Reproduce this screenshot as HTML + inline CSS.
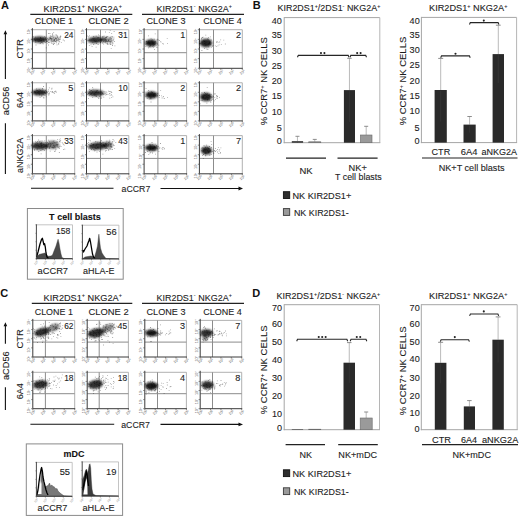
<!DOCTYPE html>
<html><head><meta charset="utf-8"><style>
html,body{margin:0;padding:0;background:#fff;}
svg{display:block;font-family:"Liberation Sans", sans-serif;}
</style></head><body>
<svg width="520" height="517" viewBox="0 0 520 517">
<defs><filter id="bl" x="-30%" y="-30%" width="160%" height="160%"><feGaussianBlur stdDeviation="0.9"/></filter></defs>
<rect width="520" height="517" fill="#fff"/>
<text x="1" y="9" font-size="11" font-weight="bold" fill="#111">A</text>
<text x="43.61" y="11.80" font-size="9" font-weight="normal" fill="#1c1c1c" stroke="#1c1c1c" stroke-width="0.1" textLength="78.28" lengthAdjust="spacingAndGlyphs">KIR2DS1<tspan font-size="5.40" dy="-3.60">+</tspan><tspan dy="3.60"> </tspan>NKG2A<tspan font-size="5.40" dy="-3.60">+</tspan><tspan dy="3.60"></tspan></text>
<text x="156.41" y="11.80" font-size="9" font-weight="normal" fill="#1c1c1c" stroke="#1c1c1c" stroke-width="0.1" textLength="75.38" lengthAdjust="spacingAndGlyphs">KIR2DS1<tspan font-size="5.40" dy="-3.60">-</tspan><tspan dy="3.60"> </tspan>NKG2A<tspan font-size="5.40" dy="-3.60">+</tspan><tspan dy="3.60"></tspan></text>
<line x1="30.3" y1="14.3" x2="132.3" y2="14.3" stroke="#222" stroke-width="1.2"/>
<line x1="142" y1="14.3" x2="244" y2="14.3" stroke="#222" stroke-width="1.2"/>
<text x="34.73" y="24.30" font-size="8.6" font-weight="normal" fill="#1c1c1c" stroke="#1c1c1c" stroke-width="0.1" textLength="38.13" lengthAdjust="spacingAndGlyphs">CLONE 1</text>
<text x="88.43" y="24.30" font-size="8.6" font-weight="normal" fill="#1c1c1c" stroke="#1c1c1c" stroke-width="0.1" textLength="40.23" lengthAdjust="spacingAndGlyphs">CLONE 2</text>
<text x="146.53" y="24.30" font-size="8.6" font-weight="normal" fill="#1c1c1c" stroke="#1c1c1c" stroke-width="0.1" textLength="38.93" lengthAdjust="spacingAndGlyphs">CLONE 3</text>
<text x="203.33" y="24.30" font-size="8.6" font-weight="normal" fill="#1c1c1c" stroke="#1c1c1c" stroke-width="0.1" textLength="38.43" lengthAdjust="spacingAndGlyphs">CLONE 4</text>
<line x1="32.4" y1="29.7" x2="74.69999999999999" y2="29.7" stroke="#a8a8a8" stroke-width="0.9"/>
<line x1="74.69999999999999" y1="29.7" x2="74.69999999999999" y2="68.3" stroke="#a8a8a8" stroke-width="0.9"/>
<line x1="46.3" y1="29.7" x2="46.3" y2="68.3" stroke="#8c8c8c" stroke-width="1.0"/>
<line x1="32.4" y1="52.7" x2="74.69999999999999" y2="52.7" stroke="#8c8c8c" stroke-width="1.0"/>
<line x1="32.4" y1="28.2" x2="32.4" y2="68.3" stroke="#3a3a3a" stroke-width="1.0"/>
<line x1="32.4" y1="68.3" x2="75.19999999999999" y2="68.3" stroke="#3a3a3a" stroke-width="1.0"/>
<line x1="30.799999999999997" y1="68.3" x2="32.4" y2="68.3" stroke="#555" stroke-width="0.7"/>
<line x1="32.4" y1="68.3" x2="32.4" y2="69.89999999999999" stroke="#555" stroke-width="0.7"/>
<line x1="30.799999999999997" y1="58.65" x2="32.4" y2="58.65" stroke="#555" stroke-width="0.7"/>
<line x1="42.974999999999994" y1="68.3" x2="42.974999999999994" y2="69.89999999999999" stroke="#555" stroke-width="0.7"/>
<line x1="30.799999999999997" y1="49.0" x2="32.4" y2="49.0" stroke="#555" stroke-width="0.7"/>
<line x1="53.55" y1="68.3" x2="53.55" y2="69.89999999999999" stroke="#555" stroke-width="0.7"/>
<line x1="30.799999999999997" y1="39.349999999999994" x2="32.4" y2="39.349999999999994" stroke="#555" stroke-width="0.7"/>
<line x1="64.125" y1="68.3" x2="64.125" y2="69.89999999999999" stroke="#555" stroke-width="0.7"/>
<line x1="30.799999999999997" y1="29.699999999999996" x2="32.4" y2="29.699999999999996" stroke="#555" stroke-width="0.7"/>
<line x1="74.69999999999999" y1="68.3" x2="74.69999999999999" y2="69.89999999999999" stroke="#555" stroke-width="0.7"/>
<text x="29.8" y="70.1" font-size="3.8" fill="#6a6a6a" transform="rotate(-90 29.8 70.1)" text-anchor="middle">10<tspan font-size="2.5" dy="-1.2">0</tspan></text>
<text x="33.2" y="73.3" font-size="3.8" fill="#6a6a6a" transform="rotate(-35 33.2 73.3)" text-anchor="middle">10<tspan font-size="2.5" dy="-1.2">0</tspan></text>
<text x="29.8" y="60.4" font-size="3.8" fill="#6a6a6a" transform="rotate(-90 29.8 60.4)" text-anchor="middle">10<tspan font-size="2.5" dy="-1.2">1</tspan></text>
<text x="43.8" y="73.3" font-size="3.8" fill="#6a6a6a" transform="rotate(-35 43.8 73.3)" text-anchor="middle">10<tspan font-size="2.5" dy="-1.2">1</tspan></text>
<text x="29.8" y="50.8" font-size="3.8" fill="#6a6a6a" transform="rotate(-90 29.8 50.8)" text-anchor="middle">10<tspan font-size="2.5" dy="-1.2">2</tspan></text>
<text x="54.3" y="73.3" font-size="3.8" fill="#6a6a6a" transform="rotate(-35 54.3 73.3)" text-anchor="middle">10<tspan font-size="2.5" dy="-1.2">2</tspan></text>
<text x="29.8" y="41.1" font-size="3.8" fill="#6a6a6a" transform="rotate(-90 29.8 41.1)" text-anchor="middle">10<tspan font-size="2.5" dy="-1.2">3</tspan></text>
<text x="64.9" y="73.3" font-size="3.8" fill="#6a6a6a" transform="rotate(-35 64.9 73.3)" text-anchor="middle">10<tspan font-size="2.5" dy="-1.2">3</tspan></text>
<text x="29.8" y="31.5" font-size="3.8" fill="#6a6a6a" transform="rotate(-90 29.8 31.5)" text-anchor="middle">10<tspan font-size="2.5" dy="-1.2">4</tspan></text>
<text x="75.5" y="73.3" font-size="3.8" fill="#6a6a6a" transform="rotate(-35 75.5 73.3)" text-anchor="middle">10<tspan font-size="2.5" dy="-1.2">4</tspan></text>
<g filter="url(#bl)"><ellipse cx="39.5" cy="39.6" rx="7.5" ry="3.2" transform="rotate(0 39.5 39.6)" fill="#111" fill-opacity="0.9"/><ellipse cx="53" cy="39" rx="6" ry="3" transform="rotate(0 53 39)" fill="#111" fill-opacity="0.3"/></g>
<path d="M32.6 40.6h0.8v0.8h-0.8zM45.1 38.3h0.8v0.8h-0.8zM32.0 39.4h0.8v0.8h-0.8zM42.2 42.4h0.8v0.8h-0.8zM32.7 36.3h0.8v0.8h-0.8zM43.5 40.8h0.8v0.8h-0.8zM48.1 42.1h0.8v0.8h-0.8zM38.9 38.9h0.8v0.8h-0.8zM54.0 38.9h0.8v0.8h-0.8zM35.1 36.7h0.8v0.8h-0.8zM40.0 40.0h0.8v0.8h-0.8zM37.6 39.4h0.8v0.8h-0.8zM41.0 41.4h0.8v0.8h-0.8zM45.7 40.1h0.8v0.8h-0.8zM35.1 40.1h0.8v0.8h-0.8zM58.1 39.5h0.8v0.8h-0.8zM44.2 36.2h0.8v0.8h-0.8zM37.9 41.3h0.8v0.8h-0.8zM39.0 40.5h0.8v0.8h-0.8zM40.1 37.0h0.8v0.8h-0.8zM42.7 37.5h0.8v0.8h-0.8zM50.0 38.3h0.8v0.8h-0.8zM43.4 39.6h0.8v0.8h-0.8zM44.9 38.1h0.8v0.8h-0.8zM45.1 39.3h0.8v0.8h-0.8zM46.6 41.2h0.8v0.8h-0.8zM40.3 37.6h0.8v0.8h-0.8zM43.8 40.8h0.8v0.8h-0.8zM48.7 38.6h0.8v0.8h-0.8zM42.6 40.9h0.8v0.8h-0.8zM41.1 40.1h0.8v0.8h-0.8zM40.5 38.1h0.8v0.8h-0.8zM33.8 38.6h0.8v0.8h-0.8zM42.8 43.5h0.8v0.8h-0.8zM45.0 42.3h0.8v0.8h-0.8zM43.9 41.4h0.8v0.8h-0.8zM40.5 41.6h0.8v0.8h-0.8zM49.5 38.8h0.8v0.8h-0.8zM35.6 44.6h0.8v0.8h-0.8zM40.9 42.1h0.8v0.8h-0.8zM44.4 36.7h0.8v0.8h-0.8zM53.2 44.1h0.8v0.8h-0.8zM40.5 41.5h0.8v0.8h-0.8zM40.2 37.3h0.8v0.8h-0.8zM38.9 40.6h0.8v0.8h-0.8zM45.8 41.4h0.8v0.8h-0.8zM39.8 43.1h0.8v0.8h-0.8zM35.2 41.6h0.8v0.8h-0.8zM45.8 38.9h0.8v0.8h-0.8zM44.9 36.8h0.8v0.8h-0.8zM54.1 40.3h0.8v0.8h-0.8zM60.0 36.6h0.8v0.8h-0.8zM53.0 40.6h0.8v0.8h-0.8zM52.3 33.3h0.8v0.8h-0.8zM56.6 44.5h0.8v0.8h-0.8zM57.5 36.8h0.8v0.8h-0.8zM51.1 39.5h0.8v0.8h-0.8zM64.2 40.5h0.8v0.8h-0.8zM53.5 42.7h0.8v0.8h-0.8zM52.6 43.5h0.8v0.8h-0.8zM49.9 37.9h0.8v0.8h-0.8zM56.2 42.4h0.8v0.8h-0.8zM55.9 39.7h0.8v0.8h-0.8zM44.8 37.3h0.8v0.8h-0.8zM50.3 37.7h0.8v0.8h-0.8zM55.6 38.2h0.8v0.8h-0.8zM56.5 39.2h0.8v0.8h-0.8zM51.5 39.3h0.8v0.8h-0.8zM54.9 41.1h0.8v0.8h-0.8zM50.9 38.4h0.8v0.8h-0.8zM46.9 42.8h0.8v0.8h-0.8zM59.5 38.6h0.8v0.8h-0.8zM50.8 36.0h0.8v0.8h-0.8zM53.8 39.5h0.8v0.8h-0.8zM62.8 39.6h0.8v0.8h-0.8zM49.5 33.1h0.8v0.8h-0.8zM59.3 39.5h0.8v0.8h-0.8zM45.8 39.4h0.8v0.8h-0.8zM45.8 47.4h0.8v0.8h-0.8zM58.0 40.4h0.8v0.8h-0.8zM52.2 33.9h0.8v0.8h-0.8zM52.4 35.3h0.8v0.8h-0.8zM55.7 33.9h0.8v0.8h-0.8zM48.9 41.9h0.8v0.8h-0.8zM60.4 36.2h0.8v0.8h-0.8zM46.1 41.1h0.8v0.8h-0.8zM56.8 36.6h0.8v0.8h-0.8zM49.9 37.3h0.8v0.8h-0.8z" fill="#000" fill-opacity="0.45"/>
<path d="M55.2 38.1h0.8v0.8h-0.8zM56.0 38.3h0.8v0.8h-0.8zM60.9 42.3h0.8v0.8h-0.8zM52.4 35.9h0.8v0.8h-0.8zM57.3 36.4h0.8v0.8h-0.8zM58.7 37.5h0.8v0.8h-0.8zM48.2 39.0h0.8v0.8h-0.8zM55.4 38.3h0.8v0.8h-0.8zM53.7 39.5h0.8v0.8h-0.8zM54.0 43.3h0.8v0.8h-0.8zM55.6 40.9h0.8v0.8h-0.8zM47.2 38.0h0.8v0.8h-0.8zM51.2 38.2h0.8v0.8h-0.8zM49.4 37.3h0.8v0.8h-0.8zM59.7 37.4h0.8v0.8h-0.8zM59.5 36.4h0.8v0.8h-0.8zM51.6 38.1h0.8v0.8h-0.8zM53.0 37.4h0.8v0.8h-0.8zM58.3 44.0h0.8v0.8h-0.8zM52.4 36.0h0.8v0.8h-0.8zM55.2 38.4h0.8v0.8h-0.8zM54.0 40.4h0.8v0.8h-0.8zM58.7 41.6h0.8v0.8h-0.8zM60.3 35.4h0.8v0.8h-0.8zM50.9 40.5h0.8v0.8h-0.8zM50.9 41.7h0.8v0.8h-0.8zM50.0 35.6h0.8v0.8h-0.8zM53.9 41.0h0.8v0.8h-0.8zM51.4 43.2h0.8v0.8h-0.8zM53.3 32.3h0.8v0.8h-0.8zM48.0 44.6h0.8v0.8h-0.8zM47.6 40.1h0.8v0.8h-0.8zM56.9 36.8h0.8v0.8h-0.8zM58.1 38.0h0.8v0.8h-0.8zM47.3 41.0h0.8v0.8h-0.8zM47.3 41.3h0.8v0.8h-0.8zM58.6 39.1h0.8v0.8h-0.8zM47.7 40.5h0.8v0.8h-0.8zM55.8 35.3h0.8v0.8h-0.8zM56.2 40.3h0.8v0.8h-0.8zM58.3 43.1h0.8v0.8h-0.8zM49.8 37.9h0.8v0.8h-0.8zM53.7 39.2h0.8v0.8h-0.8zM53.6 39.4h0.8v0.8h-0.8zM57.0 40.0h0.8v0.8h-0.8zM51.8 41.0h0.8v0.8h-0.8zM56.8 35.2h0.8v0.8h-0.8zM57.6 38.5h0.8v0.8h-0.8zM52.5 40.6h0.8v0.8h-0.8zM48.2 33.1h0.8v0.8h-0.8zM60.1 38.7h0.8v0.8h-0.8zM53.3 37.5h0.8v0.8h-0.8zM55.8 41.3h0.8v0.8h-0.8zM55.0 37.5h0.8v0.8h-0.8zM59.3 40.9h0.8v0.8h-0.8z" fill="#000" fill-opacity="0.4"/>
<text x="64.16" y="38.40" font-size="8.2" font-weight="normal" fill="#1c1c1c" stroke="#1c1c1c" stroke-width="0.1" textLength="9.28" lengthAdjust="spacingAndGlyphs">24</text>
<line x1="86.5" y1="29.7" x2="128.8" y2="29.7" stroke="#a8a8a8" stroke-width="0.9"/>
<line x1="128.8" y1="29.7" x2="128.8" y2="68.3" stroke="#a8a8a8" stroke-width="0.9"/>
<line x1="100.5" y1="29.7" x2="100.5" y2="68.3" stroke="#8c8c8c" stroke-width="1.0"/>
<line x1="86.5" y1="52.7" x2="128.8" y2="52.7" stroke="#8c8c8c" stroke-width="1.0"/>
<line x1="86.5" y1="28.2" x2="86.5" y2="68.3" stroke="#3a3a3a" stroke-width="1.0"/>
<line x1="86.5" y1="68.3" x2="129.3" y2="68.3" stroke="#3a3a3a" stroke-width="1.0"/>
<line x1="84.9" y1="68.3" x2="86.5" y2="68.3" stroke="#555" stroke-width="0.7"/>
<line x1="86.5" y1="68.3" x2="86.5" y2="69.89999999999999" stroke="#555" stroke-width="0.7"/>
<line x1="84.9" y1="58.65" x2="86.5" y2="58.65" stroke="#555" stroke-width="0.7"/>
<line x1="97.075" y1="68.3" x2="97.075" y2="69.89999999999999" stroke="#555" stroke-width="0.7"/>
<line x1="84.9" y1="49.0" x2="86.5" y2="49.0" stroke="#555" stroke-width="0.7"/>
<line x1="107.65" y1="68.3" x2="107.65" y2="69.89999999999999" stroke="#555" stroke-width="0.7"/>
<line x1="84.9" y1="39.349999999999994" x2="86.5" y2="39.349999999999994" stroke="#555" stroke-width="0.7"/>
<line x1="118.225" y1="68.3" x2="118.225" y2="69.89999999999999" stroke="#555" stroke-width="0.7"/>
<line x1="84.9" y1="29.699999999999996" x2="86.5" y2="29.699999999999996" stroke="#555" stroke-width="0.7"/>
<line x1="128.8" y1="68.3" x2="128.8" y2="69.89999999999999" stroke="#555" stroke-width="0.7"/>
<text x="83.9" y="70.1" font-size="3.8" fill="#6a6a6a" transform="rotate(-90 83.9 70.1)" text-anchor="middle">10<tspan font-size="2.5" dy="-1.2">0</tspan></text>
<text x="87.3" y="73.3" font-size="3.8" fill="#6a6a6a" transform="rotate(-35 87.3 73.3)" text-anchor="middle">10<tspan font-size="2.5" dy="-1.2">0</tspan></text>
<text x="83.9" y="60.4" font-size="3.8" fill="#6a6a6a" transform="rotate(-90 83.9 60.4)" text-anchor="middle">10<tspan font-size="2.5" dy="-1.2">1</tspan></text>
<text x="97.9" y="73.3" font-size="3.8" fill="#6a6a6a" transform="rotate(-35 97.9 73.3)" text-anchor="middle">10<tspan font-size="2.5" dy="-1.2">1</tspan></text>
<text x="83.9" y="50.8" font-size="3.8" fill="#6a6a6a" transform="rotate(-90 83.9 50.8)" text-anchor="middle">10<tspan font-size="2.5" dy="-1.2">2</tspan></text>
<text x="108.5" y="73.3" font-size="3.8" fill="#6a6a6a" transform="rotate(-35 108.5 73.3)" text-anchor="middle">10<tspan font-size="2.5" dy="-1.2">2</tspan></text>
<text x="83.9" y="41.1" font-size="3.8" fill="#6a6a6a" transform="rotate(-90 83.9 41.1)" text-anchor="middle">10<tspan font-size="2.5" dy="-1.2">3</tspan></text>
<text x="119.0" y="73.3" font-size="3.8" fill="#6a6a6a" transform="rotate(-35 119.0 73.3)" text-anchor="middle">10<tspan font-size="2.5" dy="-1.2">3</tspan></text>
<text x="83.9" y="31.5" font-size="3.8" fill="#6a6a6a" transform="rotate(-90 83.9 31.5)" text-anchor="middle">10<tspan font-size="2.5" dy="-1.2">4</tspan></text>
<text x="129.6" y="73.3" font-size="3.8" fill="#6a6a6a" transform="rotate(-35 129.6 73.3)" text-anchor="middle">10<tspan font-size="2.5" dy="-1.2">4</tspan></text>
<g filter="url(#bl)"><ellipse cx="95.5" cy="40" rx="8" ry="3.2" transform="rotate(-3 95.5 40)" fill="#111" fill-opacity="0.85"/><ellipse cx="104" cy="39.5" rx="3" ry="2.5" transform="rotate(0 104 39.5)" fill="#111" fill-opacity="0.7"/><ellipse cx="109" cy="40" rx="4" ry="3" transform="rotate(0 109 40)" fill="#111" fill-opacity="0.3"/></g>
<path d="M97.5 41.0h0.8v0.8h-0.8zM104.8 41.0h0.8v0.8h-0.8zM87.7 40.1h0.8v0.8h-0.8zM91.7 46.0h0.8v0.8h-0.8zM94.5 40.6h0.8v0.8h-0.8zM90.6 44.5h0.8v0.8h-0.8zM89.1 39.7h0.8v0.8h-0.8zM97.4 36.9h0.8v0.8h-0.8zM98.3 40.2h0.8v0.8h-0.8zM88.9 44.9h0.8v0.8h-0.8zM97.7 44.1h0.8v0.8h-0.8zM99.8 40.9h0.8v0.8h-0.8zM100.3 40.1h0.8v0.8h-0.8zM92.4 42.0h0.8v0.8h-0.8zM101.3 38.9h0.8v0.8h-0.8zM96.3 41.5h0.8v0.8h-0.8zM97.6 37.8h0.8v0.8h-0.8zM94.6 39.6h0.8v0.8h-0.8zM86.8 35.6h0.8v0.8h-0.8zM93.7 38.0h0.8v0.8h-0.8zM93.4 36.5h0.8v0.8h-0.8zM103.4 41.0h0.8v0.8h-0.8zM93.3 44.1h0.8v0.8h-0.8zM94.4 41.0h0.8v0.8h-0.8zM102.4 36.1h0.8v0.8h-0.8zM95.7 46.7h0.8v0.8h-0.8zM98.1 37.3h0.8v0.8h-0.8zM94.9 41.1h0.8v0.8h-0.8zM88.0 36.5h0.8v0.8h-0.8zM96.2 42.9h0.8v0.8h-0.8zM98.2 34.4h0.8v0.8h-0.8zM103.3 41.4h0.8v0.8h-0.8zM93.2 38.8h0.8v0.8h-0.8zM95.8 35.7h0.8v0.8h-0.8zM100.1 42.1h0.8v0.8h-0.8zM91.5 39.5h0.8v0.8h-0.8zM98.8 35.5h0.8v0.8h-0.8zM86.5 43.5h0.8v0.8h-0.8zM103.2 41.3h0.8v0.8h-0.8zM96.1 40.5h0.8v0.8h-0.8zM104.5 38.5h0.8v0.8h-0.8zM100.5 38.9h0.8v0.8h-0.8zM93.6 39.9h0.8v0.8h-0.8zM92.4 38.2h0.8v0.8h-0.8zM95.3 41.0h0.8v0.8h-0.8zM102.4 37.3h0.8v0.8h-0.8zM97.6 37.2h0.8v0.8h-0.8zM99.4 40.7h0.8v0.8h-0.8zM98.8 37.3h0.8v0.8h-0.8zM89.0 35.4h0.8v0.8h-0.8zM93.1 36.3h0.8v0.8h-0.8zM101.1 39.9h0.8v0.8h-0.8zM107.7 41.1h0.8v0.8h-0.8zM99.5 38.8h0.8v0.8h-0.8zM105.8 40.7h0.8v0.8h-0.8zM103.3 43.7h0.8v0.8h-0.8zM104.0 40.5h0.8v0.8h-0.8zM105.2 39.3h0.8v0.8h-0.8zM102.3 42.6h0.8v0.8h-0.8zM106.4 36.4h0.8v0.8h-0.8zM105.9 40.9h0.8v0.8h-0.8zM105.6 39.4h0.8v0.8h-0.8zM103.6 40.4h0.8v0.8h-0.8zM107.2 44.0h0.8v0.8h-0.8zM100.9 41.3h0.8v0.8h-0.8zM105.8 39.6h0.8v0.8h-0.8zM101.3 39.0h0.8v0.8h-0.8zM107.2 41.0h0.8v0.8h-0.8zM109.6 43.0h0.8v0.8h-0.8zM109.9 36.9h0.8v0.8h-0.8zM108.6 40.9h0.8v0.8h-0.8zM110.5 41.3h0.8v0.8h-0.8zM114.5 45.5h0.8v0.8h-0.8zM108.6 40.7h0.8v0.8h-0.8zM109.6 42.5h0.8v0.8h-0.8zM108.0 40.2h0.8v0.8h-0.8zM106.3 37.2h0.8v0.8h-0.8zM109.7 37.1h0.8v0.8h-0.8zM110.7 43.7h0.8v0.8h-0.8zM109.4 40.8h0.8v0.8h-0.8zM107.4 36.2h0.8v0.8h-0.8zM110.4 38.7h0.8v0.8h-0.8zM110.1 41.5h0.8v0.8h-0.8zM112.1 45.1h0.8v0.8h-0.8zM109.6 41.2h0.8v0.8h-0.8zM104.6 42.2h0.8v0.8h-0.8zM105.8 37.3h0.8v0.8h-0.8zM111.3 33.2h0.8v0.8h-0.8zM108.8 40.6h0.8v0.8h-0.8zM106.8 43.4h0.8v0.8h-0.8zM106.4 40.8h0.8v0.8h-0.8zM103.6 35.8h0.8v0.8h-0.8zM112.6 42.7h0.8v0.8h-0.8z" fill="#000" fill-opacity="0.45"/>
<path d="M111.9 36.8h0.8v0.8h-0.8zM111.9 36.0h0.8v0.8h-0.8zM105.6 42.7h0.8v0.8h-0.8zM108.1 39.6h0.8v0.8h-0.8zM108.2 40.1h0.8v0.8h-0.8zM110.7 38.4h0.8v0.8h-0.8zM113.5 38.5h0.8v0.8h-0.8zM111.0 37.7h0.8v0.8h-0.8zM110.1 43.8h0.8v0.8h-0.8zM109.8 30.2h0.8v0.8h-0.8zM110.8 48.2h0.8v0.8h-0.8zM111.3 40.6h0.8v0.8h-0.8zM105.2 31.6h0.8v0.8h-0.8zM110.5 39.8h0.8v0.8h-0.8zM108.6 37.7h0.8v0.8h-0.8zM105.5 41.0h0.8v0.8h-0.8zM105.9 42.7h0.8v0.8h-0.8zM107.3 43.1h0.8v0.8h-0.8zM109.6 37.9h0.8v0.8h-0.8zM113.7 31.1h0.8v0.8h-0.8zM110.7 35.9h0.8v0.8h-0.8zM112.3 43.6h0.8v0.8h-0.8zM111.8 41.9h0.8v0.8h-0.8zM105.4 41.6h0.8v0.8h-0.8zM109.2 39.2h0.8v0.8h-0.8zM106.5 35.9h0.8v0.8h-0.8zM105.5 40.1h0.8v0.8h-0.8zM113.5 36.8h0.8v0.8h-0.8zM110.4 41.8h0.8v0.8h-0.8zM108.3 39.0h0.8v0.8h-0.8zM110.0 44.3h0.8v0.8h-0.8zM107.6 39.5h0.8v0.8h-0.8zM105.1 37.5h0.8v0.8h-0.8zM107.2 41.7h0.8v0.8h-0.8zM111.8 40.5h0.8v0.8h-0.8zM108.5 44.0h0.8v0.8h-0.8zM105.5 37.0h0.8v0.8h-0.8zM113.9 41.1h0.8v0.8h-0.8zM113.1 39.6h0.8v0.8h-0.8zM108.9 32.0h0.8v0.8h-0.8z" fill="#000" fill-opacity="0.4"/>
<text x="118.26" y="38.40" font-size="8.2" font-weight="normal" fill="#1c1c1c" stroke="#1c1c1c" stroke-width="0.1" textLength="9.28" lengthAdjust="spacingAndGlyphs">31</text>
<line x1="144.1" y1="29.7" x2="186.6" y2="29.7" stroke="#a8a8a8" stroke-width="0.9"/>
<line x1="186.6" y1="29.7" x2="186.6" y2="68.3" stroke="#a8a8a8" stroke-width="0.9"/>
<line x1="157.9" y1="29.7" x2="157.9" y2="68.3" stroke="#8c8c8c" stroke-width="1.0"/>
<line x1="144.1" y1="52.7" x2="186.6" y2="52.7" stroke="#8c8c8c" stroke-width="1.0"/>
<line x1="144.1" y1="28.2" x2="144.1" y2="68.3" stroke="#3a3a3a" stroke-width="1.0"/>
<line x1="144.1" y1="68.3" x2="187.1" y2="68.3" stroke="#3a3a3a" stroke-width="1.0"/>
<line x1="142.5" y1="68.3" x2="144.1" y2="68.3" stroke="#555" stroke-width="0.7"/>
<line x1="144.1" y1="68.3" x2="144.1" y2="69.89999999999999" stroke="#555" stroke-width="0.7"/>
<line x1="142.5" y1="58.65" x2="144.1" y2="58.65" stroke="#555" stroke-width="0.7"/>
<line x1="154.725" y1="68.3" x2="154.725" y2="69.89999999999999" stroke="#555" stroke-width="0.7"/>
<line x1="142.5" y1="49.0" x2="144.1" y2="49.0" stroke="#555" stroke-width="0.7"/>
<line x1="165.35" y1="68.3" x2="165.35" y2="69.89999999999999" stroke="#555" stroke-width="0.7"/>
<line x1="142.5" y1="39.349999999999994" x2="144.1" y2="39.349999999999994" stroke="#555" stroke-width="0.7"/>
<line x1="175.975" y1="68.3" x2="175.975" y2="69.89999999999999" stroke="#555" stroke-width="0.7"/>
<line x1="142.5" y1="29.699999999999996" x2="144.1" y2="29.699999999999996" stroke="#555" stroke-width="0.7"/>
<line x1="186.6" y1="68.3" x2="186.6" y2="69.89999999999999" stroke="#555" stroke-width="0.7"/>
<text x="141.5" y="70.1" font-size="3.8" fill="#6a6a6a" transform="rotate(-90 141.5 70.1)" text-anchor="middle">10<tspan font-size="2.5" dy="-1.2">0</tspan></text>
<text x="144.9" y="73.3" font-size="3.8" fill="#6a6a6a" transform="rotate(-35 144.9 73.3)" text-anchor="middle">10<tspan font-size="2.5" dy="-1.2">0</tspan></text>
<text x="141.5" y="60.4" font-size="3.8" fill="#6a6a6a" transform="rotate(-90 141.5 60.4)" text-anchor="middle">10<tspan font-size="2.5" dy="-1.2">1</tspan></text>
<text x="155.5" y="73.3" font-size="3.8" fill="#6a6a6a" transform="rotate(-35 155.5 73.3)" text-anchor="middle">10<tspan font-size="2.5" dy="-1.2">1</tspan></text>
<text x="141.5" y="50.8" font-size="3.8" fill="#6a6a6a" transform="rotate(-90 141.5 50.8)" text-anchor="middle">10<tspan font-size="2.5" dy="-1.2">2</tspan></text>
<text x="166.2" y="73.3" font-size="3.8" fill="#6a6a6a" transform="rotate(-35 166.2 73.3)" text-anchor="middle">10<tspan font-size="2.5" dy="-1.2">2</tspan></text>
<text x="141.5" y="41.1" font-size="3.8" fill="#6a6a6a" transform="rotate(-90 141.5 41.1)" text-anchor="middle">10<tspan font-size="2.5" dy="-1.2">3</tspan></text>
<text x="176.8" y="73.3" font-size="3.8" fill="#6a6a6a" transform="rotate(-35 176.8 73.3)" text-anchor="middle">10<tspan font-size="2.5" dy="-1.2">3</tspan></text>
<text x="141.5" y="31.5" font-size="3.8" fill="#6a6a6a" transform="rotate(-90 141.5 31.5)" text-anchor="middle">10<tspan font-size="2.5" dy="-1.2">4</tspan></text>
<text x="187.4" y="73.3" font-size="3.8" fill="#6a6a6a" transform="rotate(-35 187.4 73.3)" text-anchor="middle">10<tspan font-size="2.5" dy="-1.2">4</tspan></text>
<g filter="url(#bl)"><ellipse cx="151" cy="43" rx="6" ry="3.5" transform="rotate(0 151 43)" fill="#111" fill-opacity="0.95"/></g>
<path d="M152.7 43.1h0.8v0.8h-0.8zM156.5 47.1h0.8v0.8h-0.8zM148.2 35.4h0.8v0.8h-0.8zM153.5 44.5h0.8v0.8h-0.8zM145.4 45.9h0.8v0.8h-0.8zM155.2 41.2h0.8v0.8h-0.8zM151.8 46.2h0.8v0.8h-0.8zM152.8 45.2h0.8v0.8h-0.8zM154.4 41.5h0.8v0.8h-0.8zM146.7 42.7h0.8v0.8h-0.8zM156.9 38.8h0.8v0.8h-0.8zM154.8 33.4h0.8v0.8h-0.8zM148.0 47.4h0.8v0.8h-0.8zM148.9 43.1h0.8v0.8h-0.8zM153.2 46.8h0.8v0.8h-0.8zM146.1 41.1h0.8v0.8h-0.8zM148.0 42.4h0.8v0.8h-0.8zM157.8 39.6h0.8v0.8h-0.8zM148.6 39.9h0.8v0.8h-0.8zM145.4 43.8h0.8v0.8h-0.8zM154.2 49.2h0.8v0.8h-0.8zM149.7 43.6h0.8v0.8h-0.8zM150.1 45.1h0.8v0.8h-0.8zM152.3 39.5h0.8v0.8h-0.8zM153.8 45.8h0.8v0.8h-0.8zM154.4 44.1h0.8v0.8h-0.8zM151.8 41.4h0.8v0.8h-0.8zM145.9 41.2h0.8v0.8h-0.8zM147.8 41.1h0.8v0.8h-0.8zM151.4 40.4h0.8v0.8h-0.8zM157.2 43.6h0.8v0.8h-0.8zM149.5 46.7h0.8v0.8h-0.8zM156.6 39.6h0.8v0.8h-0.8zM145.6 43.7h0.8v0.8h-0.8zM155.6 42.7h0.8v0.8h-0.8zM159.2 40.2h0.8v0.8h-0.8zM155.8 45.5h0.8v0.8h-0.8zM150.7 38.6h0.8v0.8h-0.8zM148.8 45.6h0.8v0.8h-0.8zM148.7 42.1h0.8v0.8h-0.8zM152.5 43.8h0.8v0.8h-0.8zM149.7 46.1h0.8v0.8h-0.8zM153.9 38.8h0.8v0.8h-0.8zM151.7 41.5h0.8v0.8h-0.8zM158.4 44.7h0.8v0.8h-0.8zM152.4 42.4h0.8v0.8h-0.8z" fill="#000" fill-opacity="0.45"/>
<path d="M162.3 42.9h0.8v0.8h-0.8zM167.0 43.2h0.8v0.8h-0.8zM160.6 41.7h0.8v0.8h-0.8zM162.9 43.6h0.8v0.8h-0.8zM160.3 41.2h0.8v0.8h-0.8zM166.8 37.9h0.8v0.8h-0.8z" fill="#000" fill-opacity="0.4"/>
<text x="180.26" y="38.40" font-size="8.2" font-weight="normal" fill="#1c1c1c" stroke="#1c1c1c" stroke-width="0.1" textLength="5.08" lengthAdjust="spacingAndGlyphs">1</text>
<line x1="199.4" y1="29.7" x2="242.3" y2="29.7" stroke="#a8a8a8" stroke-width="0.9"/>
<line x1="242.3" y1="29.7" x2="242.3" y2="68.3" stroke="#a8a8a8" stroke-width="0.9"/>
<line x1="213.5" y1="29.7" x2="213.5" y2="68.3" stroke="#8c8c8c" stroke-width="1.0"/>
<line x1="199.4" y1="52.7" x2="242.3" y2="52.7" stroke="#8c8c8c" stroke-width="1.0"/>
<line x1="199.4" y1="28.2" x2="199.4" y2="68.3" stroke="#3a3a3a" stroke-width="1.0"/>
<line x1="199.4" y1="68.3" x2="242.8" y2="68.3" stroke="#3a3a3a" stroke-width="1.0"/>
<line x1="197.8" y1="68.3" x2="199.4" y2="68.3" stroke="#555" stroke-width="0.7"/>
<line x1="199.4" y1="68.3" x2="199.4" y2="69.89999999999999" stroke="#555" stroke-width="0.7"/>
<line x1="197.8" y1="58.65" x2="199.4" y2="58.65" stroke="#555" stroke-width="0.7"/>
<line x1="210.125" y1="68.3" x2="210.125" y2="69.89999999999999" stroke="#555" stroke-width="0.7"/>
<line x1="197.8" y1="49.0" x2="199.4" y2="49.0" stroke="#555" stroke-width="0.7"/>
<line x1="220.85" y1="68.3" x2="220.85" y2="69.89999999999999" stroke="#555" stroke-width="0.7"/>
<line x1="197.8" y1="39.349999999999994" x2="199.4" y2="39.349999999999994" stroke="#555" stroke-width="0.7"/>
<line x1="231.575" y1="68.3" x2="231.575" y2="69.89999999999999" stroke="#555" stroke-width="0.7"/>
<line x1="197.8" y1="29.699999999999996" x2="199.4" y2="29.699999999999996" stroke="#555" stroke-width="0.7"/>
<line x1="242.3" y1="68.3" x2="242.3" y2="69.89999999999999" stroke="#555" stroke-width="0.7"/>
<text x="196.8" y="70.1" font-size="3.8" fill="#6a6a6a" transform="rotate(-90 196.8 70.1)" text-anchor="middle">10<tspan font-size="2.5" dy="-1.2">0</tspan></text>
<text x="200.2" y="73.3" font-size="3.8" fill="#6a6a6a" transform="rotate(-35 200.2 73.3)" text-anchor="middle">10<tspan font-size="2.5" dy="-1.2">0</tspan></text>
<text x="196.8" y="60.4" font-size="3.8" fill="#6a6a6a" transform="rotate(-90 196.8 60.4)" text-anchor="middle">10<tspan font-size="2.5" dy="-1.2">1</tspan></text>
<text x="210.9" y="73.3" font-size="3.8" fill="#6a6a6a" transform="rotate(-35 210.9 73.3)" text-anchor="middle">10<tspan font-size="2.5" dy="-1.2">1</tspan></text>
<text x="196.8" y="50.8" font-size="3.8" fill="#6a6a6a" transform="rotate(-90 196.8 50.8)" text-anchor="middle">10<tspan font-size="2.5" dy="-1.2">2</tspan></text>
<text x="221.7" y="73.3" font-size="3.8" fill="#6a6a6a" transform="rotate(-35 221.7 73.3)" text-anchor="middle">10<tspan font-size="2.5" dy="-1.2">2</tspan></text>
<text x="196.8" y="41.1" font-size="3.8" fill="#6a6a6a" transform="rotate(-90 196.8 41.1)" text-anchor="middle">10<tspan font-size="2.5" dy="-1.2">3</tspan></text>
<text x="232.4" y="73.3" font-size="3.8" fill="#6a6a6a" transform="rotate(-35 232.4 73.3)" text-anchor="middle">10<tspan font-size="2.5" dy="-1.2">3</tspan></text>
<text x="196.8" y="31.5" font-size="3.8" fill="#6a6a6a" transform="rotate(-90 196.8 31.5)" text-anchor="middle">10<tspan font-size="2.5" dy="-1.2">4</tspan></text>
<text x="243.1" y="73.3" font-size="3.8" fill="#6a6a6a" transform="rotate(-35 243.1 73.3)" text-anchor="middle">10<tspan font-size="2.5" dy="-1.2">4</tspan></text>
<g filter="url(#bl)"><ellipse cx="206" cy="43" rx="6.3" ry="4.3" transform="rotate(0 206 43)" fill="#111" fill-opacity="0.9"/></g>
<path d="M201.5 50.1h0.8v0.8h-0.8zM202.1 37.3h0.8v0.8h-0.8zM209.2 42.0h0.8v0.8h-0.8zM209.9 36.5h0.8v0.8h-0.8zM212.5 45.1h0.8v0.8h-0.8zM203.8 40.9h0.8v0.8h-0.8zM209.4 40.7h0.8v0.8h-0.8zM209.6 41.3h0.8v0.8h-0.8zM208.0 37.3h0.8v0.8h-0.8zM202.7 36.7h0.8v0.8h-0.8zM203.7 41.0h0.8v0.8h-0.8zM204.9 43.4h0.8v0.8h-0.8zM207.0 38.7h0.8v0.8h-0.8zM205.4 34.8h0.8v0.8h-0.8zM200.9 39.4h0.8v0.8h-0.8zM199.1 47.0h0.8v0.8h-0.8zM208.3 43.3h0.8v0.8h-0.8zM204.1 47.9h0.8v0.8h-0.8zM209.8 44.2h0.8v0.8h-0.8zM204.8 41.7h0.8v0.8h-0.8zM204.0 42.9h0.8v0.8h-0.8zM199.2 43.1h0.8v0.8h-0.8zM209.3 43.4h0.8v0.8h-0.8zM200.3 43.3h0.8v0.8h-0.8zM201.3 38.3h0.8v0.8h-0.8zM216.6 41.1h0.8v0.8h-0.8zM201.1 37.7h0.8v0.8h-0.8zM204.2 41.0h0.8v0.8h-0.8zM210.7 39.6h0.8v0.8h-0.8zM201.6 41.5h0.8v0.8h-0.8zM208.3 46.4h0.8v0.8h-0.8zM212.2 46.3h0.8v0.8h-0.8zM205.7 44.2h0.8v0.8h-0.8zM208.8 40.5h0.8v0.8h-0.8zM207.8 44.2h0.8v0.8h-0.8zM205.7 42.4h0.8v0.8h-0.8zM208.2 39.4h0.8v0.8h-0.8zM199.4 43.5h0.8v0.8h-0.8zM207.5 38.6h0.8v0.8h-0.8zM207.6 43.8h0.8v0.8h-0.8zM205.3 44.7h0.8v0.8h-0.8zM207.9 43.5h0.8v0.8h-0.8zM209.4 42.1h0.8v0.8h-0.8zM199.8 43.4h0.8v0.8h-0.8zM209.0 42.6h0.8v0.8h-0.8zM208.9 43.1h0.8v0.8h-0.8zM201.9 36.9h0.8v0.8h-0.8zM203.4 40.3h0.8v0.8h-0.8zM206.5 48.8h0.8v0.8h-0.8zM199.2 40.6h0.8v0.8h-0.8zM211.0 46.8h0.8v0.8h-0.8zM204.6 43.2h0.8v0.8h-0.8zM207.5 48.9h0.8v0.8h-0.8z" fill="#000" fill-opacity="0.45"/>
<path d="M217.6 42.3h0.8v0.8h-0.8zM219.3 41.6h0.8v0.8h-0.8zM224.9 43.8h0.8v0.8h-0.8zM220.9 44.0h0.8v0.8h-0.8zM218.7 44.4h0.8v0.8h-0.8zM217.5 45.4h0.8v0.8h-0.8zM220.3 39.5h0.8v0.8h-0.8zM214.9 45.5h0.8v0.8h-0.8zM216.1 46.2h0.8v0.8h-0.8zM223.4 39.8h0.8v0.8h-0.8zM224.9 43.6h0.8v0.8h-0.8zM216.2 42.3h0.8v0.8h-0.8z" fill="#000" fill-opacity="0.4"/>
<text x="235.96" y="38.40" font-size="8.2" font-weight="normal" fill="#1c1c1c" stroke="#1c1c1c" stroke-width="0.1" textLength="5.08" lengthAdjust="spacingAndGlyphs">2</text>
<line x1="32.4" y1="82.75" x2="74.69999999999999" y2="82.75" stroke="#a8a8a8" stroke-width="0.9"/>
<line x1="74.69999999999999" y1="82.75" x2="74.69999999999999" y2="120.9" stroke="#a8a8a8" stroke-width="0.9"/>
<line x1="46.3" y1="82.75" x2="46.3" y2="120.9" stroke="#8c8c8c" stroke-width="1.0"/>
<line x1="32.4" y1="105.8" x2="74.69999999999999" y2="105.8" stroke="#8c8c8c" stroke-width="1.0"/>
<line x1="32.4" y1="81.25" x2="32.4" y2="120.9" stroke="#3a3a3a" stroke-width="1.0"/>
<line x1="32.4" y1="120.9" x2="75.19999999999999" y2="120.9" stroke="#3a3a3a" stroke-width="1.0"/>
<line x1="30.799999999999997" y1="120.9" x2="32.4" y2="120.9" stroke="#555" stroke-width="0.7"/>
<line x1="32.4" y1="120.9" x2="32.4" y2="122.5" stroke="#555" stroke-width="0.7"/>
<line x1="30.799999999999997" y1="111.36250000000001" x2="32.4" y2="111.36250000000001" stroke="#555" stroke-width="0.7"/>
<line x1="42.974999999999994" y1="120.9" x2="42.974999999999994" y2="122.5" stroke="#555" stroke-width="0.7"/>
<line x1="30.799999999999997" y1="101.825" x2="32.4" y2="101.825" stroke="#555" stroke-width="0.7"/>
<line x1="53.55" y1="120.9" x2="53.55" y2="122.5" stroke="#555" stroke-width="0.7"/>
<line x1="30.799999999999997" y1="92.28750000000001" x2="32.4" y2="92.28750000000001" stroke="#555" stroke-width="0.7"/>
<line x1="64.125" y1="120.9" x2="64.125" y2="122.5" stroke="#555" stroke-width="0.7"/>
<line x1="30.799999999999997" y1="82.75" x2="32.4" y2="82.75" stroke="#555" stroke-width="0.7"/>
<line x1="74.69999999999999" y1="120.9" x2="74.69999999999999" y2="122.5" stroke="#555" stroke-width="0.7"/>
<text x="29.8" y="122.7" font-size="3.8" fill="#6a6a6a" transform="rotate(-90 29.8 122.7)" text-anchor="middle">10<tspan font-size="2.5" dy="-1.2">0</tspan></text>
<text x="33.2" y="125.9" font-size="3.8" fill="#6a6a6a" transform="rotate(-35 33.2 125.9)" text-anchor="middle">10<tspan font-size="2.5" dy="-1.2">0</tspan></text>
<text x="29.8" y="113.2" font-size="3.8" fill="#6a6a6a" transform="rotate(-90 29.8 113.2)" text-anchor="middle">10<tspan font-size="2.5" dy="-1.2">1</tspan></text>
<text x="43.8" y="125.9" font-size="3.8" fill="#6a6a6a" transform="rotate(-35 43.8 125.9)" text-anchor="middle">10<tspan font-size="2.5" dy="-1.2">1</tspan></text>
<text x="29.8" y="103.6" font-size="3.8" fill="#6a6a6a" transform="rotate(-90 29.8 103.6)" text-anchor="middle">10<tspan font-size="2.5" dy="-1.2">2</tspan></text>
<text x="54.3" y="125.9" font-size="3.8" fill="#6a6a6a" transform="rotate(-35 54.3 125.9)" text-anchor="middle">10<tspan font-size="2.5" dy="-1.2">2</tspan></text>
<text x="29.8" y="94.1" font-size="3.8" fill="#6a6a6a" transform="rotate(-90 29.8 94.1)" text-anchor="middle">10<tspan font-size="2.5" dy="-1.2">3</tspan></text>
<text x="64.9" y="125.9" font-size="3.8" fill="#6a6a6a" transform="rotate(-35 64.9 125.9)" text-anchor="middle">10<tspan font-size="2.5" dy="-1.2">3</tspan></text>
<text x="29.8" y="84.5" font-size="3.8" fill="#6a6a6a" transform="rotate(-90 29.8 84.5)" text-anchor="middle">10<tspan font-size="2.5" dy="-1.2">4</tspan></text>
<text x="75.5" y="125.9" font-size="3.8" fill="#6a6a6a" transform="rotate(-35 75.5 125.9)" text-anchor="middle">10<tspan font-size="2.5" dy="-1.2">4</tspan></text>
<g filter="url(#bl)"><ellipse cx="39.5" cy="92.4" rx="7.5" ry="3.2" transform="rotate(0 39.5 92.4)" fill="#111" fill-opacity="0.9"/></g>
<path d="M38.8 92.4h0.8v0.8h-0.8zM39.2 94.5h0.8v0.8h-0.8zM37.4 91.9h0.8v0.8h-0.8zM48.4 94.8h0.8v0.8h-0.8zM43.2 86.1h0.8v0.8h-0.8zM42.2 88.1h0.8v0.8h-0.8zM33.8 90.9h0.8v0.8h-0.8zM48.9 87.5h0.8v0.8h-0.8zM45.8 96.4h0.8v0.8h-0.8zM45.2 93.2h0.8v0.8h-0.8zM46.3 90.9h0.8v0.8h-0.8zM39.0 93.5h0.8v0.8h-0.8zM35.3 92.0h0.8v0.8h-0.8zM41.6 91.4h0.8v0.8h-0.8zM45.4 91.9h0.8v0.8h-0.8zM34.3 91.9h0.8v0.8h-0.8zM37.0 90.2h0.8v0.8h-0.8zM43.4 97.1h0.8v0.8h-0.8zM37.3 92.2h0.8v0.8h-0.8zM38.8 89.5h0.8v0.8h-0.8zM45.7 92.7h0.8v0.8h-0.8zM46.7 92.0h0.8v0.8h-0.8zM39.7 97.0h0.8v0.8h-0.8zM39.0 93.4h0.8v0.8h-0.8zM47.0 91.8h0.8v0.8h-0.8zM44.8 90.3h0.8v0.8h-0.8zM38.3 91.1h0.8v0.8h-0.8zM44.3 91.4h0.8v0.8h-0.8zM35.7 93.7h0.8v0.8h-0.8zM48.2 89.4h0.8v0.8h-0.8zM51.4 88.6h0.8v0.8h-0.8zM36.0 90.0h0.8v0.8h-0.8zM48.7 93.6h0.8v0.8h-0.8zM41.2 95.6h0.8v0.8h-0.8zM44.2 92.0h0.8v0.8h-0.8zM36.1 88.4h0.8v0.8h-0.8zM45.7 91.5h0.8v0.8h-0.8zM38.2 92.6h0.8v0.8h-0.8zM42.8 94.3h0.8v0.8h-0.8zM43.5 97.6h0.8v0.8h-0.8zM45.1 89.7h0.8v0.8h-0.8zM42.5 89.8h0.8v0.8h-0.8zM34.5 91.1h0.8v0.8h-0.8zM44.6 95.0h0.8v0.8h-0.8zM40.1 90.2h0.8v0.8h-0.8zM38.8 91.3h0.8v0.8h-0.8zM44.0 91.7h0.8v0.8h-0.8zM37.3 90.2h0.8v0.8h-0.8z" fill="#000" fill-opacity="0.45"/>
<path d="M54.1 93.2h0.8v0.8h-0.8zM54.4 91.3h0.8v0.8h-0.8zM53.9 91.4h0.8v0.8h-0.8zM55.1 90.7h0.8v0.8h-0.8zM51.5 91.6h0.8v0.8h-0.8zM48.3 91.0h0.8v0.8h-0.8zM51.6 87.7h0.8v0.8h-0.8zM53.4 92.5h0.8v0.8h-0.8zM55.5 91.1h0.8v0.8h-0.8zM52.6 92.2h0.8v0.8h-0.8zM49.2 92.6h0.8v0.8h-0.8zM52.2 91.6h0.8v0.8h-0.8zM55.4 90.7h0.8v0.8h-0.8zM50.3 91.2h0.8v0.8h-0.8zM55.8 92.2h0.8v0.8h-0.8zM48.2 93.5h0.8v0.8h-0.8zM52.0 90.9h0.8v0.8h-0.8zM52.0 91.7h0.8v0.8h-0.8z" fill="#000" fill-opacity="0.4"/>
<text x="68.36" y="91.45" font-size="8.2" font-weight="normal" fill="#1c1c1c" stroke="#1c1c1c" stroke-width="0.1" textLength="5.08" lengthAdjust="spacingAndGlyphs">5</text>
<line x1="86.5" y1="82.75" x2="128.8" y2="82.75" stroke="#a8a8a8" stroke-width="0.9"/>
<line x1="128.8" y1="82.75" x2="128.8" y2="120.9" stroke="#a8a8a8" stroke-width="0.9"/>
<line x1="100.5" y1="82.75" x2="100.5" y2="120.9" stroke="#8c8c8c" stroke-width="1.0"/>
<line x1="86.5" y1="105.8" x2="128.8" y2="105.8" stroke="#8c8c8c" stroke-width="1.0"/>
<line x1="86.5" y1="81.25" x2="86.5" y2="120.9" stroke="#3a3a3a" stroke-width="1.0"/>
<line x1="86.5" y1="120.9" x2="129.3" y2="120.9" stroke="#3a3a3a" stroke-width="1.0"/>
<line x1="84.9" y1="120.9" x2="86.5" y2="120.9" stroke="#555" stroke-width="0.7"/>
<line x1="86.5" y1="120.9" x2="86.5" y2="122.5" stroke="#555" stroke-width="0.7"/>
<line x1="84.9" y1="111.36250000000001" x2="86.5" y2="111.36250000000001" stroke="#555" stroke-width="0.7"/>
<line x1="97.075" y1="120.9" x2="97.075" y2="122.5" stroke="#555" stroke-width="0.7"/>
<line x1="84.9" y1="101.825" x2="86.5" y2="101.825" stroke="#555" stroke-width="0.7"/>
<line x1="107.65" y1="120.9" x2="107.65" y2="122.5" stroke="#555" stroke-width="0.7"/>
<line x1="84.9" y1="92.28750000000001" x2="86.5" y2="92.28750000000001" stroke="#555" stroke-width="0.7"/>
<line x1="118.225" y1="120.9" x2="118.225" y2="122.5" stroke="#555" stroke-width="0.7"/>
<line x1="84.9" y1="82.75" x2="86.5" y2="82.75" stroke="#555" stroke-width="0.7"/>
<line x1="128.8" y1="120.9" x2="128.8" y2="122.5" stroke="#555" stroke-width="0.7"/>
<text x="83.9" y="122.7" font-size="3.8" fill="#6a6a6a" transform="rotate(-90 83.9 122.7)" text-anchor="middle">10<tspan font-size="2.5" dy="-1.2">0</tspan></text>
<text x="87.3" y="125.9" font-size="3.8" fill="#6a6a6a" transform="rotate(-35 87.3 125.9)" text-anchor="middle">10<tspan font-size="2.5" dy="-1.2">0</tspan></text>
<text x="83.9" y="113.2" font-size="3.8" fill="#6a6a6a" transform="rotate(-90 83.9 113.2)" text-anchor="middle">10<tspan font-size="2.5" dy="-1.2">1</tspan></text>
<text x="97.9" y="125.9" font-size="3.8" fill="#6a6a6a" transform="rotate(-35 97.9 125.9)" text-anchor="middle">10<tspan font-size="2.5" dy="-1.2">1</tspan></text>
<text x="83.9" y="103.6" font-size="3.8" fill="#6a6a6a" transform="rotate(-90 83.9 103.6)" text-anchor="middle">10<tspan font-size="2.5" dy="-1.2">2</tspan></text>
<text x="108.5" y="125.9" font-size="3.8" fill="#6a6a6a" transform="rotate(-35 108.5 125.9)" text-anchor="middle">10<tspan font-size="2.5" dy="-1.2">2</tspan></text>
<text x="83.9" y="94.1" font-size="3.8" fill="#6a6a6a" transform="rotate(-90 83.9 94.1)" text-anchor="middle">10<tspan font-size="2.5" dy="-1.2">3</tspan></text>
<text x="119.0" y="125.9" font-size="3.8" fill="#6a6a6a" transform="rotate(-35 119.0 125.9)" text-anchor="middle">10<tspan font-size="2.5" dy="-1.2">3</tspan></text>
<text x="83.9" y="84.5" font-size="3.8" fill="#6a6a6a" transform="rotate(-90 83.9 84.5)" text-anchor="middle">10<tspan font-size="2.5" dy="-1.2">4</tspan></text>
<text x="129.6" y="125.9" font-size="3.8" fill="#6a6a6a" transform="rotate(-35 129.6 125.9)" text-anchor="middle">10<tspan font-size="2.5" dy="-1.2">4</tspan></text>
<g filter="url(#bl)"><ellipse cx="95.5" cy="93" rx="8.5" ry="3.2" transform="rotate(0 95.5 93)" fill="#111" fill-opacity="0.85"/></g>
<path d="M109.4 97.7h0.8v0.8h-0.8zM94.9 91.9h0.8v0.8h-0.8zM93.6 94.0h0.8v0.8h-0.8zM90.8 94.5h0.8v0.8h-0.8zM92.6 88.7h0.8v0.8h-0.8zM90.1 94.3h0.8v0.8h-0.8zM102.9 93.6h0.8v0.8h-0.8zM96.2 96.2h0.8v0.8h-0.8zM112.5 96.5h0.8v0.8h-0.8zM92.0 91.6h0.8v0.8h-0.8zM104.4 92.8h0.8v0.8h-0.8zM89.3 89.1h0.8v0.8h-0.8zM89.2 94.7h0.8v0.8h-0.8zM95.9 91.6h0.8v0.8h-0.8zM96.2 90.5h0.8v0.8h-0.8zM100.9 94.4h0.8v0.8h-0.8zM102.4 92.7h0.8v0.8h-0.8zM103.7 91.2h0.8v0.8h-0.8zM103.4 96.7h0.8v0.8h-0.8zM97.7 97.0h0.8v0.8h-0.8zM108.2 90.7h0.8v0.8h-0.8zM91.3 90.0h0.8v0.8h-0.8zM100.2 91.4h0.8v0.8h-0.8zM88.1 97.9h0.8v0.8h-0.8zM95.1 94.6h0.8v0.8h-0.8zM90.3 90.0h0.8v0.8h-0.8zM98.8 95.6h0.8v0.8h-0.8zM91.1 90.3h0.8v0.8h-0.8zM94.4 94.9h0.8v0.8h-0.8zM92.3 96.9h0.8v0.8h-0.8zM99.0 96.4h0.8v0.8h-0.8zM89.4 89.5h0.8v0.8h-0.8zM89.4 91.8h0.8v0.8h-0.8zM103.6 94.2h0.8v0.8h-0.8zM96.9 90.1h0.8v0.8h-0.8zM98.0 92.3h0.8v0.8h-0.8zM96.8 91.9h0.8v0.8h-0.8zM88.2 93.1h0.8v0.8h-0.8zM100.9 91.5h0.8v0.8h-0.8zM98.4 98.1h0.8v0.8h-0.8zM101.3 96.7h0.8v0.8h-0.8zM93.5 94.8h0.8v0.8h-0.8zM90.5 93.6h0.8v0.8h-0.8zM91.3 92.9h0.8v0.8h-0.8zM87.3 94.0h0.8v0.8h-0.8zM93.8 93.3h0.8v0.8h-0.8zM92.3 86.9h0.8v0.8h-0.8zM91.8 94.9h0.8v0.8h-0.8zM95.5 92.3h0.8v0.8h-0.8zM100.9 98.0h0.8v0.8h-0.8zM100.7 94.0h0.8v0.8h-0.8zM89.6 90.9h0.8v0.8h-0.8zM102.1 93.6h0.8v0.8h-0.8zM96.0 94.8h0.8v0.8h-0.8zM92.2 87.0h0.8v0.8h-0.8zM95.6 95.9h0.8v0.8h-0.8zM94.5 93.6h0.8v0.8h-0.8zM100.6 97.8h0.8v0.8h-0.8z" fill="#000" fill-opacity="0.45"/>
<path d="M105.6 91.0h0.8v0.8h-0.8zM110.7 91.6h0.8v0.8h-0.8zM105.4 94.8h0.8v0.8h-0.8zM111.0 94.3h0.8v0.8h-0.8zM109.1 93.0h0.8v0.8h-0.8zM105.5 93.5h0.8v0.8h-0.8zM104.8 92.6h0.8v0.8h-0.8zM109.8 91.3h0.8v0.8h-0.8zM111.0 97.0h0.8v0.8h-0.8zM109.7 95.0h0.8v0.8h-0.8zM111.5 95.3h0.8v0.8h-0.8zM107.6 94.3h0.8v0.8h-0.8zM106.5 93.7h0.8v0.8h-0.8zM109.7 93.4h0.8v0.8h-0.8zM105.9 94.2h0.8v0.8h-0.8zM109.3 93.5h0.8v0.8h-0.8zM109.3 91.1h0.8v0.8h-0.8zM111.1 91.8h0.8v0.8h-0.8zM106.4 92.2h0.8v0.8h-0.8zM111.4 92.2h0.8v0.8h-0.8z" fill="#000" fill-opacity="0.4"/>
<text x="118.26" y="91.45" font-size="8.2" font-weight="normal" fill="#1c1c1c" stroke="#1c1c1c" stroke-width="0.1" textLength="9.28" lengthAdjust="spacingAndGlyphs">10</text>
<line x1="144.1" y1="82.75" x2="186.6" y2="82.75" stroke="#a8a8a8" stroke-width="0.9"/>
<line x1="186.6" y1="82.75" x2="186.6" y2="120.9" stroke="#a8a8a8" stroke-width="0.9"/>
<line x1="157.9" y1="82.75" x2="157.9" y2="120.9" stroke="#8c8c8c" stroke-width="1.0"/>
<line x1="144.1" y1="105.8" x2="186.6" y2="105.8" stroke="#8c8c8c" stroke-width="1.0"/>
<line x1="144.1" y1="81.25" x2="144.1" y2="120.9" stroke="#3a3a3a" stroke-width="1.0"/>
<line x1="144.1" y1="120.9" x2="187.1" y2="120.9" stroke="#3a3a3a" stroke-width="1.0"/>
<line x1="142.5" y1="120.9" x2="144.1" y2="120.9" stroke="#555" stroke-width="0.7"/>
<line x1="144.1" y1="120.9" x2="144.1" y2="122.5" stroke="#555" stroke-width="0.7"/>
<line x1="142.5" y1="111.36250000000001" x2="144.1" y2="111.36250000000001" stroke="#555" stroke-width="0.7"/>
<line x1="154.725" y1="120.9" x2="154.725" y2="122.5" stroke="#555" stroke-width="0.7"/>
<line x1="142.5" y1="101.825" x2="144.1" y2="101.825" stroke="#555" stroke-width="0.7"/>
<line x1="165.35" y1="120.9" x2="165.35" y2="122.5" stroke="#555" stroke-width="0.7"/>
<line x1="142.5" y1="92.28750000000001" x2="144.1" y2="92.28750000000001" stroke="#555" stroke-width="0.7"/>
<line x1="175.975" y1="120.9" x2="175.975" y2="122.5" stroke="#555" stroke-width="0.7"/>
<line x1="142.5" y1="82.75" x2="144.1" y2="82.75" stroke="#555" stroke-width="0.7"/>
<line x1="186.6" y1="120.9" x2="186.6" y2="122.5" stroke="#555" stroke-width="0.7"/>
<text x="141.5" y="122.7" font-size="3.8" fill="#6a6a6a" transform="rotate(-90 141.5 122.7)" text-anchor="middle">10<tspan font-size="2.5" dy="-1.2">0</tspan></text>
<text x="144.9" y="125.9" font-size="3.8" fill="#6a6a6a" transform="rotate(-35 144.9 125.9)" text-anchor="middle">10<tspan font-size="2.5" dy="-1.2">0</tspan></text>
<text x="141.5" y="113.2" font-size="3.8" fill="#6a6a6a" transform="rotate(-90 141.5 113.2)" text-anchor="middle">10<tspan font-size="2.5" dy="-1.2">1</tspan></text>
<text x="155.5" y="125.9" font-size="3.8" fill="#6a6a6a" transform="rotate(-35 155.5 125.9)" text-anchor="middle">10<tspan font-size="2.5" dy="-1.2">1</tspan></text>
<text x="141.5" y="103.6" font-size="3.8" fill="#6a6a6a" transform="rotate(-90 141.5 103.6)" text-anchor="middle">10<tspan font-size="2.5" dy="-1.2">2</tspan></text>
<text x="166.2" y="125.9" font-size="3.8" fill="#6a6a6a" transform="rotate(-35 166.2 125.9)" text-anchor="middle">10<tspan font-size="2.5" dy="-1.2">2</tspan></text>
<text x="141.5" y="94.1" font-size="3.8" fill="#6a6a6a" transform="rotate(-90 141.5 94.1)" text-anchor="middle">10<tspan font-size="2.5" dy="-1.2">3</tspan></text>
<text x="176.8" y="125.9" font-size="3.8" fill="#6a6a6a" transform="rotate(-35 176.8 125.9)" text-anchor="middle">10<tspan font-size="2.5" dy="-1.2">3</tspan></text>
<text x="141.5" y="84.5" font-size="3.8" fill="#6a6a6a" transform="rotate(-90 141.5 84.5)" text-anchor="middle">10<tspan font-size="2.5" dy="-1.2">4</tspan></text>
<text x="187.4" y="125.9" font-size="3.8" fill="#6a6a6a" transform="rotate(-35 187.4 125.9)" text-anchor="middle">10<tspan font-size="2.5" dy="-1.2">4</tspan></text>
<g filter="url(#bl)"><ellipse cx="151.5" cy="95" rx="6.3" ry="3.5" transform="rotate(0 151.5 95)" fill="#111" fill-opacity="0.95"/></g>
<path d="M148.2 94.2h0.8v0.8h-0.8zM149.9 98.0h0.8v0.8h-0.8zM151.0 91.6h0.8v0.8h-0.8zM150.5 98.6h0.8v0.8h-0.8zM153.3 94.5h0.8v0.8h-0.8zM155.0 95.4h0.8v0.8h-0.8zM149.6 94.0h0.8v0.8h-0.8zM159.2 95.1h0.8v0.8h-0.8zM155.3 93.3h0.8v0.8h-0.8zM150.6 101.6h0.8v0.8h-0.8zM152.6 95.0h0.8v0.8h-0.8zM146.8 98.0h0.8v0.8h-0.8zM149.1 96.5h0.8v0.8h-0.8zM156.9 93.4h0.8v0.8h-0.8zM148.0 92.3h0.8v0.8h-0.8zM144.6 91.7h0.8v0.8h-0.8zM150.9 97.4h0.8v0.8h-0.8zM145.6 88.2h0.8v0.8h-0.8zM150.0 97.2h0.8v0.8h-0.8zM158.8 96.9h0.8v0.8h-0.8zM157.1 95.3h0.8v0.8h-0.8zM156.6 95.7h0.8v0.8h-0.8zM148.1 93.0h0.8v0.8h-0.8zM151.7 92.1h0.8v0.8h-0.8zM148.8 98.7h0.8v0.8h-0.8zM152.9 94.2h0.8v0.8h-0.8zM145.5 96.2h0.8v0.8h-0.8zM149.4 95.3h0.8v0.8h-0.8zM152.2 92.0h0.8v0.8h-0.8zM151.6 93.0h0.8v0.8h-0.8zM152.8 95.3h0.8v0.8h-0.8zM149.8 98.0h0.8v0.8h-0.8zM148.1 90.2h0.8v0.8h-0.8zM149.3 95.1h0.8v0.8h-0.8zM154.1 94.7h0.8v0.8h-0.8zM152.8 93.5h0.8v0.8h-0.8zM157.6 92.8h0.8v0.8h-0.8zM150.9 94.0h0.8v0.8h-0.8zM150.4 95.7h0.8v0.8h-0.8zM148.9 94.9h0.8v0.8h-0.8zM154.3 93.1h0.8v0.8h-0.8zM149.9 92.7h0.8v0.8h-0.8zM153.9 96.6h0.8v0.8h-0.8zM163.8 98.1h0.8v0.8h-0.8zM152.9 95.6h0.8v0.8h-0.8z" fill="#000" fill-opacity="0.45"/>
<path d="M160.3 90.2h0.8v0.8h-0.8zM163.1 96.0h0.8v0.8h-0.8zM161.2 95.4h0.8v0.8h-0.8zM167.0 97.3h0.8v0.8h-0.8zM161.7 97.6h0.8v0.8h-0.8zM162.8 96.5h0.8v0.8h-0.8z" fill="#000" fill-opacity="0.4"/>
<text x="180.26" y="91.45" font-size="8.2" font-weight="normal" fill="#1c1c1c" stroke="#1c1c1c" stroke-width="0.1" textLength="5.08" lengthAdjust="spacingAndGlyphs">2</text>
<line x1="199.4" y1="82.75" x2="242.3" y2="82.75" stroke="#a8a8a8" stroke-width="0.9"/>
<line x1="242.3" y1="82.75" x2="242.3" y2="120.9" stroke="#a8a8a8" stroke-width="0.9"/>
<line x1="213.5" y1="82.75" x2="213.5" y2="120.9" stroke="#8c8c8c" stroke-width="1.0"/>
<line x1="199.4" y1="105.8" x2="242.3" y2="105.8" stroke="#8c8c8c" stroke-width="1.0"/>
<line x1="199.4" y1="81.25" x2="199.4" y2="120.9" stroke="#3a3a3a" stroke-width="1.0"/>
<line x1="199.4" y1="120.9" x2="242.8" y2="120.9" stroke="#3a3a3a" stroke-width="1.0"/>
<line x1="197.8" y1="120.9" x2="199.4" y2="120.9" stroke="#555" stroke-width="0.7"/>
<line x1="199.4" y1="120.9" x2="199.4" y2="122.5" stroke="#555" stroke-width="0.7"/>
<line x1="197.8" y1="111.36250000000001" x2="199.4" y2="111.36250000000001" stroke="#555" stroke-width="0.7"/>
<line x1="210.125" y1="120.9" x2="210.125" y2="122.5" stroke="#555" stroke-width="0.7"/>
<line x1="197.8" y1="101.825" x2="199.4" y2="101.825" stroke="#555" stroke-width="0.7"/>
<line x1="220.85" y1="120.9" x2="220.85" y2="122.5" stroke="#555" stroke-width="0.7"/>
<line x1="197.8" y1="92.28750000000001" x2="199.4" y2="92.28750000000001" stroke="#555" stroke-width="0.7"/>
<line x1="231.575" y1="120.9" x2="231.575" y2="122.5" stroke="#555" stroke-width="0.7"/>
<line x1="197.8" y1="82.75" x2="199.4" y2="82.75" stroke="#555" stroke-width="0.7"/>
<line x1="242.3" y1="120.9" x2="242.3" y2="122.5" stroke="#555" stroke-width="0.7"/>
<text x="196.8" y="122.7" font-size="3.8" fill="#6a6a6a" transform="rotate(-90 196.8 122.7)" text-anchor="middle">10<tspan font-size="2.5" dy="-1.2">0</tspan></text>
<text x="200.2" y="125.9" font-size="3.8" fill="#6a6a6a" transform="rotate(-35 200.2 125.9)" text-anchor="middle">10<tspan font-size="2.5" dy="-1.2">0</tspan></text>
<text x="196.8" y="113.2" font-size="3.8" fill="#6a6a6a" transform="rotate(-90 196.8 113.2)" text-anchor="middle">10<tspan font-size="2.5" dy="-1.2">1</tspan></text>
<text x="210.9" y="125.9" font-size="3.8" fill="#6a6a6a" transform="rotate(-35 210.9 125.9)" text-anchor="middle">10<tspan font-size="2.5" dy="-1.2">1</tspan></text>
<text x="196.8" y="103.6" font-size="3.8" fill="#6a6a6a" transform="rotate(-90 196.8 103.6)" text-anchor="middle">10<tspan font-size="2.5" dy="-1.2">2</tspan></text>
<text x="221.7" y="125.9" font-size="3.8" fill="#6a6a6a" transform="rotate(-35 221.7 125.9)" text-anchor="middle">10<tspan font-size="2.5" dy="-1.2">2</tspan></text>
<text x="196.8" y="94.1" font-size="3.8" fill="#6a6a6a" transform="rotate(-90 196.8 94.1)" text-anchor="middle">10<tspan font-size="2.5" dy="-1.2">3</tspan></text>
<text x="232.4" y="125.9" font-size="3.8" fill="#6a6a6a" transform="rotate(-35 232.4 125.9)" text-anchor="middle">10<tspan font-size="2.5" dy="-1.2">3</tspan></text>
<text x="196.8" y="84.5" font-size="3.8" fill="#6a6a6a" transform="rotate(-90 196.8 84.5)" text-anchor="middle">10<tspan font-size="2.5" dy="-1.2">4</tspan></text>
<text x="243.1" y="125.9" font-size="3.8" fill="#6a6a6a" transform="rotate(-35 243.1 125.9)" text-anchor="middle">10<tspan font-size="2.5" dy="-1.2">4</tspan></text>
<g filter="url(#bl)"><ellipse cx="206" cy="97" rx="6" ry="4.2" transform="rotate(0 206 97)" fill="#111" fill-opacity="0.9"/></g>
<path d="M206.5 102.7h0.8v0.8h-0.8zM205.8 96.8h0.8v0.8h-0.8zM202.8 96.9h0.8v0.8h-0.8zM211.7 97.2h0.8v0.8h-0.8zM211.0 99.9h0.8v0.8h-0.8zM204.2 92.1h0.8v0.8h-0.8zM216.8 96.3h0.8v0.8h-0.8zM205.2 93.0h0.8v0.8h-0.8zM209.7 99.9h0.8v0.8h-0.8zM207.5 94.7h0.8v0.8h-0.8zM200.9 93.7h0.8v0.8h-0.8zM207.0 98.8h0.8v0.8h-0.8zM202.3 97.5h0.8v0.8h-0.8zM202.9 95.8h0.8v0.8h-0.8zM208.3 95.1h0.8v0.8h-0.8zM205.2 97.7h0.8v0.8h-0.8zM209.0 94.2h0.8v0.8h-0.8zM206.8 86.9h0.8v0.8h-0.8zM210.6 94.1h0.8v0.8h-0.8zM210.2 101.6h0.8v0.8h-0.8zM209.0 95.2h0.8v0.8h-0.8zM208.7 99.1h0.8v0.8h-0.8zM206.3 96.7h0.8v0.8h-0.8zM210.5 101.7h0.8v0.8h-0.8zM202.7 96.6h0.8v0.8h-0.8zM210.2 101.5h0.8v0.8h-0.8zM214.7 93.4h0.8v0.8h-0.8zM211.9 95.8h0.8v0.8h-0.8zM206.5 96.0h0.8v0.8h-0.8zM207.2 99.2h0.8v0.8h-0.8zM203.3 97.5h0.8v0.8h-0.8zM200.6 100.2h0.8v0.8h-0.8zM207.5 97.1h0.8v0.8h-0.8zM207.3 99.6h0.8v0.8h-0.8zM210.9 99.8h0.8v0.8h-0.8zM206.8 93.3h0.8v0.8h-0.8zM208.6 100.5h0.8v0.8h-0.8zM211.3 96.6h0.8v0.8h-0.8zM213.2 96.0h0.8v0.8h-0.8zM203.8 97.8h0.8v0.8h-0.8zM209.5 96.2h0.8v0.8h-0.8zM201.5 91.9h0.8v0.8h-0.8zM211.9 97.4h0.8v0.8h-0.8zM209.7 95.7h0.8v0.8h-0.8zM208.6 97.7h0.8v0.8h-0.8zM206.3 94.0h0.8v0.8h-0.8zM201.8 100.3h0.8v0.8h-0.8zM212.4 99.0h0.8v0.8h-0.8zM204.5 95.1h0.8v0.8h-0.8zM199.8 103.5h0.8v0.8h-0.8zM203.5 97.5h0.8v0.8h-0.8z" fill="#000" fill-opacity="0.45"/>
<path d="M213.8 100.5h0.8v0.8h-0.8zM216.8 96.3h0.8v0.8h-0.8zM216.5 97.6h0.8v0.8h-0.8zM216.0 95.0h0.8v0.8h-0.8zM214.4 97.0h0.8v0.8h-0.8zM216.6 95.5h0.8v0.8h-0.8zM219.0 97.2h0.8v0.8h-0.8zM215.2 98.9h0.8v0.8h-0.8zM216.8 98.3h0.8v0.8h-0.8zM214.4 93.6h0.8v0.8h-0.8z" fill="#000" fill-opacity="0.4"/>
<text x="235.96" y="91.45" font-size="8.2" font-weight="normal" fill="#1c1c1c" stroke="#1c1c1c" stroke-width="0.1" textLength="5.08" lengthAdjust="spacingAndGlyphs">2</text>
<line x1="32.4" y1="135.6" x2="74.69999999999999" y2="135.6" stroke="#a8a8a8" stroke-width="0.9"/>
<line x1="74.69999999999999" y1="135.6" x2="74.69999999999999" y2="173.8" stroke="#a8a8a8" stroke-width="0.9"/>
<line x1="46.3" y1="135.6" x2="46.3" y2="173.8" stroke="#8c8c8c" stroke-width="1.0"/>
<line x1="32.4" y1="158.4" x2="74.69999999999999" y2="158.4" stroke="#8c8c8c" stroke-width="1.0"/>
<line x1="32.4" y1="134.1" x2="32.4" y2="173.8" stroke="#3a3a3a" stroke-width="1.0"/>
<line x1="32.4" y1="173.8" x2="75.19999999999999" y2="173.8" stroke="#3a3a3a" stroke-width="1.0"/>
<line x1="30.799999999999997" y1="173.8" x2="32.4" y2="173.8" stroke="#555" stroke-width="0.7"/>
<line x1="32.4" y1="173.8" x2="32.4" y2="175.4" stroke="#555" stroke-width="0.7"/>
<line x1="30.799999999999997" y1="164.25" x2="32.4" y2="164.25" stroke="#555" stroke-width="0.7"/>
<line x1="42.974999999999994" y1="173.8" x2="42.974999999999994" y2="175.4" stroke="#555" stroke-width="0.7"/>
<line x1="30.799999999999997" y1="154.70000000000002" x2="32.4" y2="154.70000000000002" stroke="#555" stroke-width="0.7"/>
<line x1="53.55" y1="173.8" x2="53.55" y2="175.4" stroke="#555" stroke-width="0.7"/>
<line x1="30.799999999999997" y1="145.15" x2="32.4" y2="145.15" stroke="#555" stroke-width="0.7"/>
<line x1="64.125" y1="173.8" x2="64.125" y2="175.4" stroke="#555" stroke-width="0.7"/>
<line x1="30.799999999999997" y1="135.60000000000002" x2="32.4" y2="135.60000000000002" stroke="#555" stroke-width="0.7"/>
<line x1="74.69999999999999" y1="173.8" x2="74.69999999999999" y2="175.4" stroke="#555" stroke-width="0.7"/>
<text x="29.8" y="175.6" font-size="3.8" fill="#6a6a6a" transform="rotate(-90 29.8 175.6)" text-anchor="middle">10<tspan font-size="2.5" dy="-1.2">0</tspan></text>
<text x="33.2" y="178.8" font-size="3.8" fill="#6a6a6a" transform="rotate(-35 33.2 178.8)" text-anchor="middle">10<tspan font-size="2.5" dy="-1.2">0</tspan></text>
<text x="29.8" y="166.1" font-size="3.8" fill="#6a6a6a" transform="rotate(-90 29.8 166.1)" text-anchor="middle">10<tspan font-size="2.5" dy="-1.2">1</tspan></text>
<text x="43.8" y="178.8" font-size="3.8" fill="#6a6a6a" transform="rotate(-35 43.8 178.8)" text-anchor="middle">10<tspan font-size="2.5" dy="-1.2">1</tspan></text>
<text x="29.8" y="156.5" font-size="3.8" fill="#6a6a6a" transform="rotate(-90 29.8 156.5)" text-anchor="middle">10<tspan font-size="2.5" dy="-1.2">2</tspan></text>
<text x="54.3" y="178.8" font-size="3.8" fill="#6a6a6a" transform="rotate(-35 54.3 178.8)" text-anchor="middle">10<tspan font-size="2.5" dy="-1.2">2</tspan></text>
<text x="29.8" y="147.0" font-size="3.8" fill="#6a6a6a" transform="rotate(-90 29.8 147.0)" text-anchor="middle">10<tspan font-size="2.5" dy="-1.2">3</tspan></text>
<text x="64.9" y="178.8" font-size="3.8" fill="#6a6a6a" transform="rotate(-35 64.9 178.8)" text-anchor="middle">10<tspan font-size="2.5" dy="-1.2">3</tspan></text>
<text x="29.8" y="137.4" font-size="3.8" fill="#6a6a6a" transform="rotate(-90 29.8 137.4)" text-anchor="middle">10<tspan font-size="2.5" dy="-1.2">4</tspan></text>
<text x="75.5" y="178.8" font-size="3.8" fill="#6a6a6a" transform="rotate(-35 75.5 178.8)" text-anchor="middle">10<tspan font-size="2.5" dy="-1.2">4</tspan></text>
<g filter="url(#bl)"><ellipse cx="40" cy="146" rx="8.5" ry="3.8" transform="rotate(0 40 146)" fill="#111" fill-opacity="0.85"/><ellipse cx="52.5" cy="144.8" rx="6.5" ry="4" transform="rotate(0 52.5 144.8)" fill="#111" fill-opacity="0.6"/></g>
<path d="M35.1 141.5h0.8v0.8h-0.8zM36.8 149.0h0.8v0.8h-0.8zM40.9 145.3h0.8v0.8h-0.8zM41.7 145.2h0.8v0.8h-0.8zM41.2 142.0h0.8v0.8h-0.8zM40.2 143.4h0.8v0.8h-0.8zM41.1 146.0h0.8v0.8h-0.8zM41.4 142.3h0.8v0.8h-0.8zM51.0 143.8h0.8v0.8h-0.8zM38.0 145.0h0.8v0.8h-0.8zM36.4 141.9h0.8v0.8h-0.8zM41.7 148.8h0.8v0.8h-0.8zM38.3 139.6h0.8v0.8h-0.8zM33.0 146.6h0.8v0.8h-0.8zM35.5 143.9h0.8v0.8h-0.8zM42.6 149.0h0.8v0.8h-0.8zM49.4 147.6h0.8v0.8h-0.8zM40.8 143.4h0.8v0.8h-0.8zM39.8 140.7h0.8v0.8h-0.8zM53.5 147.2h0.8v0.8h-0.8zM43.4 146.6h0.8v0.8h-0.8zM49.5 146.0h0.8v0.8h-0.8zM40.3 143.1h0.8v0.8h-0.8zM38.3 146.2h0.8v0.8h-0.8zM47.4 143.8h0.8v0.8h-0.8zM33.5 143.2h0.8v0.8h-0.8zM34.2 149.9h0.8v0.8h-0.8zM45.1 148.0h0.8v0.8h-0.8zM36.4 145.0h0.8v0.8h-0.8zM36.6 143.5h0.8v0.8h-0.8zM34.9 143.3h0.8v0.8h-0.8zM37.6 144.9h0.8v0.8h-0.8zM50.3 143.8h0.8v0.8h-0.8zM39.0 146.0h0.8v0.8h-0.8zM45.7 147.6h0.8v0.8h-0.8zM46.9 146.8h0.8v0.8h-0.8zM41.6 147.3h0.8v0.8h-0.8zM41.2 145.6h0.8v0.8h-0.8zM37.0 141.0h0.8v0.8h-0.8zM43.3 144.2h0.8v0.8h-0.8zM40.5 150.1h0.8v0.8h-0.8zM41.6 140.6h0.8v0.8h-0.8zM39.5 142.2h0.8v0.8h-0.8zM46.3 145.9h0.8v0.8h-0.8zM50.1 144.7h0.8v0.8h-0.8zM45.1 146.3h0.8v0.8h-0.8zM32.7 141.8h0.8v0.8h-0.8zM44.8 141.9h0.8v0.8h-0.8zM36.9 142.8h0.8v0.8h-0.8zM46.6 146.2h0.8v0.8h-0.8zM44.0 150.0h0.8v0.8h-0.8zM40.7 153.5h0.8v0.8h-0.8zM33.9 149.1h0.8v0.8h-0.8zM47.2 142.2h0.8v0.8h-0.8zM44.4 140.4h0.8v0.8h-0.8zM49.0 147.0h0.8v0.8h-0.8zM39.9 145.7h0.8v0.8h-0.8zM36.9 148.4h0.8v0.8h-0.8zM41.4 144.9h0.8v0.8h-0.8zM43.9 149.7h0.8v0.8h-0.8zM41.3 143.1h0.8v0.8h-0.8zM40.7 144.0h0.8v0.8h-0.8zM60.7 146.2h0.8v0.8h-0.8zM49.1 141.4h0.8v0.8h-0.8zM56.8 145.7h0.8v0.8h-0.8zM38.8 141.0h0.8v0.8h-0.8zM57.3 139.3h0.8v0.8h-0.8zM50.0 146.0h0.8v0.8h-0.8zM54.9 150.6h0.8v0.8h-0.8zM59.6 144.8h0.8v0.8h-0.8zM58.1 146.9h0.8v0.8h-0.8zM55.5 148.9h0.8v0.8h-0.8zM53.3 147.6h0.8v0.8h-0.8zM57.9 144.5h0.8v0.8h-0.8zM56.0 141.8h0.8v0.8h-0.8zM53.0 144.7h0.8v0.8h-0.8zM54.1 151.0h0.8v0.8h-0.8zM56.6 144.3h0.8v0.8h-0.8zM54.3 146.3h0.8v0.8h-0.8zM57.6 147.0h0.8v0.8h-0.8zM52.4 147.3h0.8v0.8h-0.8zM48.3 139.8h0.8v0.8h-0.8zM57.0 143.9h0.8v0.8h-0.8zM53.5 140.4h0.8v0.8h-0.8zM50.3 143.0h0.8v0.8h-0.8zM49.8 150.7h0.8v0.8h-0.8zM48.8 148.3h0.8v0.8h-0.8zM52.3 147.4h0.8v0.8h-0.8zM45.7 145.1h0.8v0.8h-0.8zM53.5 145.6h0.8v0.8h-0.8zM54.6 147.5h0.8v0.8h-0.8zM54.6 144.9h0.8v0.8h-0.8zM48.3 144.3h0.8v0.8h-0.8zM52.4 146.8h0.8v0.8h-0.8zM64.4 148.7h0.8v0.8h-0.8zM52.9 146.9h0.8v0.8h-0.8zM44.5 144.5h0.8v0.8h-0.8zM47.6 146.8h0.8v0.8h-0.8zM43.9 145.8h0.8v0.8h-0.8zM38.4 151.1h0.8v0.8h-0.8zM59.6 140.7h0.8v0.8h-0.8zM56.9 144.8h0.8v0.8h-0.8zM63.2 149.0h0.8v0.8h-0.8zM53.4 145.3h0.8v0.8h-0.8zM57.3 141.6h0.8v0.8h-0.8zM57.7 145.9h0.8v0.8h-0.8zM48.2 142.9h0.8v0.8h-0.8zM49.0 143.5h0.8v0.8h-0.8zM62.9 144.2h0.8v0.8h-0.8zM54.5 142.1h0.8v0.8h-0.8zM59.4 146.1h0.8v0.8h-0.8zM60.3 140.2h0.8v0.8h-0.8zM50.4 145.5h0.8v0.8h-0.8zM54.6 146.7h0.8v0.8h-0.8zM56.0 144.4h0.8v0.8h-0.8zM52.8 141.5h0.8v0.8h-0.8zM52.4 143.1h0.8v0.8h-0.8zM58.0 146.9h0.8v0.8h-0.8zM51.5 146.9h0.8v0.8h-0.8z" fill="#000" fill-opacity="0.45"/>
<path d="M62.5 143.2h0.8v0.8h-0.8zM58.7 148.2h0.8v0.8h-0.8zM63.8 144.8h0.8v0.8h-0.8zM59.3 141.1h0.8v0.8h-0.8zM59.1 147.6h0.8v0.8h-0.8zM59.6 141.8h0.8v0.8h-0.8zM59.9 138.5h0.8v0.8h-0.8zM59.1 139.4h0.8v0.8h-0.8zM58.9 152.1h0.8v0.8h-0.8zM61.8 141.9h0.8v0.8h-0.8z" fill="#000" fill-opacity="0.4"/>
<text x="64.16" y="144.30" font-size="8.2" font-weight="normal" fill="#1c1c1c" stroke="#1c1c1c" stroke-width="0.1" textLength="9.28" lengthAdjust="spacingAndGlyphs">33</text>
<line x1="86.5" y1="135.6" x2="128.8" y2="135.6" stroke="#a8a8a8" stroke-width="0.9"/>
<line x1="128.8" y1="135.6" x2="128.8" y2="173.8" stroke="#a8a8a8" stroke-width="0.9"/>
<line x1="100.5" y1="135.6" x2="100.5" y2="173.8" stroke="#8c8c8c" stroke-width="1.0"/>
<line x1="86.5" y1="158.4" x2="128.8" y2="158.4" stroke="#8c8c8c" stroke-width="1.0"/>
<line x1="86.5" y1="134.1" x2="86.5" y2="173.8" stroke="#3a3a3a" stroke-width="1.0"/>
<line x1="86.5" y1="173.8" x2="129.3" y2="173.8" stroke="#3a3a3a" stroke-width="1.0"/>
<line x1="84.9" y1="173.8" x2="86.5" y2="173.8" stroke="#555" stroke-width="0.7"/>
<line x1="86.5" y1="173.8" x2="86.5" y2="175.4" stroke="#555" stroke-width="0.7"/>
<line x1="84.9" y1="164.25" x2="86.5" y2="164.25" stroke="#555" stroke-width="0.7"/>
<line x1="97.075" y1="173.8" x2="97.075" y2="175.4" stroke="#555" stroke-width="0.7"/>
<line x1="84.9" y1="154.70000000000002" x2="86.5" y2="154.70000000000002" stroke="#555" stroke-width="0.7"/>
<line x1="107.65" y1="173.8" x2="107.65" y2="175.4" stroke="#555" stroke-width="0.7"/>
<line x1="84.9" y1="145.15" x2="86.5" y2="145.15" stroke="#555" stroke-width="0.7"/>
<line x1="118.225" y1="173.8" x2="118.225" y2="175.4" stroke="#555" stroke-width="0.7"/>
<line x1="84.9" y1="135.60000000000002" x2="86.5" y2="135.60000000000002" stroke="#555" stroke-width="0.7"/>
<line x1="128.8" y1="173.8" x2="128.8" y2="175.4" stroke="#555" stroke-width="0.7"/>
<text x="83.9" y="175.6" font-size="3.8" fill="#6a6a6a" transform="rotate(-90 83.9 175.6)" text-anchor="middle">10<tspan font-size="2.5" dy="-1.2">0</tspan></text>
<text x="87.3" y="178.8" font-size="3.8" fill="#6a6a6a" transform="rotate(-35 87.3 178.8)" text-anchor="middle">10<tspan font-size="2.5" dy="-1.2">0</tspan></text>
<text x="83.9" y="166.1" font-size="3.8" fill="#6a6a6a" transform="rotate(-90 83.9 166.1)" text-anchor="middle">10<tspan font-size="2.5" dy="-1.2">1</tspan></text>
<text x="97.9" y="178.8" font-size="3.8" fill="#6a6a6a" transform="rotate(-35 97.9 178.8)" text-anchor="middle">10<tspan font-size="2.5" dy="-1.2">1</tspan></text>
<text x="83.9" y="156.5" font-size="3.8" fill="#6a6a6a" transform="rotate(-90 83.9 156.5)" text-anchor="middle">10<tspan font-size="2.5" dy="-1.2">2</tspan></text>
<text x="108.5" y="178.8" font-size="3.8" fill="#6a6a6a" transform="rotate(-35 108.5 178.8)" text-anchor="middle">10<tspan font-size="2.5" dy="-1.2">2</tspan></text>
<text x="83.9" y="147.0" font-size="3.8" fill="#6a6a6a" transform="rotate(-90 83.9 147.0)" text-anchor="middle">10<tspan font-size="2.5" dy="-1.2">3</tspan></text>
<text x="119.0" y="178.8" font-size="3.8" fill="#6a6a6a" transform="rotate(-35 119.0 178.8)" text-anchor="middle">10<tspan font-size="2.5" dy="-1.2">3</tspan></text>
<text x="83.9" y="137.4" font-size="3.8" fill="#6a6a6a" transform="rotate(-90 83.9 137.4)" text-anchor="middle">10<tspan font-size="2.5" dy="-1.2">4</tspan></text>
<text x="129.6" y="178.8" font-size="3.8" fill="#6a6a6a" transform="rotate(-35 129.6 178.8)" text-anchor="middle">10<tspan font-size="2.5" dy="-1.2">4</tspan></text>
<g filter="url(#bl)"><ellipse cx="98" cy="146" rx="10" ry="3.8" transform="rotate(-3 98 146)" fill="#111" fill-opacity="0.85"/><ellipse cx="108" cy="145" rx="4.5" ry="3.5" transform="rotate(0 108 145)" fill="#111" fill-opacity="0.55"/></g>
<path d="M105.5 146.6h0.8v0.8h-0.8zM108.3 150.0h0.8v0.8h-0.8zM88.3 144.0h0.8v0.8h-0.8zM91.5 145.0h0.8v0.8h-0.8zM96.6 148.5h0.8v0.8h-0.8zM88.0 142.2h0.8v0.8h-0.8zM101.1 143.2h0.8v0.8h-0.8zM101.6 146.3h0.8v0.8h-0.8zM107.9 142.2h0.8v0.8h-0.8zM94.2 150.4h0.8v0.8h-0.8zM99.9 142.0h0.8v0.8h-0.8zM101.0 140.0h0.8v0.8h-0.8zM88.4 148.5h0.8v0.8h-0.8zM105.1 150.6h0.8v0.8h-0.8zM97.4 144.1h0.8v0.8h-0.8zM109.5 148.5h0.8v0.8h-0.8zM97.6 147.1h0.8v0.8h-0.8zM95.3 149.7h0.8v0.8h-0.8zM97.5 146.6h0.8v0.8h-0.8zM112.1 141.0h0.8v0.8h-0.8zM96.6 151.7h0.8v0.8h-0.8zM104.0 145.1h0.8v0.8h-0.8zM92.5 147.5h0.8v0.8h-0.8zM90.0 140.5h0.8v0.8h-0.8zM94.6 147.0h0.8v0.8h-0.8zM103.7 145.0h0.8v0.8h-0.8zM95.4 141.1h0.8v0.8h-0.8zM93.4 144.0h0.8v0.8h-0.8zM98.4 147.8h0.8v0.8h-0.8zM88.9 151.0h0.8v0.8h-0.8zM90.6 148.1h0.8v0.8h-0.8zM103.9 146.4h0.8v0.8h-0.8zM99.0 142.5h0.8v0.8h-0.8zM110.4 146.1h0.8v0.8h-0.8zM94.8 147.4h0.8v0.8h-0.8zM104.9 148.1h0.8v0.8h-0.8zM89.6 147.4h0.8v0.8h-0.8zM96.4 148.1h0.8v0.8h-0.8zM97.4 141.7h0.8v0.8h-0.8zM86.9 146.3h0.8v0.8h-0.8zM93.0 144.7h0.8v0.8h-0.8zM91.2 149.1h0.8v0.8h-0.8zM98.6 144.3h0.8v0.8h-0.8zM107.6 144.8h0.8v0.8h-0.8zM108.0 144.8h0.8v0.8h-0.8zM93.7 149.5h0.8v0.8h-0.8zM106.2 144.0h0.8v0.8h-0.8zM99.1 151.3h0.8v0.8h-0.8zM109.8 143.2h0.8v0.8h-0.8zM93.7 149.5h0.8v0.8h-0.8zM120.8 143.0h0.8v0.8h-0.8zM86.5 144.9h0.8v0.8h-0.8zM102.9 144.3h0.8v0.8h-0.8zM100.2 143.7h0.8v0.8h-0.8zM92.3 147.6h0.8v0.8h-0.8zM90.9 142.9h0.8v0.8h-0.8zM100.5 148.5h0.8v0.8h-0.8zM95.5 145.5h0.8v0.8h-0.8zM92.6 144.1h0.8v0.8h-0.8zM95.2 147.9h0.8v0.8h-0.8zM93.7 149.0h0.8v0.8h-0.8zM88.7 139.7h0.8v0.8h-0.8zM102.7 141.9h0.8v0.8h-0.8zM105.9 142.9h0.8v0.8h-0.8zM93.3 149.2h0.8v0.8h-0.8zM101.0 145.2h0.8v0.8h-0.8zM106.0 148.0h0.8v0.8h-0.8zM96.2 144.6h0.8v0.8h-0.8zM87.5 146.7h0.8v0.8h-0.8zM105.9 149.9h0.8v0.8h-0.8zM109.7 145.4h0.8v0.8h-0.8zM105.7 142.5h0.8v0.8h-0.8zM109.8 147.8h0.8v0.8h-0.8zM89.8 145.1h0.8v0.8h-0.8zM97.1 147.1h0.8v0.8h-0.8zM95.9 144.2h0.8v0.8h-0.8zM103.4 145.0h0.8v0.8h-0.8zM86.8 143.0h0.8v0.8h-0.8zM111.3 145.9h0.8v0.8h-0.8zM97.4 143.7h0.8v0.8h-0.8zM105.2 143.0h0.8v0.8h-0.8zM110.9 143.3h0.8v0.8h-0.8zM112.6 139.1h0.8v0.8h-0.8zM102.5 153.7h0.8v0.8h-0.8zM106.4 140.8h0.8v0.8h-0.8zM111.9 142.4h0.8v0.8h-0.8zM103.8 146.0h0.8v0.8h-0.8zM108.0 142.2h0.8v0.8h-0.8zM108.8 143.9h0.8v0.8h-0.8zM106.0 146.9h0.8v0.8h-0.8zM107.9 143.9h0.8v0.8h-0.8zM109.4 141.4h0.8v0.8h-0.8zM111.4 146.5h0.8v0.8h-0.8zM109.0 142.7h0.8v0.8h-0.8zM104.2 144.9h0.8v0.8h-0.8zM105.4 146.7h0.8v0.8h-0.8zM102.9 145.2h0.8v0.8h-0.8zM106.3 144.5h0.8v0.8h-0.8zM108.1 149.3h0.8v0.8h-0.8zM101.7 145.5h0.8v0.8h-0.8zM107.5 142.9h0.8v0.8h-0.8zM111.4 143.7h0.8v0.8h-0.8zM107.7 145.6h0.8v0.8h-0.8zM105.2 143.6h0.8v0.8h-0.8zM107.9 143.7h0.8v0.8h-0.8zM107.3 147.9h0.8v0.8h-0.8zM110.1 143.7h0.8v0.8h-0.8zM113.6 145.1h0.8v0.8h-0.8zM111.5 146.8h0.8v0.8h-0.8zM108.8 141.6h0.8v0.8h-0.8zM109.3 139.7h0.8v0.8h-0.8zM109.7 149.3h0.8v0.8h-0.8zM112.0 149.2h0.8v0.8h-0.8zM115.4 142.2h0.8v0.8h-0.8z" fill="#000" fill-opacity="0.45"/>
<path d="M113.1 144.5h0.8v0.8h-0.8zM114.3 148.0h0.8v0.8h-0.8zM110.1 144.3h0.8v0.8h-0.8zM110.8 147.0h0.8v0.8h-0.8zM113.6 140.6h0.8v0.8h-0.8zM110.8 144.3h0.8v0.8h-0.8zM110.6 144.9h0.8v0.8h-0.8zM111.5 149.2h0.8v0.8h-0.8z" fill="#000" fill-opacity="0.4"/>
<text x="118.26" y="144.30" font-size="8.2" font-weight="normal" fill="#1c1c1c" stroke="#1c1c1c" stroke-width="0.1" textLength="9.28" lengthAdjust="spacingAndGlyphs">43</text>
<line x1="144.1" y1="135.6" x2="186.6" y2="135.6" stroke="#a8a8a8" stroke-width="0.9"/>
<line x1="186.6" y1="135.6" x2="186.6" y2="173.8" stroke="#a8a8a8" stroke-width="0.9"/>
<line x1="157.9" y1="135.6" x2="157.9" y2="173.8" stroke="#8c8c8c" stroke-width="1.0"/>
<line x1="144.1" y1="158.4" x2="186.6" y2="158.4" stroke="#8c8c8c" stroke-width="1.0"/>
<line x1="144.1" y1="134.1" x2="144.1" y2="173.8" stroke="#3a3a3a" stroke-width="1.0"/>
<line x1="144.1" y1="173.8" x2="187.1" y2="173.8" stroke="#3a3a3a" stroke-width="1.0"/>
<line x1="142.5" y1="173.8" x2="144.1" y2="173.8" stroke="#555" stroke-width="0.7"/>
<line x1="144.1" y1="173.8" x2="144.1" y2="175.4" stroke="#555" stroke-width="0.7"/>
<line x1="142.5" y1="164.25" x2="144.1" y2="164.25" stroke="#555" stroke-width="0.7"/>
<line x1="154.725" y1="173.8" x2="154.725" y2="175.4" stroke="#555" stroke-width="0.7"/>
<line x1="142.5" y1="154.70000000000002" x2="144.1" y2="154.70000000000002" stroke="#555" stroke-width="0.7"/>
<line x1="165.35" y1="173.8" x2="165.35" y2="175.4" stroke="#555" stroke-width="0.7"/>
<line x1="142.5" y1="145.15" x2="144.1" y2="145.15" stroke="#555" stroke-width="0.7"/>
<line x1="175.975" y1="173.8" x2="175.975" y2="175.4" stroke="#555" stroke-width="0.7"/>
<line x1="142.5" y1="135.60000000000002" x2="144.1" y2="135.60000000000002" stroke="#555" stroke-width="0.7"/>
<line x1="186.6" y1="173.8" x2="186.6" y2="175.4" stroke="#555" stroke-width="0.7"/>
<text x="141.5" y="175.6" font-size="3.8" fill="#6a6a6a" transform="rotate(-90 141.5 175.6)" text-anchor="middle">10<tspan font-size="2.5" dy="-1.2">0</tspan></text>
<text x="144.9" y="178.8" font-size="3.8" fill="#6a6a6a" transform="rotate(-35 144.9 178.8)" text-anchor="middle">10<tspan font-size="2.5" dy="-1.2">0</tspan></text>
<text x="141.5" y="166.1" font-size="3.8" fill="#6a6a6a" transform="rotate(-90 141.5 166.1)" text-anchor="middle">10<tspan font-size="2.5" dy="-1.2">1</tspan></text>
<text x="155.5" y="178.8" font-size="3.8" fill="#6a6a6a" transform="rotate(-35 155.5 178.8)" text-anchor="middle">10<tspan font-size="2.5" dy="-1.2">1</tspan></text>
<text x="141.5" y="156.5" font-size="3.8" fill="#6a6a6a" transform="rotate(-90 141.5 156.5)" text-anchor="middle">10<tspan font-size="2.5" dy="-1.2">2</tspan></text>
<text x="166.2" y="178.8" font-size="3.8" fill="#6a6a6a" transform="rotate(-35 166.2 178.8)" text-anchor="middle">10<tspan font-size="2.5" dy="-1.2">2</tspan></text>
<text x="141.5" y="147.0" font-size="3.8" fill="#6a6a6a" transform="rotate(-90 141.5 147.0)" text-anchor="middle">10<tspan font-size="2.5" dy="-1.2">3</tspan></text>
<text x="176.8" y="178.8" font-size="3.8" fill="#6a6a6a" transform="rotate(-35 176.8 178.8)" text-anchor="middle">10<tspan font-size="2.5" dy="-1.2">3</tspan></text>
<text x="141.5" y="137.4" font-size="3.8" fill="#6a6a6a" transform="rotate(-90 141.5 137.4)" text-anchor="middle">10<tspan font-size="2.5" dy="-1.2">4</tspan></text>
<text x="187.4" y="178.8" font-size="3.8" fill="#6a6a6a" transform="rotate(-35 187.4 178.8)" text-anchor="middle">10<tspan font-size="2.5" dy="-1.2">4</tspan></text>
<g filter="url(#bl)"><ellipse cx="151.5" cy="147.8" rx="6.5" ry="3.3" transform="rotate(0 151.5 147.8)" fill="#111" fill-opacity="0.95"/></g>
<path d="M150.0 148.3h0.8v0.8h-0.8zM150.3 146.9h0.8v0.8h-0.8zM152.5 147.7h0.8v0.8h-0.8zM153.9 149.9h0.8v0.8h-0.8zM149.4 144.0h0.8v0.8h-0.8zM152.0 152.6h0.8v0.8h-0.8zM143.8 145.0h0.8v0.8h-0.8zM149.1 150.0h0.8v0.8h-0.8zM148.7 146.5h0.8v0.8h-0.8zM159.1 147.7h0.8v0.8h-0.8zM156.2 145.1h0.8v0.8h-0.8zM153.9 146.0h0.8v0.8h-0.8zM155.5 147.0h0.8v0.8h-0.8zM152.0 148.3h0.8v0.8h-0.8zM150.0 144.5h0.8v0.8h-0.8zM150.4 146.3h0.8v0.8h-0.8zM153.5 149.9h0.8v0.8h-0.8zM154.2 146.6h0.8v0.8h-0.8zM156.7 148.3h0.8v0.8h-0.8zM159.5 147.4h0.8v0.8h-0.8zM151.6 142.1h0.8v0.8h-0.8zM158.5 151.3h0.8v0.8h-0.8zM151.8 150.2h0.8v0.8h-0.8zM150.4 145.7h0.8v0.8h-0.8zM148.8 146.7h0.8v0.8h-0.8zM157.8 145.9h0.8v0.8h-0.8zM149.2 144.6h0.8v0.8h-0.8zM151.6 147.8h0.8v0.8h-0.8zM149.9 149.5h0.8v0.8h-0.8zM153.5 147.2h0.8v0.8h-0.8zM160.1 143.1h0.8v0.8h-0.8zM155.9 146.0h0.8v0.8h-0.8zM153.8 147.3h0.8v0.8h-0.8zM149.6 152.8h0.8v0.8h-0.8zM150.6 146.7h0.8v0.8h-0.8zM155.3 149.8h0.8v0.8h-0.8zM143.7 147.2h0.8v0.8h-0.8zM150.2 147.9h0.8v0.8h-0.8zM150.0 145.4h0.8v0.8h-0.8zM147.1 151.2h0.8v0.8h-0.8zM148.4 153.9h0.8v0.8h-0.8zM153.1 147.9h0.8v0.8h-0.8zM145.1 152.1h0.8v0.8h-0.8zM151.8 144.3h0.8v0.8h-0.8zM155.1 153.7h0.8v0.8h-0.8zM150.4 151.9h0.8v0.8h-0.8zM155.4 143.7h0.8v0.8h-0.8z" fill="#000" fill-opacity="0.45"/>
<path d="M161.9 148.9h0.8v0.8h-0.8zM162.2 147.3h0.8v0.8h-0.8zM161.6 148.3h0.8v0.8h-0.8zM163.7 148.7h0.8v0.8h-0.8zM164.2 148.3h0.8v0.8h-0.8zM163.3 147.3h0.8v0.8h-0.8z" fill="#000" fill-opacity="0.4"/>
<text x="180.26" y="144.30" font-size="8.2" font-weight="normal" fill="#1c1c1c" stroke="#1c1c1c" stroke-width="0.1" textLength="5.08" lengthAdjust="spacingAndGlyphs">1</text>
<line x1="199.4" y1="135.6" x2="242.3" y2="135.6" stroke="#a8a8a8" stroke-width="0.9"/>
<line x1="242.3" y1="135.6" x2="242.3" y2="173.8" stroke="#a8a8a8" stroke-width="0.9"/>
<line x1="213.5" y1="135.6" x2="213.5" y2="173.8" stroke="#8c8c8c" stroke-width="1.0"/>
<line x1="199.4" y1="158.4" x2="242.3" y2="158.4" stroke="#8c8c8c" stroke-width="1.0"/>
<line x1="199.4" y1="134.1" x2="199.4" y2="173.8" stroke="#3a3a3a" stroke-width="1.0"/>
<line x1="199.4" y1="173.8" x2="242.8" y2="173.8" stroke="#3a3a3a" stroke-width="1.0"/>
<line x1="197.8" y1="173.8" x2="199.4" y2="173.8" stroke="#555" stroke-width="0.7"/>
<line x1="199.4" y1="173.8" x2="199.4" y2="175.4" stroke="#555" stroke-width="0.7"/>
<line x1="197.8" y1="164.25" x2="199.4" y2="164.25" stroke="#555" stroke-width="0.7"/>
<line x1="210.125" y1="173.8" x2="210.125" y2="175.4" stroke="#555" stroke-width="0.7"/>
<line x1="197.8" y1="154.70000000000002" x2="199.4" y2="154.70000000000002" stroke="#555" stroke-width="0.7"/>
<line x1="220.85" y1="173.8" x2="220.85" y2="175.4" stroke="#555" stroke-width="0.7"/>
<line x1="197.8" y1="145.15" x2="199.4" y2="145.15" stroke="#555" stroke-width="0.7"/>
<line x1="231.575" y1="173.8" x2="231.575" y2="175.4" stroke="#555" stroke-width="0.7"/>
<line x1="197.8" y1="135.60000000000002" x2="199.4" y2="135.60000000000002" stroke="#555" stroke-width="0.7"/>
<line x1="242.3" y1="173.8" x2="242.3" y2="175.4" stroke="#555" stroke-width="0.7"/>
<text x="196.8" y="175.6" font-size="3.8" fill="#6a6a6a" transform="rotate(-90 196.8 175.6)" text-anchor="middle">10<tspan font-size="2.5" dy="-1.2">0</tspan></text>
<text x="200.2" y="178.8" font-size="3.8" fill="#6a6a6a" transform="rotate(-35 200.2 178.8)" text-anchor="middle">10<tspan font-size="2.5" dy="-1.2">0</tspan></text>
<text x="196.8" y="166.1" font-size="3.8" fill="#6a6a6a" transform="rotate(-90 196.8 166.1)" text-anchor="middle">10<tspan font-size="2.5" dy="-1.2">1</tspan></text>
<text x="210.9" y="178.8" font-size="3.8" fill="#6a6a6a" transform="rotate(-35 210.9 178.8)" text-anchor="middle">10<tspan font-size="2.5" dy="-1.2">1</tspan></text>
<text x="196.8" y="156.5" font-size="3.8" fill="#6a6a6a" transform="rotate(-90 196.8 156.5)" text-anchor="middle">10<tspan font-size="2.5" dy="-1.2">2</tspan></text>
<text x="221.7" y="178.8" font-size="3.8" fill="#6a6a6a" transform="rotate(-35 221.7 178.8)" text-anchor="middle">10<tspan font-size="2.5" dy="-1.2">2</tspan></text>
<text x="196.8" y="147.0" font-size="3.8" fill="#6a6a6a" transform="rotate(-90 196.8 147.0)" text-anchor="middle">10<tspan font-size="2.5" dy="-1.2">3</tspan></text>
<text x="232.4" y="178.8" font-size="3.8" fill="#6a6a6a" transform="rotate(-35 232.4 178.8)" text-anchor="middle">10<tspan font-size="2.5" dy="-1.2">3</tspan></text>
<text x="196.8" y="137.4" font-size="3.8" fill="#6a6a6a" transform="rotate(-90 196.8 137.4)" text-anchor="middle">10<tspan font-size="2.5" dy="-1.2">4</tspan></text>
<text x="243.1" y="178.8" font-size="3.8" fill="#6a6a6a" transform="rotate(-35 243.1 178.8)" text-anchor="middle">10<tspan font-size="2.5" dy="-1.2">4</tspan></text>
<g filter="url(#bl)"><ellipse cx="206.5" cy="150.6" rx="5.5" ry="4.2" transform="rotate(0 206.5 150.6)" fill="#111" fill-opacity="0.9"/></g>
<path d="M205.9 152.7h0.8v0.8h-0.8zM208.9 154.7h0.8v0.8h-0.8zM205.0 152.6h0.8v0.8h-0.8zM205.2 147.0h0.8v0.8h-0.8zM209.1 151.5h0.8v0.8h-0.8zM204.7 153.3h0.8v0.8h-0.8zM203.2 154.1h0.8v0.8h-0.8zM207.4 147.0h0.8v0.8h-0.8zM210.8 154.1h0.8v0.8h-0.8zM204.4 149.4h0.8v0.8h-0.8zM202.7 150.9h0.8v0.8h-0.8zM204.6 150.5h0.8v0.8h-0.8zM204.0 148.7h0.8v0.8h-0.8zM205.1 149.5h0.8v0.8h-0.8zM208.5 148.0h0.8v0.8h-0.8zM211.0 147.3h0.8v0.8h-0.8zM206.0 144.8h0.8v0.8h-0.8zM202.9 147.8h0.8v0.8h-0.8zM210.7 141.2h0.8v0.8h-0.8zM207.9 148.2h0.8v0.8h-0.8zM212.1 150.9h0.8v0.8h-0.8zM209.7 150.1h0.8v0.8h-0.8zM201.1 150.5h0.8v0.8h-0.8zM208.0 152.1h0.8v0.8h-0.8zM202.9 149.9h0.8v0.8h-0.8zM202.2 147.4h0.8v0.8h-0.8zM202.9 157.9h0.8v0.8h-0.8zM205.1 146.9h0.8v0.8h-0.8zM207.8 151.3h0.8v0.8h-0.8zM213.4 152.9h0.8v0.8h-0.8zM208.6 151.1h0.8v0.8h-0.8zM205.6 149.2h0.8v0.8h-0.8zM201.4 147.7h0.8v0.8h-0.8zM205.3 155.4h0.8v0.8h-0.8zM214.7 151.2h0.8v0.8h-0.8zM199.1 155.4h0.8v0.8h-0.8zM210.7 151.0h0.8v0.8h-0.8zM209.2 146.1h0.8v0.8h-0.8zM205.3 154.7h0.8v0.8h-0.8zM211.3 144.3h0.8v0.8h-0.8zM202.1 155.2h0.8v0.8h-0.8zM203.6 145.2h0.8v0.8h-0.8zM214.1 150.1h0.8v0.8h-0.8zM203.1 154.0h0.8v0.8h-0.8zM201.3 150.4h0.8v0.8h-0.8zM209.6 154.7h0.8v0.8h-0.8zM207.2 150.5h0.8v0.8h-0.8zM209.9 150.6h0.8v0.8h-0.8zM208.7 147.9h0.8v0.8h-0.8zM206.8 150.0h0.8v0.8h-0.8z" fill="#000" fill-opacity="0.45"/>
<path d="M217.1 151.6h0.8v0.8h-0.8zM220.0 152.1h0.8v0.8h-0.8zM219.8 153.3h0.8v0.8h-0.8zM217.9 146.9h0.8v0.8h-0.8zM217.3 149.1h0.8v0.8h-0.8zM218.3 153.0h0.8v0.8h-0.8zM215.1 148.3h0.8v0.8h-0.8zM213.4 151.7h0.8v0.8h-0.8zM219.3 149.3h0.8v0.8h-0.8zM214.9 148.2h0.8v0.8h-0.8zM218.8 150.6h0.8v0.8h-0.8zM220.5 147.4h0.8v0.8h-0.8zM215.8 149.9h0.8v0.8h-0.8zM214.9 150.9h0.8v0.8h-0.8z" fill="#000" fill-opacity="0.4"/>
<text x="235.96" y="144.30" font-size="8.2" font-weight="normal" fill="#1c1c1c" stroke="#1c1c1c" stroke-width="0.1" textLength="5.08" lengthAdjust="spacingAndGlyphs">7</text>
<text x="22.54" y="58.54" font-size="9" fill="#1c1c1c" stroke="#1c1c1c" stroke-width="0.1" textLength="19.48" lengthAdjust="spacingAndGlyphs" transform="rotate(-90 22.54 58.54)">CTR</text>
<text x="22.79" y="107.94" font-size="9" fill="#1c1c1c" stroke="#1c1c1c" stroke-width="0.1" textLength="16.08" lengthAdjust="spacingAndGlyphs" transform="rotate(-90 22.79 107.94)">6A4</text>
<text x="22.59" y="173.04" font-size="9" fill="#1c1c1c" stroke="#1c1c1c" stroke-width="0.1" textLength="35.38" lengthAdjust="spacingAndGlyphs" transform="rotate(-90 22.59 173.04)">aNKG2A</text>
<text x="9.04" y="115.14" font-size="9" fill="#1c1c1c" stroke="#1c1c1c" stroke-width="0.1" textLength="28.58" lengthAdjust="spacingAndGlyphs" transform="rotate(-90 9.04 115.14)">aCD56</text>
<line x1="5.4" y1="33.5" x2="5.4" y2="78.9" stroke="#111" stroke-width="1.1"/>
<path d="M5.4 30.3 L3.6 34.3 L7.2 34.3 Z" fill="#111"/>
<line x1="5.4" y1="123.3" x2="5.4" y2="174" stroke="#111" stroke-width="1.1"/>
<line x1="31" y1="188.3" x2="113.5" y2="188.3" stroke="#111" stroke-width="1.1"/>
<text x="121.63" y="191.80" font-size="8.6" font-weight="normal" fill="#1c1c1c" stroke="#1c1c1c" stroke-width="0.1" textLength="28.63" lengthAdjust="spacingAndGlyphs">aCCR7</text>
<line x1="160.5" y1="188.5" x2="239.5" y2="188.5" stroke="#111" stroke-width="1.1"/>
<path d="M243 188.5 L238.5 186.6 L238.5 190.4 Z" fill="#111"/>
<rect x="27.40" y="208.50" width="95.80" height="70.70" fill="none" stroke="#8a8a8a" stroke-width="1.0"/>
<text x="49.12" y="219.60" font-size="8.8" font-weight="bold" fill="#111" stroke="#111" stroke-width="0.1" textLength="51.76" lengthAdjust="spacingAndGlyphs">T cell blasts</text>
<line x1="36.4" y1="224.8" x2="72.5" y2="224.8" stroke="#b5b5b5" stroke-width="0.8"/>
<line x1="72.5" y1="224.8" x2="72.5" y2="258.7" stroke="#b5b5b5" stroke-width="0.8"/>
<line x1="36.4" y1="258.7" x2="36.4" y2="260.09999999999997" stroke="#666" stroke-width="0.6"/>
<text x="36.9" y="263.7" font-size="3.2" fill="#8c8c8c" transform="rotate(-45 36.9 263.7)" text-anchor="middle">10<tspan font-size="2.2" dy="-1">0</tspan></text>
<line x1="45.425" y1="258.7" x2="45.425" y2="260.09999999999997" stroke="#666" stroke-width="0.6"/>
<text x="45.9" y="263.7" font-size="3.2" fill="#8c8c8c" transform="rotate(-45 45.9 263.7)" text-anchor="middle">10<tspan font-size="2.2" dy="-1">1</tspan></text>
<line x1="54.45" y1="258.7" x2="54.45" y2="260.09999999999997" stroke="#666" stroke-width="0.6"/>
<text x="55.0" y="263.7" font-size="3.2" fill="#8c8c8c" transform="rotate(-45 55.0 263.7)" text-anchor="middle">10<tspan font-size="2.2" dy="-1">2</tspan></text>
<line x1="63.475" y1="258.7" x2="63.475" y2="260.09999999999997" stroke="#666" stroke-width="0.6"/>
<text x="64.0" y="263.7" font-size="3.2" fill="#8c8c8c" transform="rotate(-45 64.0 263.7)" text-anchor="middle">10<tspan font-size="2.2" dy="-1">3</tspan></text>
<line x1="72.5" y1="258.7" x2="72.5" y2="260.09999999999997" stroke="#666" stroke-width="0.6"/>
<text x="73.0" y="263.7" font-size="3.2" fill="#8c8c8c" transform="rotate(-45 73.0 263.7)" text-anchor="middle">10<tspan font-size="2.2" dy="-1">4</tspan></text>
<line x1="35.1" y1="258.7" x2="36.4" y2="258.7" stroke="#888" stroke-width="0.5"/>
<line x1="35.1" y1="250.225" x2="36.4" y2="250.225" stroke="#888" stroke-width="0.5"/>
<line x1="35.1" y1="241.75" x2="36.4" y2="241.75" stroke="#888" stroke-width="0.5"/>
<line x1="35.1" y1="233.275" x2="36.4" y2="233.275" stroke="#888" stroke-width="0.5"/>
<line x1="35.1" y1="224.8" x2="36.4" y2="224.8" stroke="#888" stroke-width="0.5"/>
<path d="M36.4 258.7 L37.5 256 L39 254.5 L41 254 L43 253.5 L45 253 L46.5 255 L48 256.3 L51 256 L52.5 255 L54 251 L56 246 L57.5 241 L58.1 239.2 L59 243 L60 249 L61 254 L62 257.5 L64 258.5 L72.5 258.7Z" fill="#4a4a4a" stroke="#333" stroke-width="0.4"/>
<path d="M36.6 257 L38 252 L40 244 L41.5 239.5 L42.4 238.3 L43.3 242 L43.8 244.5 L44.6 243.8 L45.3 247 L46 253 L47 257 L48.5 258.4" fill="none" stroke="#000" stroke-width="1.3" stroke-linejoin="round"/>
<line x1="36.4" y1="224.3" x2="36.4" y2="258.7" stroke="#333" stroke-width="0.9"/>
<line x1="36.4" y1="258.7" x2="72.5" y2="258.7" stroke="#333" stroke-width="0.9"/>
<text x="55.95" y="234.40" font-size="8.4" font-weight="normal" fill="#1c1c1c" stroke="#1c1c1c" stroke-width="0.1" textLength="14.41" lengthAdjust="spacingAndGlyphs">158</text>
<line x1="82.4" y1="225.2" x2="118.9" y2="225.2" stroke="#b5b5b5" stroke-width="0.8"/>
<line x1="118.9" y1="225.2" x2="118.9" y2="258.9" stroke="#b5b5b5" stroke-width="0.8"/>
<line x1="82.4" y1="258.9" x2="82.4" y2="260.29999999999995" stroke="#666" stroke-width="0.6"/>
<text x="82.9" y="263.9" font-size="3.2" fill="#8c8c8c" transform="rotate(-45 82.9 263.9)" text-anchor="middle">10<tspan font-size="2.2" dy="-1">0</tspan></text>
<line x1="91.525" y1="258.9" x2="91.525" y2="260.29999999999995" stroke="#666" stroke-width="0.6"/>
<text x="92.0" y="263.9" font-size="3.2" fill="#8c8c8c" transform="rotate(-45 92.0 263.9)" text-anchor="middle">10<tspan font-size="2.2" dy="-1">1</tspan></text>
<line x1="100.65" y1="258.9" x2="100.65" y2="260.29999999999995" stroke="#666" stroke-width="0.6"/>
<text x="101.2" y="263.9" font-size="3.2" fill="#8c8c8c" transform="rotate(-45 101.2 263.9)" text-anchor="middle">10<tspan font-size="2.2" dy="-1">2</tspan></text>
<line x1="109.775" y1="258.9" x2="109.775" y2="260.29999999999995" stroke="#666" stroke-width="0.6"/>
<text x="110.3" y="263.9" font-size="3.2" fill="#8c8c8c" transform="rotate(-45 110.3 263.9)" text-anchor="middle">10<tspan font-size="2.2" dy="-1">3</tspan></text>
<line x1="118.9" y1="258.9" x2="118.9" y2="260.29999999999995" stroke="#666" stroke-width="0.6"/>
<text x="119.4" y="263.9" font-size="3.2" fill="#8c8c8c" transform="rotate(-45 119.4 263.9)" text-anchor="middle">10<tspan font-size="2.2" dy="-1">4</tspan></text>
<line x1="81.10000000000001" y1="258.9" x2="82.4" y2="258.9" stroke="#888" stroke-width="0.5"/>
<line x1="81.10000000000001" y1="250.47499999999997" x2="82.4" y2="250.47499999999997" stroke="#888" stroke-width="0.5"/>
<line x1="81.10000000000001" y1="242.04999999999998" x2="82.4" y2="242.04999999999998" stroke="#888" stroke-width="0.5"/>
<line x1="81.10000000000001" y1="233.625" x2="82.4" y2="233.625" stroke="#888" stroke-width="0.5"/>
<line x1="81.10000000000001" y1="225.2" x2="82.4" y2="225.2" stroke="#888" stroke-width="0.5"/>
<path d="M82.4 258.9 L85 257 L88 256.5 L91 256 L93 256.5 L94.5 257 L96 252 L97.5 246 L98.4 238 L98.9 234.2 L99.5 240 L100.5 248 L102 253 L104 256 L106 258.5 L118.9 258.9Z" fill="#4a4a4a" stroke="#333" stroke-width="0.4"/>
<path d="M82.6 250 L83.5 252 L85 249 L87 246 L88 243 L89 240.5 L89.7 238.3 L90.5 242 L91.5 248 L92.5 254 L93.5 257 L95 258.5" fill="none" stroke="#000" stroke-width="1.3" stroke-linejoin="round"/>
<line x1="82.4" y1="224.7" x2="82.4" y2="258.9" stroke="#333" stroke-width="0.9"/>
<line x1="82.4" y1="258.9" x2="118.9" y2="258.9" stroke="#333" stroke-width="0.9"/>
<text x="106.35" y="234.80" font-size="8.4" font-weight="normal" fill="#1c1c1c" stroke="#1c1c1c" stroke-width="0.1" textLength="10.41" lengthAdjust="spacingAndGlyphs">56</text>
<text x="37.53" y="273.50" font-size="8.6" font-weight="normal" fill="#1c1c1c" stroke="#1c1c1c" stroke-width="0.1" textLength="30.53" lengthAdjust="spacingAndGlyphs">aCCR7</text>
<text x="83.03" y="273.50" font-size="8.6" font-weight="normal" fill="#1c1c1c" stroke="#1c1c1c" stroke-width="0.1" textLength="31.53" lengthAdjust="spacingAndGlyphs">aHLA-E</text>
<text x="0.3" y="297.1" font-size="11" font-weight="bold" fill="#111">C</text>
<text x="43.61" y="300.70" font-size="9" font-weight="normal" fill="#1c1c1c" stroke="#1c1c1c" stroke-width="0.1" textLength="78.28" lengthAdjust="spacingAndGlyphs">KIR2DS1<tspan font-size="5.40" dy="-3.60">+</tspan><tspan dy="3.60"> </tspan>NKG2A<tspan font-size="5.40" dy="-3.60">+</tspan><tspan dy="3.60"></tspan></text>
<text x="156.41" y="300.70" font-size="9" font-weight="normal" fill="#1c1c1c" stroke="#1c1c1c" stroke-width="0.1" textLength="75.38" lengthAdjust="spacingAndGlyphs">KIR2DS1<tspan font-size="5.40" dy="-3.60">-</tspan><tspan dy="3.60"> </tspan>NKG2A<tspan font-size="5.40" dy="-3.60">+</tspan><tspan dy="3.60"></tspan></text>
<line x1="31.8" y1="303.4" x2="132.3" y2="303.4" stroke="#222" stroke-width="1.2"/>
<line x1="142" y1="303.4" x2="244" y2="303.4" stroke="#222" stroke-width="1.2"/>
<text x="34.73" y="315.40" font-size="8.6" font-weight="normal" fill="#1c1c1c" stroke="#1c1c1c" stroke-width="0.1" textLength="38.13" lengthAdjust="spacingAndGlyphs">CLONE 1</text>
<text x="88.43" y="315.40" font-size="8.6" font-weight="normal" fill="#1c1c1c" stroke="#1c1c1c" stroke-width="0.1" textLength="40.23" lengthAdjust="spacingAndGlyphs">CLONE 2</text>
<text x="146.53" y="315.40" font-size="8.6" font-weight="normal" fill="#1c1c1c" stroke="#1c1c1c" stroke-width="0.1" textLength="38.93" lengthAdjust="spacingAndGlyphs">CLONE 3</text>
<text x="203.33" y="315.40" font-size="8.6" font-weight="normal" fill="#1c1c1c" stroke="#1c1c1c" stroke-width="0.1" textLength="38.43" lengthAdjust="spacingAndGlyphs">CLONE 4</text>
<line x1="32.8" y1="320.4" x2="74.69999999999999" y2="320.4" stroke="#a8a8a8" stroke-width="0.9"/>
<line x1="74.69999999999999" y1="320.4" x2="74.69999999999999" y2="357.0" stroke="#a8a8a8" stroke-width="0.9"/>
<line x1="45.4" y1="320.4" x2="45.4" y2="357.0" stroke="#8c8c8c" stroke-width="1.0"/>
<line x1="32.8" y1="342.09999999999997" x2="74.69999999999999" y2="342.09999999999997" stroke="#8c8c8c" stroke-width="1.0"/>
<line x1="32.8" y1="318.9" x2="32.8" y2="357.0" stroke="#3a3a3a" stroke-width="1.0"/>
<line x1="32.8" y1="357.0" x2="75.19999999999999" y2="357.0" stroke="#3a3a3a" stroke-width="1.0"/>
<line x1="31.199999999999996" y1="357.0" x2="32.8" y2="357.0" stroke="#555" stroke-width="0.7"/>
<line x1="32.8" y1="357.0" x2="32.8" y2="358.6" stroke="#555" stroke-width="0.7"/>
<line x1="31.199999999999996" y1="347.85" x2="32.8" y2="347.85" stroke="#555" stroke-width="0.7"/>
<line x1="43.275" y1="357.0" x2="43.275" y2="358.6" stroke="#555" stroke-width="0.7"/>
<line x1="31.199999999999996" y1="338.7" x2="32.8" y2="338.7" stroke="#555" stroke-width="0.7"/>
<line x1="53.75" y1="357.0" x2="53.75" y2="358.6" stroke="#555" stroke-width="0.7"/>
<line x1="31.199999999999996" y1="329.55" x2="32.8" y2="329.55" stroke="#555" stroke-width="0.7"/>
<line x1="64.225" y1="357.0" x2="64.225" y2="358.6" stroke="#555" stroke-width="0.7"/>
<line x1="31.199999999999996" y1="320.4" x2="32.8" y2="320.4" stroke="#555" stroke-width="0.7"/>
<line x1="74.69999999999999" y1="357.0" x2="74.69999999999999" y2="358.6" stroke="#555" stroke-width="0.7"/>
<text x="30.2" y="358.8" font-size="3.8" fill="#6a6a6a" transform="rotate(-90 30.2 358.8)" text-anchor="middle">10<tspan font-size="2.5" dy="-1.2">0</tspan></text>
<text x="33.6" y="362.0" font-size="3.8" fill="#6a6a6a" transform="rotate(-35 33.6 362.0)" text-anchor="middle">10<tspan font-size="2.5" dy="-1.2">0</tspan></text>
<text x="30.2" y="349.7" font-size="3.8" fill="#6a6a6a" transform="rotate(-90 30.2 349.7)" text-anchor="middle">10<tspan font-size="2.5" dy="-1.2">1</tspan></text>
<text x="44.1" y="362.0" font-size="3.8" fill="#6a6a6a" transform="rotate(-35 44.1 362.0)" text-anchor="middle">10<tspan font-size="2.5" dy="-1.2">1</tspan></text>
<text x="30.2" y="340.5" font-size="3.8" fill="#6a6a6a" transform="rotate(-90 30.2 340.5)" text-anchor="middle">10<tspan font-size="2.5" dy="-1.2">2</tspan></text>
<text x="54.5" y="362.0" font-size="3.8" fill="#6a6a6a" transform="rotate(-35 54.5 362.0)" text-anchor="middle">10<tspan font-size="2.5" dy="-1.2">2</tspan></text>
<text x="30.2" y="331.4" font-size="3.8" fill="#6a6a6a" transform="rotate(-90 30.2 331.4)" text-anchor="middle">10<tspan font-size="2.5" dy="-1.2">3</tspan></text>
<text x="65.0" y="362.0" font-size="3.8" fill="#6a6a6a" transform="rotate(-35 65.0 362.0)" text-anchor="middle">10<tspan font-size="2.5" dy="-1.2">3</tspan></text>
<text x="30.2" y="322.2" font-size="3.8" fill="#6a6a6a" transform="rotate(-90 30.2 322.2)" text-anchor="middle">10<tspan font-size="2.5" dy="-1.2">4</tspan></text>
<text x="75.5" y="362.0" font-size="3.8" fill="#6a6a6a" transform="rotate(-35 75.5 362.0)" text-anchor="middle">10<tspan font-size="2.5" dy="-1.2">4</tspan></text>
<g filter="url(#bl)"><ellipse cx="42" cy="332" rx="8" ry="4" transform="rotate(-15 42 332)" fill="#111" fill-opacity="0.85"/><ellipse cx="54" cy="327.5" rx="6" ry="3.5" transform="rotate(-20 54 327.5)" fill="#111" fill-opacity="0.5"/></g>
<path d="M42.3 336.4h0.8v0.8h-0.8zM40.5 338.8h0.8v0.8h-0.8zM48.3 333.7h0.8v0.8h-0.8zM48.3 337.6h0.8v0.8h-0.8zM53.3 326.5h0.8v0.8h-0.8zM54.1 333.3h0.8v0.8h-0.8zM45.4 331.8h0.8v0.8h-0.8zM40.5 323.9h0.8v0.8h-0.8zM34.2 331.5h0.8v0.8h-0.8zM36.0 337.2h0.8v0.8h-0.8zM45.7 332.6h0.8v0.8h-0.8zM47.9 328.0h0.8v0.8h-0.8zM47.8 332.1h0.8v0.8h-0.8zM49.7 326.6h0.8v0.8h-0.8zM46.2 334.3h0.8v0.8h-0.8zM43.1 323.4h0.8v0.8h-0.8zM36.1 331.9h0.8v0.8h-0.8zM40.6 331.4h0.8v0.8h-0.8zM46.4 328.5h0.8v0.8h-0.8zM41.3 338.0h0.8v0.8h-0.8zM37.0 334.0h0.8v0.8h-0.8zM40.4 328.0h0.8v0.8h-0.8zM42.1 330.2h0.8v0.8h-0.8zM33.2 328.5h0.8v0.8h-0.8zM34.1 337.6h0.8v0.8h-0.8zM45.8 331.8h0.8v0.8h-0.8zM42.9 336.9h0.8v0.8h-0.8zM49.7 330.6h0.8v0.8h-0.8zM43.2 337.8h0.8v0.8h-0.8zM43.8 330.0h0.8v0.8h-0.8zM34.3 329.2h0.8v0.8h-0.8zM37.3 333.3h0.8v0.8h-0.8zM43.1 337.1h0.8v0.8h-0.8zM47.8 336.6h0.8v0.8h-0.8zM39.7 330.1h0.8v0.8h-0.8zM44.8 330.9h0.8v0.8h-0.8zM42.9 332.1h0.8v0.8h-0.8zM36.6 330.0h0.8v0.8h-0.8zM37.7 330.6h0.8v0.8h-0.8zM48.9 327.8h0.8v0.8h-0.8zM43.6 333.1h0.8v0.8h-0.8zM39.9 334.0h0.8v0.8h-0.8zM44.1 325.7h0.8v0.8h-0.8zM43.0 330.5h0.8v0.8h-0.8zM45.3 329.6h0.8v0.8h-0.8zM37.7 330.6h0.8v0.8h-0.8zM41.7 333.6h0.8v0.8h-0.8zM39.5 333.0h0.8v0.8h-0.8zM46.2 328.3h0.8v0.8h-0.8zM49.5 327.3h0.8v0.8h-0.8zM32.6 333.2h0.8v0.8h-0.8zM41.5 332.4h0.8v0.8h-0.8zM37.8 333.8h0.8v0.8h-0.8zM48.7 333.4h0.8v0.8h-0.8zM40.5 327.9h0.8v0.8h-0.8zM52.8 332.4h0.8v0.8h-0.8zM42.6 335.7h0.8v0.8h-0.8zM49.9 330.5h0.8v0.8h-0.8zM37.0 334.1h0.8v0.8h-0.8zM36.3 332.5h0.8v0.8h-0.8zM49.5 329.8h0.8v0.8h-0.8zM35.5 334.0h0.8v0.8h-0.8zM40.3 329.2h0.8v0.8h-0.8zM43.7 338.3h0.8v0.8h-0.8zM47.5 331.9h0.8v0.8h-0.8zM46.6 336.8h0.8v0.8h-0.8zM32.5 337.3h0.8v0.8h-0.8zM40.2 334.1h0.8v0.8h-0.8zM52.5 326.5h0.8v0.8h-0.8zM44.2 331.6h0.8v0.8h-0.8zM55.3 324.3h0.8v0.8h-0.8zM45.8 329.4h0.8v0.8h-0.8zM42.9 328.8h0.8v0.8h-0.8zM55.7 328.6h0.8v0.8h-0.8zM56.7 327.6h0.8v0.8h-0.8zM53.7 328.7h0.8v0.8h-0.8zM58.4 328.3h0.8v0.8h-0.8zM55.3 327.7h0.8v0.8h-0.8zM54.8 323.5h0.8v0.8h-0.8zM51.6 323.8h0.8v0.8h-0.8zM48.8 322.3h0.8v0.8h-0.8zM52.9 329.8h0.8v0.8h-0.8zM56.2 329.0h0.8v0.8h-0.8zM55.8 327.3h0.8v0.8h-0.8zM43.9 329.4h0.8v0.8h-0.8zM53.3 325.9h0.8v0.8h-0.8zM58.3 324.5h0.8v0.8h-0.8zM62.3 327.8h0.8v0.8h-0.8zM51.7 323.7h0.8v0.8h-0.8zM48.5 327.6h0.8v0.8h-0.8zM57.1 334.1h0.8v0.8h-0.8zM51.6 333.4h0.8v0.8h-0.8zM54.8 326.4h0.8v0.8h-0.8zM55.1 328.1h0.8v0.8h-0.8zM56.2 326.5h0.8v0.8h-0.8zM51.8 330.4h0.8v0.8h-0.8zM54.7 328.3h0.8v0.8h-0.8zM48.6 327.5h0.8v0.8h-0.8zM50.2 329.1h0.8v0.8h-0.8zM54.6 327.0h0.8v0.8h-0.8zM55.1 326.8h0.8v0.8h-0.8zM59.1 323.3h0.8v0.8h-0.8zM56.9 324.6h0.8v0.8h-0.8zM50.2 325.1h0.8v0.8h-0.8zM60.0 322.6h0.8v0.8h-0.8zM50.8 325.4h0.8v0.8h-0.8zM51.8 325.0h0.8v0.8h-0.8zM62.4 325.2h0.8v0.8h-0.8zM65.1 327.2h0.8v0.8h-0.8zM47.6 331.7h0.8v0.8h-0.8zM59.1 328.1h0.8v0.8h-0.8zM54.4 329.6h0.8v0.8h-0.8zM60.1 325.7h0.8v0.8h-0.8zM60.8 329.0h0.8v0.8h-0.8z" fill="#000" fill-opacity="0.45"/>
<path d="M42.0 342.1h0.8v0.8h-0.8zM36.7 332.6h0.8v0.8h-0.8zM49.7 330.6h0.8v0.8h-0.8zM47.9 338.2h0.8v0.8h-0.8zM44.6 331.8h0.8v0.8h-0.8zM34.0 330.8h0.8v0.8h-0.8zM50.1 334.1h0.8v0.8h-0.8zM51.7 332.3h0.8v0.8h-0.8zM47.9 334.4h0.8v0.8h-0.8zM47.5 327.3h0.8v0.8h-0.8zM41.8 325.8h0.8v0.8h-0.8zM46.4 340.2h0.8v0.8h-0.8zM40.6 337.6h0.8v0.8h-0.8zM57.2 334.9h0.8v0.8h-0.8zM59.3 331.1h0.8v0.8h-0.8zM48.1 329.4h0.8v0.8h-0.8zM60.5 336.3h0.8v0.8h-0.8zM47.7 330.7h0.8v0.8h-0.8zM57.6 334.4h0.8v0.8h-0.8zM48.1 332.5h0.8v0.8h-0.8zM40.0 336.2h0.8v0.8h-0.8zM57.4 337.7h0.8v0.8h-0.8zM59.7 323.5h0.8v0.8h-0.8zM53.2 335.9h0.8v0.8h-0.8zM56.7 328.0h0.8v0.8h-0.8zM56.4 337.3h0.8v0.8h-0.8zM42.5 340.6h0.8v0.8h-0.8zM40.8 334.8h0.8v0.8h-0.8zM48.3 333.6h0.8v0.8h-0.8zM43.6 335.4h0.8v0.8h-0.8zM59.5 328.7h0.8v0.8h-0.8zM60.1 333.1h0.8v0.8h-0.8zM52.7 332.8h0.8v0.8h-0.8zM37.1 342.1h0.8v0.8h-0.8zM42.7 333.1h0.8v0.8h-0.8zM39.2 331.7h0.8v0.8h-0.8zM61.6 327.7h0.8v0.8h-0.8zM51.4 338.5h0.8v0.8h-0.8zM35.6 338.6h0.8v0.8h-0.8zM58.3 334.8h0.8v0.8h-0.8z" fill="#000" fill-opacity="0.4"/>
<text x="64.16" y="329.10" font-size="8.2" font-weight="normal" fill="#1c1c1c" stroke="#1c1c1c" stroke-width="0.1" textLength="9.28" lengthAdjust="spacingAndGlyphs">62</text>
<line x1="87.2" y1="320.4" x2="128.4" y2="320.4" stroke="#a8a8a8" stroke-width="0.9"/>
<line x1="128.4" y1="320.4" x2="128.4" y2="357.0" stroke="#a8a8a8" stroke-width="0.9"/>
<line x1="99.2" y1="320.4" x2="99.2" y2="357.0" stroke="#8c8c8c" stroke-width="1.0"/>
<line x1="87.2" y1="342.09999999999997" x2="128.4" y2="342.09999999999997" stroke="#8c8c8c" stroke-width="1.0"/>
<line x1="87.2" y1="318.9" x2="87.2" y2="357.0" stroke="#3a3a3a" stroke-width="1.0"/>
<line x1="87.2" y1="357.0" x2="128.9" y2="357.0" stroke="#3a3a3a" stroke-width="1.0"/>
<line x1="85.60000000000001" y1="357.0" x2="87.2" y2="357.0" stroke="#555" stroke-width="0.7"/>
<line x1="87.2" y1="357.0" x2="87.2" y2="358.6" stroke="#555" stroke-width="0.7"/>
<line x1="85.60000000000001" y1="347.85" x2="87.2" y2="347.85" stroke="#555" stroke-width="0.7"/>
<line x1="97.5" y1="357.0" x2="97.5" y2="358.6" stroke="#555" stroke-width="0.7"/>
<line x1="85.60000000000001" y1="338.7" x2="87.2" y2="338.7" stroke="#555" stroke-width="0.7"/>
<line x1="107.80000000000001" y1="357.0" x2="107.80000000000001" y2="358.6" stroke="#555" stroke-width="0.7"/>
<line x1="85.60000000000001" y1="329.55" x2="87.2" y2="329.55" stroke="#555" stroke-width="0.7"/>
<line x1="118.10000000000001" y1="357.0" x2="118.10000000000001" y2="358.6" stroke="#555" stroke-width="0.7"/>
<line x1="85.60000000000001" y1="320.4" x2="87.2" y2="320.4" stroke="#555" stroke-width="0.7"/>
<line x1="128.4" y1="357.0" x2="128.4" y2="358.6" stroke="#555" stroke-width="0.7"/>
<text x="84.6" y="358.8" font-size="3.8" fill="#6a6a6a" transform="rotate(-90 84.6 358.8)" text-anchor="middle">10<tspan font-size="2.5" dy="-1.2">0</tspan></text>
<text x="88.0" y="362.0" font-size="3.8" fill="#6a6a6a" transform="rotate(-35 88.0 362.0)" text-anchor="middle">10<tspan font-size="2.5" dy="-1.2">0</tspan></text>
<text x="84.6" y="349.7" font-size="3.8" fill="#6a6a6a" transform="rotate(-90 84.6 349.7)" text-anchor="middle">10<tspan font-size="2.5" dy="-1.2">1</tspan></text>
<text x="98.3" y="362.0" font-size="3.8" fill="#6a6a6a" transform="rotate(-35 98.3 362.0)" text-anchor="middle">10<tspan font-size="2.5" dy="-1.2">1</tspan></text>
<text x="84.6" y="340.5" font-size="3.8" fill="#6a6a6a" transform="rotate(-90 84.6 340.5)" text-anchor="middle">10<tspan font-size="2.5" dy="-1.2">2</tspan></text>
<text x="108.6" y="362.0" font-size="3.8" fill="#6a6a6a" transform="rotate(-35 108.6 362.0)" text-anchor="middle">10<tspan font-size="2.5" dy="-1.2">2</tspan></text>
<text x="84.6" y="331.4" font-size="3.8" fill="#6a6a6a" transform="rotate(-90 84.6 331.4)" text-anchor="middle">10<tspan font-size="2.5" dy="-1.2">3</tspan></text>
<text x="118.9" y="362.0" font-size="3.8" fill="#6a6a6a" transform="rotate(-35 118.9 362.0)" text-anchor="middle">10<tspan font-size="2.5" dy="-1.2">3</tspan></text>
<text x="84.6" y="322.2" font-size="3.8" fill="#6a6a6a" transform="rotate(-90 84.6 322.2)" text-anchor="middle">10<tspan font-size="2.5" dy="-1.2">4</tspan></text>
<text x="129.2" y="362.0" font-size="3.8" fill="#6a6a6a" transform="rotate(-35 129.2 362.0)" text-anchor="middle">10<tspan font-size="2.5" dy="-1.2">4</tspan></text>
<g filter="url(#bl)"><ellipse cx="96" cy="333" rx="8.5" ry="4.5" transform="rotate(-12 96 333)" fill="#111" fill-opacity="0.85"/><ellipse cx="108" cy="328" rx="6.5" ry="3.5" transform="rotate(-20 108 328)" fill="#111" fill-opacity="0.5"/></g>
<path d="M91.2 338.9h0.8v0.8h-0.8zM92.2 330.2h0.8v0.8h-0.8zM96.2 332.5h0.8v0.8h-0.8zM97.8 336.1h0.8v0.8h-0.8zM105.6 331.7h0.8v0.8h-0.8zM105.2 331.9h0.8v0.8h-0.8zM95.4 332.8h0.8v0.8h-0.8zM99.3 328.9h0.8v0.8h-0.8zM89.0 337.6h0.8v0.8h-0.8zM95.5 340.4h0.8v0.8h-0.8zM89.5 332.1h0.8v0.8h-0.8zM109.5 323.2h0.8v0.8h-0.8zM90.3 333.4h0.8v0.8h-0.8zM103.3 330.5h0.8v0.8h-0.8zM96.7 335.8h0.8v0.8h-0.8zM88.9 328.5h0.8v0.8h-0.8zM97.7 332.6h0.8v0.8h-0.8zM99.7 329.8h0.8v0.8h-0.8zM93.6 332.9h0.8v0.8h-0.8zM98.8 335.7h0.8v0.8h-0.8zM96.1 324.1h0.8v0.8h-0.8zM92.9 331.2h0.8v0.8h-0.8zM90.6 331.9h0.8v0.8h-0.8zM96.7 323.7h0.8v0.8h-0.8zM99.1 335.2h0.8v0.8h-0.8zM100.1 329.7h0.8v0.8h-0.8zM94.5 340.7h0.8v0.8h-0.8zM90.9 334.0h0.8v0.8h-0.8zM104.7 335.7h0.8v0.8h-0.8zM96.3 335.3h0.8v0.8h-0.8zM106.3 332.8h0.8v0.8h-0.8zM96.7 330.1h0.8v0.8h-0.8zM94.2 332.3h0.8v0.8h-0.8zM104.9 327.6h0.8v0.8h-0.8zM87.4 331.1h0.8v0.8h-0.8zM98.5 335.8h0.8v0.8h-0.8zM101.9 339.1h0.8v0.8h-0.8zM92.6 335.0h0.8v0.8h-0.8zM96.7 332.2h0.8v0.8h-0.8zM105.2 329.3h0.8v0.8h-0.8zM96.4 328.6h0.8v0.8h-0.8zM99.6 332.1h0.8v0.8h-0.8zM89.0 331.2h0.8v0.8h-0.8zM88.2 333.8h0.8v0.8h-0.8zM94.6 332.8h0.8v0.8h-0.8zM93.6 337.4h0.8v0.8h-0.8zM98.7 333.9h0.8v0.8h-0.8zM95.6 329.9h0.8v0.8h-0.8zM101.9 338.9h0.8v0.8h-0.8zM106.0 333.4h0.8v0.8h-0.8zM89.7 331.6h0.8v0.8h-0.8zM93.5 335.4h0.8v0.8h-0.8zM95.5 332.2h0.8v0.8h-0.8zM100.7 334.9h0.8v0.8h-0.8zM89.8 331.2h0.8v0.8h-0.8zM99.8 334.3h0.8v0.8h-0.8zM93.2 335.1h0.8v0.8h-0.8zM97.1 329.0h0.8v0.8h-0.8zM98.2 330.5h0.8v0.8h-0.8zM103.5 328.8h0.8v0.8h-0.8zM98.9 333.0h0.8v0.8h-0.8zM87.7 327.3h0.8v0.8h-0.8zM97.4 329.3h0.8v0.8h-0.8zM99.3 340.4h0.8v0.8h-0.8zM89.3 331.6h0.8v0.8h-0.8zM106.6 335.9h0.8v0.8h-0.8zM92.8 331.8h0.8v0.8h-0.8zM89.9 332.8h0.8v0.8h-0.8zM92.5 334.3h0.8v0.8h-0.8zM89.0 337.8h0.8v0.8h-0.8zM95.3 333.0h0.8v0.8h-0.8zM93.8 328.0h0.8v0.8h-0.8zM101.3 331.6h0.8v0.8h-0.8zM104.7 331.8h0.8v0.8h-0.8zM102.7 334.0h0.8v0.8h-0.8zM96.1 334.1h0.8v0.8h-0.8zM105.6 324.1h0.8v0.8h-0.8zM104.3 330.9h0.8v0.8h-0.8zM102.8 325.9h0.8v0.8h-0.8zM104.2 329.7h0.8v0.8h-0.8zM99.8 329.0h0.8v0.8h-0.8zM106.0 327.7h0.8v0.8h-0.8zM99.6 322.6h0.8v0.8h-0.8zM105.4 332.3h0.8v0.8h-0.8zM113.3 323.9h0.8v0.8h-0.8zM115.3 327.6h0.8v0.8h-0.8zM105.8 325.5h0.8v0.8h-0.8zM105.1 327.2h0.8v0.8h-0.8zM106.7 324.0h0.8v0.8h-0.8zM100.7 329.4h0.8v0.8h-0.8zM105.1 330.1h0.8v0.8h-0.8zM104.3 331.8h0.8v0.8h-0.8zM111.8 323.1h0.8v0.8h-0.8zM110.6 330.9h0.8v0.8h-0.8zM108.5 330.5h0.8v0.8h-0.8zM106.8 328.5h0.8v0.8h-0.8zM105.7 327.4h0.8v0.8h-0.8zM114.0 323.8h0.8v0.8h-0.8zM99.4 329.4h0.8v0.8h-0.8zM109.8 325.0h0.8v0.8h-0.8zM113.3 328.9h0.8v0.8h-0.8zM108.4 326.9h0.8v0.8h-0.8zM105.1 326.8h0.8v0.8h-0.8zM117.3 326.7h0.8v0.8h-0.8zM106.8 329.1h0.8v0.8h-0.8zM111.5 331.3h0.8v0.8h-0.8zM112.1 326.3h0.8v0.8h-0.8zM102.9 325.3h0.8v0.8h-0.8zM110.2 332.6h0.8v0.8h-0.8zM109.9 328.6h0.8v0.8h-0.8zM105.1 327.7h0.8v0.8h-0.8zM100.2 327.7h0.8v0.8h-0.8zM116.2 325.7h0.8v0.8h-0.8zM112.7 325.0h0.8v0.8h-0.8zM113.0 327.6h0.8v0.8h-0.8zM100.3 324.0h0.8v0.8h-0.8zM99.6 331.4h0.8v0.8h-0.8zM110.8 325.7h0.8v0.8h-0.8zM107.1 331.0h0.8v0.8h-0.8zM106.1 325.7h0.8v0.8h-0.8zM110.8 330.1h0.8v0.8h-0.8zM98.7 330.6h0.8v0.8h-0.8zM104.6 326.4h0.8v0.8h-0.8zM114.1 327.1h0.8v0.8h-0.8zM117.7 325.9h0.8v0.8h-0.8zM105.2 327.6h0.8v0.8h-0.8z" fill="#000" fill-opacity="0.45"/>
<path d="M108.1 336.2h0.8v0.8h-0.8zM89.3 333.5h0.8v0.8h-0.8zM111.6 332.6h0.8v0.8h-0.8zM103.2 332.4h0.8v0.8h-0.8zM89.2 333.1h0.8v0.8h-0.8zM97.9 339.4h0.8v0.8h-0.8zM112.1 333.5h0.8v0.8h-0.8zM89.8 334.7h0.8v0.8h-0.8zM107.5 334.5h0.8v0.8h-0.8zM92.9 333.2h0.8v0.8h-0.8zM107.5 339.9h0.8v0.8h-0.8zM97.0 330.8h0.8v0.8h-0.8zM103.7 334.7h0.8v0.8h-0.8zM98.0 332.1h0.8v0.8h-0.8zM96.2 336.3h0.8v0.8h-0.8zM95.3 337.4h0.8v0.8h-0.8zM104.6 334.4h0.8v0.8h-0.8zM95.5 339.9h0.8v0.8h-0.8zM101.1 339.0h0.8v0.8h-0.8zM102.3 330.8h0.8v0.8h-0.8zM109.1 341.7h0.8v0.8h-0.8zM105.4 330.7h0.8v0.8h-0.8zM102.0 328.8h0.8v0.8h-0.8zM99.6 330.3h0.8v0.8h-0.8zM101.1 337.0h0.8v0.8h-0.8zM102.8 327.1h0.8v0.8h-0.8zM113.0 332.5h0.8v0.8h-0.8zM94.3 337.4h0.8v0.8h-0.8zM88.9 334.5h0.8v0.8h-0.8zM110.3 331.6h0.8v0.8h-0.8zM93.4 331.7h0.8v0.8h-0.8zM112.3 337.1h0.8v0.8h-0.8zM107.4 328.8h0.8v0.8h-0.8zM108.8 330.1h0.8v0.8h-0.8zM103.5 335.1h0.8v0.8h-0.8zM112.7 342.9h0.8v0.8h-0.8zM111.4 333.5h0.8v0.8h-0.8zM90.1 334.2h0.8v0.8h-0.8zM103.2 344.6h0.8v0.8h-0.8zM102.4 331.1h0.8v0.8h-0.8z" fill="#000" fill-opacity="0.4"/>
<text x="117.86" y="329.10" font-size="8.2" font-weight="normal" fill="#1c1c1c" stroke="#1c1c1c" stroke-width="0.1" textLength="9.28" lengthAdjust="spacingAndGlyphs">45</text>
<line x1="144.8" y1="320.4" x2="186.4" y2="320.4" stroke="#a8a8a8" stroke-width="0.9"/>
<line x1="186.4" y1="320.4" x2="186.4" y2="357.0" stroke="#a8a8a8" stroke-width="0.9"/>
<line x1="157.5" y1="320.4" x2="157.5" y2="357.0" stroke="#8c8c8c" stroke-width="1.0"/>
<line x1="144.8" y1="342.09999999999997" x2="186.4" y2="342.09999999999997" stroke="#8c8c8c" stroke-width="1.0"/>
<line x1="144.8" y1="318.9" x2="144.8" y2="357.0" stroke="#3a3a3a" stroke-width="1.0"/>
<line x1="144.8" y1="357.0" x2="186.9" y2="357.0" stroke="#3a3a3a" stroke-width="1.0"/>
<line x1="143.20000000000002" y1="357.0" x2="144.8" y2="357.0" stroke="#555" stroke-width="0.7"/>
<line x1="144.8" y1="357.0" x2="144.8" y2="358.6" stroke="#555" stroke-width="0.7"/>
<line x1="143.20000000000002" y1="347.85" x2="144.8" y2="347.85" stroke="#555" stroke-width="0.7"/>
<line x1="155.20000000000002" y1="357.0" x2="155.20000000000002" y2="358.6" stroke="#555" stroke-width="0.7"/>
<line x1="143.20000000000002" y1="338.7" x2="144.8" y2="338.7" stroke="#555" stroke-width="0.7"/>
<line x1="165.60000000000002" y1="357.0" x2="165.60000000000002" y2="358.6" stroke="#555" stroke-width="0.7"/>
<line x1="143.20000000000002" y1="329.55" x2="144.8" y2="329.55" stroke="#555" stroke-width="0.7"/>
<line x1="176.0" y1="357.0" x2="176.0" y2="358.6" stroke="#555" stroke-width="0.7"/>
<line x1="143.20000000000002" y1="320.4" x2="144.8" y2="320.4" stroke="#555" stroke-width="0.7"/>
<line x1="186.4" y1="357.0" x2="186.4" y2="358.6" stroke="#555" stroke-width="0.7"/>
<text x="142.2" y="358.8" font-size="3.8" fill="#6a6a6a" transform="rotate(-90 142.2 358.8)" text-anchor="middle">10<tspan font-size="2.5" dy="-1.2">0</tspan></text>
<text x="145.6" y="362.0" font-size="3.8" fill="#6a6a6a" transform="rotate(-35 145.6 362.0)" text-anchor="middle">10<tspan font-size="2.5" dy="-1.2">0</tspan></text>
<text x="142.2" y="349.7" font-size="3.8" fill="#6a6a6a" transform="rotate(-90 142.2 349.7)" text-anchor="middle">10<tspan font-size="2.5" dy="-1.2">1</tspan></text>
<text x="156.0" y="362.0" font-size="3.8" fill="#6a6a6a" transform="rotate(-35 156.0 362.0)" text-anchor="middle">10<tspan font-size="2.5" dy="-1.2">1</tspan></text>
<text x="142.2" y="340.5" font-size="3.8" fill="#6a6a6a" transform="rotate(-90 142.2 340.5)" text-anchor="middle">10<tspan font-size="2.5" dy="-1.2">2</tspan></text>
<text x="166.4" y="362.0" font-size="3.8" fill="#6a6a6a" transform="rotate(-35 166.4 362.0)" text-anchor="middle">10<tspan font-size="2.5" dy="-1.2">2</tspan></text>
<text x="142.2" y="331.4" font-size="3.8" fill="#6a6a6a" transform="rotate(-90 142.2 331.4)" text-anchor="middle">10<tspan font-size="2.5" dy="-1.2">3</tspan></text>
<text x="176.8" y="362.0" font-size="3.8" fill="#6a6a6a" transform="rotate(-35 176.8 362.0)" text-anchor="middle">10<tspan font-size="2.5" dy="-1.2">3</tspan></text>
<text x="142.2" y="322.2" font-size="3.8" fill="#6a6a6a" transform="rotate(-90 142.2 322.2)" text-anchor="middle">10<tspan font-size="2.5" dy="-1.2">4</tspan></text>
<text x="187.2" y="362.0" font-size="3.8" fill="#6a6a6a" transform="rotate(-35 187.2 362.0)" text-anchor="middle">10<tspan font-size="2.5" dy="-1.2">4</tspan></text>
<g filter="url(#bl)"><ellipse cx="151.5" cy="333" rx="6.3" ry="3.5" transform="rotate(0 151.5 333)" fill="#111" fill-opacity="0.95"/></g>
<path d="M160.2 324.5h0.8v0.8h-0.8zM150.0 340.9h0.8v0.8h-0.8zM158.3 334.6h0.8v0.8h-0.8zM151.7 329.9h0.8v0.8h-0.8zM155.8 335.8h0.8v0.8h-0.8zM155.4 335.8h0.8v0.8h-0.8zM149.6 333.3h0.8v0.8h-0.8zM145.2 331.5h0.8v0.8h-0.8zM150.1 327.1h0.8v0.8h-0.8zM153.8 332.1h0.8v0.8h-0.8zM148.6 329.7h0.8v0.8h-0.8zM153.4 331.1h0.8v0.8h-0.8zM156.8 332.6h0.8v0.8h-0.8zM150.8 333.8h0.8v0.8h-0.8zM158.3 333.2h0.8v0.8h-0.8zM153.3 333.2h0.8v0.8h-0.8zM147.3 336.5h0.8v0.8h-0.8zM149.9 336.2h0.8v0.8h-0.8zM155.5 332.6h0.8v0.8h-0.8zM160.1 332.2h0.8v0.8h-0.8zM151.9 333.5h0.8v0.8h-0.8zM149.0 333.2h0.8v0.8h-0.8zM152.6 334.6h0.8v0.8h-0.8zM156.1 335.4h0.8v0.8h-0.8zM150.4 332.7h0.8v0.8h-0.8zM160.3 334.6h0.8v0.8h-0.8zM157.6 328.1h0.8v0.8h-0.8zM153.1 329.1h0.8v0.8h-0.8zM157.4 332.9h0.8v0.8h-0.8zM159.0 334.3h0.8v0.8h-0.8zM156.6 335.0h0.8v0.8h-0.8zM150.8 331.9h0.8v0.8h-0.8zM161.9 332.5h0.8v0.8h-0.8zM149.9 333.8h0.8v0.8h-0.8zM154.7 331.7h0.8v0.8h-0.8zM160.3 330.6h0.8v0.8h-0.8zM145.7 329.7h0.8v0.8h-0.8zM156.5 332.0h0.8v0.8h-0.8zM151.6 330.2h0.8v0.8h-0.8zM151.7 332.1h0.8v0.8h-0.8zM151.2 340.9h0.8v0.8h-0.8zM153.9 331.3h0.8v0.8h-0.8zM154.6 335.2h0.8v0.8h-0.8zM156.6 334.5h0.8v0.8h-0.8zM150.0 329.7h0.8v0.8h-0.8z" fill="#000" fill-opacity="0.45"/>
<path d="M169.0 333.0h0.8v0.8h-0.8zM166.3 333.1h0.8v0.8h-0.8zM168.4 334.3h0.8v0.8h-0.8zM160.0 333.3h0.8v0.8h-0.8zM161.5 332.6h0.8v0.8h-0.8zM165.1 334.5h0.8v0.8h-0.8zM168.7 330.7h0.8v0.8h-0.8zM168.9 332.9h0.8v0.8h-0.8zM169.7 332.4h0.8v0.8h-0.8zM160.9 333.3h0.8v0.8h-0.8zM159.4 333.5h0.8v0.8h-0.8zM170.4 332.4h0.8v0.8h-0.8zM159.6 333.6h0.8v0.8h-0.8zM170.0 329.4h0.8v0.8h-0.8z" fill="#000" fill-opacity="0.4"/>
<text x="180.06" y="329.10" font-size="8.2" font-weight="normal" fill="#1c1c1c" stroke="#1c1c1c" stroke-width="0.1" textLength="5.08" lengthAdjust="spacingAndGlyphs">3</text>
<line x1="200.2" y1="320.4" x2="241.7" y2="320.4" stroke="#a8a8a8" stroke-width="0.9"/>
<line x1="241.7" y1="320.4" x2="241.7" y2="357.0" stroke="#a8a8a8" stroke-width="0.9"/>
<line x1="212.5" y1="320.4" x2="212.5" y2="357.0" stroke="#8c8c8c" stroke-width="1.0"/>
<line x1="200.2" y1="342.09999999999997" x2="241.7" y2="342.09999999999997" stroke="#8c8c8c" stroke-width="1.0"/>
<line x1="200.2" y1="318.9" x2="200.2" y2="357.0" stroke="#3a3a3a" stroke-width="1.0"/>
<line x1="200.2" y1="357.0" x2="242.2" y2="357.0" stroke="#3a3a3a" stroke-width="1.0"/>
<line x1="198.6" y1="357.0" x2="200.2" y2="357.0" stroke="#555" stroke-width="0.7"/>
<line x1="200.2" y1="357.0" x2="200.2" y2="358.6" stroke="#555" stroke-width="0.7"/>
<line x1="198.6" y1="347.85" x2="200.2" y2="347.85" stroke="#555" stroke-width="0.7"/>
<line x1="210.575" y1="357.0" x2="210.575" y2="358.6" stroke="#555" stroke-width="0.7"/>
<line x1="198.6" y1="338.7" x2="200.2" y2="338.7" stroke="#555" stroke-width="0.7"/>
<line x1="220.95" y1="357.0" x2="220.95" y2="358.6" stroke="#555" stroke-width="0.7"/>
<line x1="198.6" y1="329.55" x2="200.2" y2="329.55" stroke="#555" stroke-width="0.7"/>
<line x1="231.325" y1="357.0" x2="231.325" y2="358.6" stroke="#555" stroke-width="0.7"/>
<line x1="198.6" y1="320.4" x2="200.2" y2="320.4" stroke="#555" stroke-width="0.7"/>
<line x1="241.7" y1="357.0" x2="241.7" y2="358.6" stroke="#555" stroke-width="0.7"/>
<text x="197.6" y="358.8" font-size="3.8" fill="#6a6a6a" transform="rotate(-90 197.6 358.8)" text-anchor="middle">10<tspan font-size="2.5" dy="-1.2">0</tspan></text>
<text x="201.0" y="362.0" font-size="3.8" fill="#6a6a6a" transform="rotate(-35 201.0 362.0)" text-anchor="middle">10<tspan font-size="2.5" dy="-1.2">0</tspan></text>
<text x="197.6" y="349.7" font-size="3.8" fill="#6a6a6a" transform="rotate(-90 197.6 349.7)" text-anchor="middle">10<tspan font-size="2.5" dy="-1.2">1</tspan></text>
<text x="211.4" y="362.0" font-size="3.8" fill="#6a6a6a" transform="rotate(-35 211.4 362.0)" text-anchor="middle">10<tspan font-size="2.5" dy="-1.2">1</tspan></text>
<text x="197.6" y="340.5" font-size="3.8" fill="#6a6a6a" transform="rotate(-90 197.6 340.5)" text-anchor="middle">10<tspan font-size="2.5" dy="-1.2">2</tspan></text>
<text x="221.8" y="362.0" font-size="3.8" fill="#6a6a6a" transform="rotate(-35 221.8 362.0)" text-anchor="middle">10<tspan font-size="2.5" dy="-1.2">2</tspan></text>
<text x="197.6" y="331.4" font-size="3.8" fill="#6a6a6a" transform="rotate(-90 197.6 331.4)" text-anchor="middle">10<tspan font-size="2.5" dy="-1.2">3</tspan></text>
<text x="232.1" y="362.0" font-size="3.8" fill="#6a6a6a" transform="rotate(-35 232.1 362.0)" text-anchor="middle">10<tspan font-size="2.5" dy="-1.2">3</tspan></text>
<text x="197.6" y="322.2" font-size="3.8" fill="#6a6a6a" transform="rotate(-90 197.6 322.2)" text-anchor="middle">10<tspan font-size="2.5" dy="-1.2">4</tspan></text>
<text x="242.5" y="362.0" font-size="3.8" fill="#6a6a6a" transform="rotate(-35 242.5 362.0)" text-anchor="middle">10<tspan font-size="2.5" dy="-1.2">4</tspan></text>
<g filter="url(#bl)"><ellipse cx="206.5" cy="333" rx="6.5" ry="3.8" transform="rotate(0 206.5 333)" fill="#111" fill-opacity="0.85"/><ellipse cx="205" cy="338" rx="3" ry="2.5" transform="rotate(0 205 338)" fill="#111" fill-opacity="0.5"/></g>
<path d="M200.0 334.4h0.8v0.8h-0.8zM207.1 332.5h0.8v0.8h-0.8zM209.6 334.5h0.8v0.8h-0.8zM208.6 331.8h0.8v0.8h-0.8zM204.2 334.8h0.8v0.8h-0.8zM211.8 331.8h0.8v0.8h-0.8zM208.5 329.7h0.8v0.8h-0.8zM204.1 330.4h0.8v0.8h-0.8zM210.1 337.1h0.8v0.8h-0.8zM208.2 334.0h0.8v0.8h-0.8zM210.6 339.3h0.8v0.8h-0.8zM207.1 330.4h0.8v0.8h-0.8zM204.0 326.0h0.8v0.8h-0.8zM203.5 335.0h0.8v0.8h-0.8zM210.0 332.2h0.8v0.8h-0.8zM202.0 331.2h0.8v0.8h-0.8zM207.5 331.7h0.8v0.8h-0.8zM214.3 334.0h0.8v0.8h-0.8zM205.1 328.3h0.8v0.8h-0.8zM212.4 333.1h0.8v0.8h-0.8zM204.1 338.0h0.8v0.8h-0.8zM205.5 334.9h0.8v0.8h-0.8zM203.1 326.9h0.8v0.8h-0.8zM202.7 341.7h0.8v0.8h-0.8zM200.5 334.6h0.8v0.8h-0.8zM205.8 329.8h0.8v0.8h-0.8zM210.1 336.6h0.8v0.8h-0.8zM212.8 337.0h0.8v0.8h-0.8zM209.1 332.5h0.8v0.8h-0.8zM210.7 331.4h0.8v0.8h-0.8zM204.5 327.3h0.8v0.8h-0.8zM209.6 335.4h0.8v0.8h-0.8zM206.2 329.9h0.8v0.8h-0.8zM212.1 335.2h0.8v0.8h-0.8zM215.3 334.2h0.8v0.8h-0.8zM212.4 332.9h0.8v0.8h-0.8zM206.7 333.2h0.8v0.8h-0.8zM206.5 331.8h0.8v0.8h-0.8zM209.9 337.3h0.8v0.8h-0.8zM206.1 337.4h0.8v0.8h-0.8zM209.6 333.4h0.8v0.8h-0.8zM212.1 332.0h0.8v0.8h-0.8zM204.5 331.7h0.8v0.8h-0.8zM211.0 331.1h0.8v0.8h-0.8zM213.9 328.5h0.8v0.8h-0.8zM208.2 336.1h0.8v0.8h-0.8zM213.5 335.0h0.8v0.8h-0.8zM205.8 331.7h0.8v0.8h-0.8zM204.6 336.1h0.8v0.8h-0.8zM205.5 339.3h0.8v0.8h-0.8zM208.3 335.3h0.8v0.8h-0.8zM203.5 338.7h0.8v0.8h-0.8zM204.8 338.4h0.8v0.8h-0.8zM205.4 334.4h0.8v0.8h-0.8zM206.1 337.0h0.8v0.8h-0.8zM202.4 339.2h0.8v0.8h-0.8zM203.3 340.2h0.8v0.8h-0.8zM207.1 339.4h0.8v0.8h-0.8zM205.3 339.2h0.8v0.8h-0.8zM205.2 340.3h0.8v0.8h-0.8zM206.1 339.9h0.8v0.8h-0.8zM207.2 338.8h0.8v0.8h-0.8zM203.2 340.2h0.8v0.8h-0.8zM207.3 337.4h0.8v0.8h-0.8zM200.4 335.5h0.8v0.8h-0.8z" fill="#000" fill-opacity="0.45"/>
<path d="M224.2 331.9h0.8v0.8h-0.8zM221.8 335.0h0.8v0.8h-0.8zM223.1 332.7h0.8v0.8h-0.8zM221.2 332.6h0.8v0.8h-0.8zM219.2 333.1h0.8v0.8h-0.8zM216.4 330.6h0.8v0.8h-0.8zM219.6 331.2h0.8v0.8h-0.8zM213.8 335.3h0.8v0.8h-0.8zM221.9 335.5h0.8v0.8h-0.8zM225.9 333.5h0.8v0.8h-0.8zM218.9 331.0h0.8v0.8h-0.8zM219.6 333.8h0.8v0.8h-0.8zM225.0 330.6h0.8v0.8h-0.8zM219.3 330.7h0.8v0.8h-0.8zM217.6 334.7h0.8v0.8h-0.8zM226.0 335.4h0.8v0.8h-0.8zM214.0 333.7h0.8v0.8h-0.8zM221.8 333.8h0.8v0.8h-0.8zM218.5 334.2h0.8v0.8h-0.8zM220.8 333.2h0.8v0.8h-0.8zM216.8 330.3h0.8v0.8h-0.8zM217.8 334.3h0.8v0.8h-0.8z" fill="#000" fill-opacity="0.4"/>
<text x="235.36" y="329.10" font-size="8.2" font-weight="normal" fill="#1c1c1c" stroke="#1c1c1c" stroke-width="0.1" textLength="5.08" lengthAdjust="spacingAndGlyphs">7</text>
<line x1="32.8" y1="372.3" x2="74.69999999999999" y2="372.3" stroke="#a8a8a8" stroke-width="0.9"/>
<line x1="74.69999999999999" y1="372.3" x2="74.69999999999999" y2="408.7" stroke="#a8a8a8" stroke-width="0.9"/>
<line x1="45.4" y1="372.3" x2="45.4" y2="408.7" stroke="#8c8c8c" stroke-width="1.0"/>
<line x1="32.8" y1="393.7" x2="74.69999999999999" y2="393.7" stroke="#8c8c8c" stroke-width="1.0"/>
<line x1="32.8" y1="370.8" x2="32.8" y2="408.7" stroke="#3a3a3a" stroke-width="1.0"/>
<line x1="32.8" y1="408.7" x2="75.19999999999999" y2="408.7" stroke="#3a3a3a" stroke-width="1.0"/>
<line x1="31.199999999999996" y1="408.7" x2="32.8" y2="408.7" stroke="#555" stroke-width="0.7"/>
<line x1="32.8" y1="408.7" x2="32.8" y2="410.3" stroke="#555" stroke-width="0.7"/>
<line x1="31.199999999999996" y1="399.59999999999997" x2="32.8" y2="399.59999999999997" stroke="#555" stroke-width="0.7"/>
<line x1="43.275" y1="408.7" x2="43.275" y2="410.3" stroke="#555" stroke-width="0.7"/>
<line x1="31.199999999999996" y1="390.5" x2="32.8" y2="390.5" stroke="#555" stroke-width="0.7"/>
<line x1="53.75" y1="408.7" x2="53.75" y2="410.3" stroke="#555" stroke-width="0.7"/>
<line x1="31.199999999999996" y1="381.4" x2="32.8" y2="381.4" stroke="#555" stroke-width="0.7"/>
<line x1="64.225" y1="408.7" x2="64.225" y2="410.3" stroke="#555" stroke-width="0.7"/>
<line x1="31.199999999999996" y1="372.3" x2="32.8" y2="372.3" stroke="#555" stroke-width="0.7"/>
<line x1="74.69999999999999" y1="408.7" x2="74.69999999999999" y2="410.3" stroke="#555" stroke-width="0.7"/>
<text x="30.2" y="410.5" font-size="3.8" fill="#6a6a6a" transform="rotate(-90 30.2 410.5)" text-anchor="middle">10<tspan font-size="2.5" dy="-1.2">0</tspan></text>
<text x="33.6" y="413.7" font-size="3.8" fill="#6a6a6a" transform="rotate(-35 33.6 413.7)" text-anchor="middle">10<tspan font-size="2.5" dy="-1.2">0</tspan></text>
<text x="30.2" y="401.4" font-size="3.8" fill="#6a6a6a" transform="rotate(-90 30.2 401.4)" text-anchor="middle">10<tspan font-size="2.5" dy="-1.2">1</tspan></text>
<text x="44.1" y="413.7" font-size="3.8" fill="#6a6a6a" transform="rotate(-35 44.1 413.7)" text-anchor="middle">10<tspan font-size="2.5" dy="-1.2">1</tspan></text>
<text x="30.2" y="392.3" font-size="3.8" fill="#6a6a6a" transform="rotate(-90 30.2 392.3)" text-anchor="middle">10<tspan font-size="2.5" dy="-1.2">2</tspan></text>
<text x="54.5" y="413.7" font-size="3.8" fill="#6a6a6a" transform="rotate(-35 54.5 413.7)" text-anchor="middle">10<tspan font-size="2.5" dy="-1.2">2</tspan></text>
<text x="30.2" y="383.2" font-size="3.8" fill="#6a6a6a" transform="rotate(-90 30.2 383.2)" text-anchor="middle">10<tspan font-size="2.5" dy="-1.2">3</tspan></text>
<text x="65.0" y="413.7" font-size="3.8" fill="#6a6a6a" transform="rotate(-35 65.0 413.7)" text-anchor="middle">10<tspan font-size="2.5" dy="-1.2">3</tspan></text>
<text x="30.2" y="374.1" font-size="3.8" fill="#6a6a6a" transform="rotate(-90 30.2 374.1)" text-anchor="middle">10<tspan font-size="2.5" dy="-1.2">4</tspan></text>
<text x="75.5" y="413.7" font-size="3.8" fill="#6a6a6a" transform="rotate(-35 75.5 413.7)" text-anchor="middle">10<tspan font-size="2.5" dy="-1.2">4</tspan></text>
<g filter="url(#bl)"><ellipse cx="40.5" cy="384.4" rx="7.5" ry="4.3" transform="rotate(-8 40.5 384.4)" fill="#111" fill-opacity="0.85"/></g>
<path d="M39.0 391.8h0.8v0.8h-0.8zM41.1 382.5h0.8v0.8h-0.8zM41.5 389.1h0.8v0.8h-0.8zM49.3 383.2h0.8v0.8h-0.8zM38.3 383.6h0.8v0.8h-0.8zM36.4 380.5h0.8v0.8h-0.8zM44.1 391.6h0.8v0.8h-0.8zM44.5 382.9h0.8v0.8h-0.8zM43.2 384.3h0.8v0.8h-0.8zM38.5 389.6h0.8v0.8h-0.8zM41.4 376.9h0.8v0.8h-0.8zM42.8 384.7h0.8v0.8h-0.8zM37.5 389.4h0.8v0.8h-0.8zM42.2 381.3h0.8v0.8h-0.8zM41.7 386.3h0.8v0.8h-0.8zM38.5 383.8h0.8v0.8h-0.8zM39.8 392.0h0.8v0.8h-0.8zM33.9 383.1h0.8v0.8h-0.8zM37.0 383.7h0.8v0.8h-0.8zM38.7 382.7h0.8v0.8h-0.8zM39.3 376.4h0.8v0.8h-0.8zM36.8 386.7h0.8v0.8h-0.8zM36.9 382.0h0.8v0.8h-0.8zM39.3 387.4h0.8v0.8h-0.8zM48.5 383.5h0.8v0.8h-0.8zM34.8 380.5h0.8v0.8h-0.8zM44.6 383.3h0.8v0.8h-0.8zM34.5 386.4h0.8v0.8h-0.8zM42.6 387.2h0.8v0.8h-0.8zM48.9 378.2h0.8v0.8h-0.8zM40.4 382.2h0.8v0.8h-0.8zM45.1 388.0h0.8v0.8h-0.8zM53.8 381.1h0.8v0.8h-0.8zM38.5 383.3h0.8v0.8h-0.8zM32.7 381.0h0.8v0.8h-0.8zM33.5 379.9h0.8v0.8h-0.8zM33.8 388.8h0.8v0.8h-0.8zM39.1 382.6h0.8v0.8h-0.8zM35.8 382.3h0.8v0.8h-0.8zM43.1 382.1h0.8v0.8h-0.8zM35.8 381.0h0.8v0.8h-0.8zM49.4 384.8h0.8v0.8h-0.8zM32.8 387.4h0.8v0.8h-0.8zM35.7 383.4h0.8v0.8h-0.8zM37.1 384.2h0.8v0.8h-0.8zM43.2 386.4h0.8v0.8h-0.8zM45.8 385.1h0.8v0.8h-0.8zM41.9 379.5h0.8v0.8h-0.8zM42.7 384.2h0.8v0.8h-0.8zM36.8 387.2h0.8v0.8h-0.8zM36.6 382.7h0.8v0.8h-0.8zM41.0 383.4h0.8v0.8h-0.8zM46.0 382.6h0.8v0.8h-0.8zM50.0 387.9h0.8v0.8h-0.8zM42.1 385.2h0.8v0.8h-0.8zM35.9 385.7h0.8v0.8h-0.8zM43.9 389.4h0.8v0.8h-0.8zM45.0 383.3h0.8v0.8h-0.8zM39.3 380.1h0.8v0.8h-0.8zM42.6 383.7h0.8v0.8h-0.8zM41.5 381.4h0.8v0.8h-0.8zM43.4 387.2h0.8v0.8h-0.8zM40.4 390.6h0.8v0.8h-0.8zM35.0 383.6h0.8v0.8h-0.8zM39.3 385.1h0.8v0.8h-0.8zM38.0 383.3h0.8v0.8h-0.8zM40.0 387.5h0.8v0.8h-0.8z" fill="#000" fill-opacity="0.45"/>
<path d="M49.3 383.0h0.8v0.8h-0.8zM61.9 374.4h0.8v0.8h-0.8zM61.3 377.5h0.8v0.8h-0.8zM58.4 378.6h0.8v0.8h-0.8zM58.7 377.9h0.8v0.8h-0.8zM57.0 383.4h0.8v0.8h-0.8zM53.2 384.6h0.8v0.8h-0.8zM54.7 379.8h0.8v0.8h-0.8zM55.5 375.8h0.8v0.8h-0.8zM58.8 381.7h0.8v0.8h-0.8zM49.2 379.6h0.8v0.8h-0.8zM47.7 385.7h0.8v0.8h-0.8zM51.6 388.5h0.8v0.8h-0.8zM53.6 376.6h0.8v0.8h-0.8zM51.2 382.0h0.8v0.8h-0.8zM58.7 377.7h0.8v0.8h-0.8zM59.1 386.9h0.8v0.8h-0.8zM47.0 379.5h0.8v0.8h-0.8zM60.3 380.5h0.8v0.8h-0.8zM48.0 380.4h0.8v0.8h-0.8zM55.9 387.0h0.8v0.8h-0.8zM57.0 377.4h0.8v0.8h-0.8zM50.0 383.2h0.8v0.8h-0.8zM53.9 380.8h0.8v0.8h-0.8zM48.6 386.2h0.8v0.8h-0.8zM49.1 382.4h0.8v0.8h-0.8zM55.7 385.1h0.8v0.8h-0.8zM47.0 387.6h0.8v0.8h-0.8zM52.7 380.5h0.8v0.8h-0.8zM49.4 385.4h0.8v0.8h-0.8z" fill="#000" fill-opacity="0.4"/>
<text x="64.16" y="381.00" font-size="8.2" font-weight="normal" fill="#1c1c1c" stroke="#1c1c1c" stroke-width="0.1" textLength="9.28" lengthAdjust="spacingAndGlyphs">18</text>
<line x1="87.2" y1="372.3" x2="128.4" y2="372.3" stroke="#a8a8a8" stroke-width="0.9"/>
<line x1="128.4" y1="372.3" x2="128.4" y2="408.7" stroke="#a8a8a8" stroke-width="0.9"/>
<line x1="99.2" y1="372.3" x2="99.2" y2="408.7" stroke="#8c8c8c" stroke-width="1.0"/>
<line x1="87.2" y1="393.7" x2="128.4" y2="393.7" stroke="#8c8c8c" stroke-width="1.0"/>
<line x1="87.2" y1="370.8" x2="87.2" y2="408.7" stroke="#3a3a3a" stroke-width="1.0"/>
<line x1="87.2" y1="408.7" x2="128.9" y2="408.7" stroke="#3a3a3a" stroke-width="1.0"/>
<line x1="85.60000000000001" y1="408.7" x2="87.2" y2="408.7" stroke="#555" stroke-width="0.7"/>
<line x1="87.2" y1="408.7" x2="87.2" y2="410.3" stroke="#555" stroke-width="0.7"/>
<line x1="85.60000000000001" y1="399.59999999999997" x2="87.2" y2="399.59999999999997" stroke="#555" stroke-width="0.7"/>
<line x1="97.5" y1="408.7" x2="97.5" y2="410.3" stroke="#555" stroke-width="0.7"/>
<line x1="85.60000000000001" y1="390.5" x2="87.2" y2="390.5" stroke="#555" stroke-width="0.7"/>
<line x1="107.80000000000001" y1="408.7" x2="107.80000000000001" y2="410.3" stroke="#555" stroke-width="0.7"/>
<line x1="85.60000000000001" y1="381.4" x2="87.2" y2="381.4" stroke="#555" stroke-width="0.7"/>
<line x1="118.10000000000001" y1="408.7" x2="118.10000000000001" y2="410.3" stroke="#555" stroke-width="0.7"/>
<line x1="85.60000000000001" y1="372.3" x2="87.2" y2="372.3" stroke="#555" stroke-width="0.7"/>
<line x1="128.4" y1="408.7" x2="128.4" y2="410.3" stroke="#555" stroke-width="0.7"/>
<text x="84.6" y="410.5" font-size="3.8" fill="#6a6a6a" transform="rotate(-90 84.6 410.5)" text-anchor="middle">10<tspan font-size="2.5" dy="-1.2">0</tspan></text>
<text x="88.0" y="413.7" font-size="3.8" fill="#6a6a6a" transform="rotate(-35 88.0 413.7)" text-anchor="middle">10<tspan font-size="2.5" dy="-1.2">0</tspan></text>
<text x="84.6" y="401.4" font-size="3.8" fill="#6a6a6a" transform="rotate(-90 84.6 401.4)" text-anchor="middle">10<tspan font-size="2.5" dy="-1.2">1</tspan></text>
<text x="98.3" y="413.7" font-size="3.8" fill="#6a6a6a" transform="rotate(-35 98.3 413.7)" text-anchor="middle">10<tspan font-size="2.5" dy="-1.2">1</tspan></text>
<text x="84.6" y="392.3" font-size="3.8" fill="#6a6a6a" transform="rotate(-90 84.6 392.3)" text-anchor="middle">10<tspan font-size="2.5" dy="-1.2">2</tspan></text>
<text x="108.6" y="413.7" font-size="3.8" fill="#6a6a6a" transform="rotate(-35 108.6 413.7)" text-anchor="middle">10<tspan font-size="2.5" dy="-1.2">2</tspan></text>
<text x="84.6" y="383.2" font-size="3.8" fill="#6a6a6a" transform="rotate(-90 84.6 383.2)" text-anchor="middle">10<tspan font-size="2.5" dy="-1.2">3</tspan></text>
<text x="118.9" y="413.7" font-size="3.8" fill="#6a6a6a" transform="rotate(-35 118.9 413.7)" text-anchor="middle">10<tspan font-size="2.5" dy="-1.2">3</tspan></text>
<text x="84.6" y="374.1" font-size="3.8" fill="#6a6a6a" transform="rotate(-90 84.6 374.1)" text-anchor="middle">10<tspan font-size="2.5" dy="-1.2">4</tspan></text>
<text x="129.2" y="413.7" font-size="3.8" fill="#6a6a6a" transform="rotate(-35 129.2 413.7)" text-anchor="middle">10<tspan font-size="2.5" dy="-1.2">4</tspan></text>
<g filter="url(#bl)"><ellipse cx="95.5" cy="384.4" rx="7.5" ry="4.5" transform="rotate(-8 95.5 384.4)" fill="#111" fill-opacity="0.85"/></g>
<path d="M104.4 386.7h0.8v0.8h-0.8zM98.4 385.3h0.8v0.8h-0.8zM99.9 390.2h0.8v0.8h-0.8zM88.1 383.6h0.8v0.8h-0.8zM95.8 382.7h0.8v0.8h-0.8zM98.3 380.5h0.8v0.8h-0.8zM88.5 386.0h0.8v0.8h-0.8zM89.1 381.4h0.8v0.8h-0.8zM96.8 381.5h0.8v0.8h-0.8zM99.7 381.5h0.8v0.8h-0.8zM87.1 383.4h0.8v0.8h-0.8zM102.0 384.2h0.8v0.8h-0.8zM96.5 381.7h0.8v0.8h-0.8zM99.1 385.3h0.8v0.8h-0.8zM94.9 376.7h0.8v0.8h-0.8zM101.5 384.0h0.8v0.8h-0.8zM94.1 383.2h0.8v0.8h-0.8zM100.3 383.0h0.8v0.8h-0.8zM97.5 378.3h0.8v0.8h-0.8zM89.5 383.6h0.8v0.8h-0.8zM97.9 384.6h0.8v0.8h-0.8zM96.1 384.6h0.8v0.8h-0.8zM91.3 383.9h0.8v0.8h-0.8zM97.0 381.7h0.8v0.8h-0.8zM104.2 382.9h0.8v0.8h-0.8zM90.3 381.9h0.8v0.8h-0.8zM96.2 377.9h0.8v0.8h-0.8zM97.2 383.7h0.8v0.8h-0.8zM106.2 387.2h0.8v0.8h-0.8zM93.0 393.0h0.8v0.8h-0.8zM92.9 390.1h0.8v0.8h-0.8zM110.9 384.2h0.8v0.8h-0.8zM105.4 385.2h0.8v0.8h-0.8zM97.9 377.6h0.8v0.8h-0.8zM99.1 382.9h0.8v0.8h-0.8zM92.9 390.6h0.8v0.8h-0.8zM88.7 384.2h0.8v0.8h-0.8zM95.3 383.8h0.8v0.8h-0.8zM99.0 376.3h0.8v0.8h-0.8zM101.2 378.0h0.8v0.8h-0.8zM90.0 387.6h0.8v0.8h-0.8zM97.3 383.8h0.8v0.8h-0.8zM90.5 385.3h0.8v0.8h-0.8zM98.0 387.6h0.8v0.8h-0.8zM96.8 380.7h0.8v0.8h-0.8zM93.5 381.9h0.8v0.8h-0.8zM94.4 390.0h0.8v0.8h-0.8zM96.1 382.2h0.8v0.8h-0.8zM100.8 381.6h0.8v0.8h-0.8zM99.0 386.8h0.8v0.8h-0.8zM96.9 383.7h0.8v0.8h-0.8zM98.7 388.0h0.8v0.8h-0.8zM97.7 391.5h0.8v0.8h-0.8zM96.6 381.7h0.8v0.8h-0.8zM100.0 383.0h0.8v0.8h-0.8zM96.0 389.5h0.8v0.8h-0.8zM100.8 379.7h0.8v0.8h-0.8zM92.8 381.4h0.8v0.8h-0.8zM102.3 377.0h0.8v0.8h-0.8zM95.8 388.3h0.8v0.8h-0.8zM96.6 380.3h0.8v0.8h-0.8zM92.7 387.8h0.8v0.8h-0.8zM98.0 380.4h0.8v0.8h-0.8zM90.6 386.1h0.8v0.8h-0.8zM94.1 381.1h0.8v0.8h-0.8zM96.6 386.3h0.8v0.8h-0.8zM94.2 382.7h0.8v0.8h-0.8zM94.3 384.7h0.8v0.8h-0.8z" fill="#000" fill-opacity="0.45"/>
<path d="M110.8 377.9h0.8v0.8h-0.8zM105.7 382.3h0.8v0.8h-0.8zM104.7 381.7h0.8v0.8h-0.8zM110.8 386.4h0.8v0.8h-0.8zM105.3 377.8h0.8v0.8h-0.8zM103.0 380.6h0.8v0.8h-0.8zM102.7 376.5h0.8v0.8h-0.8zM113.2 381.1h0.8v0.8h-0.8zM107.8 381.8h0.8v0.8h-0.8zM106.1 387.8h0.8v0.8h-0.8zM113.2 386.4h0.8v0.8h-0.8zM103.5 379.4h0.8v0.8h-0.8zM110.1 382.9h0.8v0.8h-0.8zM103.3 380.2h0.8v0.8h-0.8zM107.7 385.1h0.8v0.8h-0.8zM107.2 375.2h0.8v0.8h-0.8zM113.2 377.3h0.8v0.8h-0.8zM112.9 383.2h0.8v0.8h-0.8zM104.9 379.8h0.8v0.8h-0.8zM107.5 379.0h0.8v0.8h-0.8zM106.2 378.3h0.8v0.8h-0.8zM113.9 381.7h0.8v0.8h-0.8zM103.1 382.6h0.8v0.8h-0.8zM104.5 381.2h0.8v0.8h-0.8zM102.5 375.3h0.8v0.8h-0.8zM104.8 382.3h0.8v0.8h-0.8zM112.8 388.1h0.8v0.8h-0.8zM105.2 389.3h0.8v0.8h-0.8z" fill="#000" fill-opacity="0.4"/>
<text x="117.86" y="381.00" font-size="8.2" font-weight="normal" fill="#1c1c1c" stroke="#1c1c1c" stroke-width="0.1" textLength="9.28" lengthAdjust="spacingAndGlyphs">18</text>
<line x1="144.8" y1="372.3" x2="186.4" y2="372.3" stroke="#a8a8a8" stroke-width="0.9"/>
<line x1="186.4" y1="372.3" x2="186.4" y2="408.7" stroke="#a8a8a8" stroke-width="0.9"/>
<line x1="157.5" y1="372.3" x2="157.5" y2="408.7" stroke="#8c8c8c" stroke-width="1.0"/>
<line x1="144.8" y1="393.7" x2="186.4" y2="393.7" stroke="#8c8c8c" stroke-width="1.0"/>
<line x1="144.8" y1="370.8" x2="144.8" y2="408.7" stroke="#3a3a3a" stroke-width="1.0"/>
<line x1="144.8" y1="408.7" x2="186.9" y2="408.7" stroke="#3a3a3a" stroke-width="1.0"/>
<line x1="143.20000000000002" y1="408.7" x2="144.8" y2="408.7" stroke="#555" stroke-width="0.7"/>
<line x1="144.8" y1="408.7" x2="144.8" y2="410.3" stroke="#555" stroke-width="0.7"/>
<line x1="143.20000000000002" y1="399.59999999999997" x2="144.8" y2="399.59999999999997" stroke="#555" stroke-width="0.7"/>
<line x1="155.20000000000002" y1="408.7" x2="155.20000000000002" y2="410.3" stroke="#555" stroke-width="0.7"/>
<line x1="143.20000000000002" y1="390.5" x2="144.8" y2="390.5" stroke="#555" stroke-width="0.7"/>
<line x1="165.60000000000002" y1="408.7" x2="165.60000000000002" y2="410.3" stroke="#555" stroke-width="0.7"/>
<line x1="143.20000000000002" y1="381.4" x2="144.8" y2="381.4" stroke="#555" stroke-width="0.7"/>
<line x1="176.0" y1="408.7" x2="176.0" y2="410.3" stroke="#555" stroke-width="0.7"/>
<line x1="143.20000000000002" y1="372.3" x2="144.8" y2="372.3" stroke="#555" stroke-width="0.7"/>
<line x1="186.4" y1="408.7" x2="186.4" y2="410.3" stroke="#555" stroke-width="0.7"/>
<text x="142.2" y="410.5" font-size="3.8" fill="#6a6a6a" transform="rotate(-90 142.2 410.5)" text-anchor="middle">10<tspan font-size="2.5" dy="-1.2">0</tspan></text>
<text x="145.6" y="413.7" font-size="3.8" fill="#6a6a6a" transform="rotate(-35 145.6 413.7)" text-anchor="middle">10<tspan font-size="2.5" dy="-1.2">0</tspan></text>
<text x="142.2" y="401.4" font-size="3.8" fill="#6a6a6a" transform="rotate(-90 142.2 401.4)" text-anchor="middle">10<tspan font-size="2.5" dy="-1.2">1</tspan></text>
<text x="156.0" y="413.7" font-size="3.8" fill="#6a6a6a" transform="rotate(-35 156.0 413.7)" text-anchor="middle">10<tspan font-size="2.5" dy="-1.2">1</tspan></text>
<text x="142.2" y="392.3" font-size="3.8" fill="#6a6a6a" transform="rotate(-90 142.2 392.3)" text-anchor="middle">10<tspan font-size="2.5" dy="-1.2">2</tspan></text>
<text x="166.4" y="413.7" font-size="3.8" fill="#6a6a6a" transform="rotate(-35 166.4 413.7)" text-anchor="middle">10<tspan font-size="2.5" dy="-1.2">2</tspan></text>
<text x="142.2" y="383.2" font-size="3.8" fill="#6a6a6a" transform="rotate(-90 142.2 383.2)" text-anchor="middle">10<tspan font-size="2.5" dy="-1.2">3</tspan></text>
<text x="176.8" y="413.7" font-size="3.8" fill="#6a6a6a" transform="rotate(-35 176.8 413.7)" text-anchor="middle">10<tspan font-size="2.5" dy="-1.2">3</tspan></text>
<text x="142.2" y="374.1" font-size="3.8" fill="#6a6a6a" transform="rotate(-90 142.2 374.1)" text-anchor="middle">10<tspan font-size="2.5" dy="-1.2">4</tspan></text>
<text x="187.2" y="413.7" font-size="3.8" fill="#6a6a6a" transform="rotate(-35 187.2 413.7)" text-anchor="middle">10<tspan font-size="2.5" dy="-1.2">4</tspan></text>
<g filter="url(#bl)"><ellipse cx="151.5" cy="386" rx="6.5" ry="4" transform="rotate(0 151.5 386)" fill="#111" fill-opacity="0.95"/></g>
<path d="M159.1 391.0h0.8v0.8h-0.8zM150.1 380.8h0.8v0.8h-0.8zM152.9 386.4h0.8v0.8h-0.8zM145.7 385.5h0.8v0.8h-0.8zM157.4 384.5h0.8v0.8h-0.8zM147.8 384.8h0.8v0.8h-0.8zM149.4 388.2h0.8v0.8h-0.8zM150.9 387.2h0.8v0.8h-0.8zM163.7 392.9h0.8v0.8h-0.8zM148.1 389.4h0.8v0.8h-0.8zM145.8 390.6h0.8v0.8h-0.8zM155.1 389.1h0.8v0.8h-0.8zM152.0 385.6h0.8v0.8h-0.8zM145.9 393.7h0.8v0.8h-0.8zM153.9 383.5h0.8v0.8h-0.8zM145.0 382.9h0.8v0.8h-0.8zM156.6 392.3h0.8v0.8h-0.8zM155.8 385.0h0.8v0.8h-0.8zM152.3 381.4h0.8v0.8h-0.8zM153.7 384.5h0.8v0.8h-0.8zM150.8 389.2h0.8v0.8h-0.8zM151.6 386.1h0.8v0.8h-0.8zM155.0 386.6h0.8v0.8h-0.8zM156.5 383.6h0.8v0.8h-0.8zM150.6 389.0h0.8v0.8h-0.8zM146.6 385.5h0.8v0.8h-0.8zM144.8 384.2h0.8v0.8h-0.8zM155.0 390.3h0.8v0.8h-0.8zM154.6 390.6h0.8v0.8h-0.8zM154.0 390.0h0.8v0.8h-0.8zM147.7 381.4h0.8v0.8h-0.8zM146.0 391.7h0.8v0.8h-0.8zM149.3 389.5h0.8v0.8h-0.8zM151.2 390.4h0.8v0.8h-0.8zM152.1 381.9h0.8v0.8h-0.8zM148.5 392.0h0.8v0.8h-0.8zM151.8 379.4h0.8v0.8h-0.8zM146.2 387.4h0.8v0.8h-0.8zM153.9 385.6h0.8v0.8h-0.8zM151.9 384.6h0.8v0.8h-0.8zM155.5 389.2h0.8v0.8h-0.8zM151.3 385.2h0.8v0.8h-0.8zM158.9 388.2h0.8v0.8h-0.8zM153.9 384.7h0.8v0.8h-0.8zM153.0 383.3h0.8v0.8h-0.8zM148.5 386.9h0.8v0.8h-0.8zM147.3 388.1h0.8v0.8h-0.8zM151.0 383.8h0.8v0.8h-0.8zM150.8 388.7h0.8v0.8h-0.8z" fill="#000" fill-opacity="0.45"/>
<path d="M170.6 386.2h0.8v0.8h-0.8zM162.8 383.0h0.8v0.8h-0.8zM162.5 386.2h0.8v0.8h-0.8zM166.0 388.1h0.8v0.8h-0.8zM162.7 386.9h0.8v0.8h-0.8zM169.6 386.5h0.8v0.8h-0.8zM166.7 382.1h0.8v0.8h-0.8zM170.3 386.0h0.8v0.8h-0.8zM160.7 385.2h0.8v0.8h-0.8zM168.7 390.0h0.8v0.8h-0.8zM169.1 379.6h0.8v0.8h-0.8zM161.1 382.8h0.8v0.8h-0.8zM166.9 384.6h0.8v0.8h-0.8zM160.7 388.9h0.8v0.8h-0.8z" fill="#000" fill-opacity="0.4"/>
<text x="180.06" y="381.00" font-size="8.2" font-weight="normal" fill="#1c1c1c" stroke="#1c1c1c" stroke-width="0.1" textLength="5.08" lengthAdjust="spacingAndGlyphs">4</text>
<line x1="200.2" y1="372.3" x2="241.7" y2="372.3" stroke="#a8a8a8" stroke-width="0.9"/>
<line x1="241.7" y1="372.3" x2="241.7" y2="408.7" stroke="#a8a8a8" stroke-width="0.9"/>
<line x1="212.5" y1="372.3" x2="212.5" y2="408.7" stroke="#8c8c8c" stroke-width="1.0"/>
<line x1="200.2" y1="393.7" x2="241.7" y2="393.7" stroke="#8c8c8c" stroke-width="1.0"/>
<line x1="200.2" y1="370.8" x2="200.2" y2="408.7" stroke="#3a3a3a" stroke-width="1.0"/>
<line x1="200.2" y1="408.7" x2="242.2" y2="408.7" stroke="#3a3a3a" stroke-width="1.0"/>
<line x1="198.6" y1="408.7" x2="200.2" y2="408.7" stroke="#555" stroke-width="0.7"/>
<line x1="200.2" y1="408.7" x2="200.2" y2="410.3" stroke="#555" stroke-width="0.7"/>
<line x1="198.6" y1="399.59999999999997" x2="200.2" y2="399.59999999999997" stroke="#555" stroke-width="0.7"/>
<line x1="210.575" y1="408.7" x2="210.575" y2="410.3" stroke="#555" stroke-width="0.7"/>
<line x1="198.6" y1="390.5" x2="200.2" y2="390.5" stroke="#555" stroke-width="0.7"/>
<line x1="220.95" y1="408.7" x2="220.95" y2="410.3" stroke="#555" stroke-width="0.7"/>
<line x1="198.6" y1="381.4" x2="200.2" y2="381.4" stroke="#555" stroke-width="0.7"/>
<line x1="231.325" y1="408.7" x2="231.325" y2="410.3" stroke="#555" stroke-width="0.7"/>
<line x1="198.6" y1="372.3" x2="200.2" y2="372.3" stroke="#555" stroke-width="0.7"/>
<line x1="241.7" y1="408.7" x2="241.7" y2="410.3" stroke="#555" stroke-width="0.7"/>
<text x="197.6" y="410.5" font-size="3.8" fill="#6a6a6a" transform="rotate(-90 197.6 410.5)" text-anchor="middle">10<tspan font-size="2.5" dy="-1.2">0</tspan></text>
<text x="201.0" y="413.7" font-size="3.8" fill="#6a6a6a" transform="rotate(-35 201.0 413.7)" text-anchor="middle">10<tspan font-size="2.5" dy="-1.2">0</tspan></text>
<text x="197.6" y="401.4" font-size="3.8" fill="#6a6a6a" transform="rotate(-90 197.6 401.4)" text-anchor="middle">10<tspan font-size="2.5" dy="-1.2">1</tspan></text>
<text x="211.4" y="413.7" font-size="3.8" fill="#6a6a6a" transform="rotate(-35 211.4 413.7)" text-anchor="middle">10<tspan font-size="2.5" dy="-1.2">1</tspan></text>
<text x="197.6" y="392.3" font-size="3.8" fill="#6a6a6a" transform="rotate(-90 197.6 392.3)" text-anchor="middle">10<tspan font-size="2.5" dy="-1.2">2</tspan></text>
<text x="221.8" y="413.7" font-size="3.8" fill="#6a6a6a" transform="rotate(-35 221.8 413.7)" text-anchor="middle">10<tspan font-size="2.5" dy="-1.2">2</tspan></text>
<text x="197.6" y="383.2" font-size="3.8" fill="#6a6a6a" transform="rotate(-90 197.6 383.2)" text-anchor="middle">10<tspan font-size="2.5" dy="-1.2">3</tspan></text>
<text x="232.1" y="413.7" font-size="3.8" fill="#6a6a6a" transform="rotate(-35 232.1 413.7)" text-anchor="middle">10<tspan font-size="2.5" dy="-1.2">3</tspan></text>
<text x="197.6" y="374.1" font-size="3.8" fill="#6a6a6a" transform="rotate(-90 197.6 374.1)" text-anchor="middle">10<tspan font-size="2.5" dy="-1.2">4</tspan></text>
<text x="242.5" y="413.7" font-size="3.8" fill="#6a6a6a" transform="rotate(-35 242.5 413.7)" text-anchor="middle">10<tspan font-size="2.5" dy="-1.2">4</tspan></text>
<g filter="url(#bl)"><ellipse cx="207.5" cy="385" rx="6.2" ry="4" transform="rotate(0 207.5 385)" fill="#111" fill-opacity="0.85"/></g>
<path d="M206.4 383.9h0.8v0.8h-0.8zM220.5 384.1h0.8v0.8h-0.8zM208.7 383.8h0.8v0.8h-0.8zM204.3 385.5h0.8v0.8h-0.8zM211.4 382.8h0.8v0.8h-0.8zM205.0 381.4h0.8v0.8h-0.8zM206.9 387.2h0.8v0.8h-0.8zM205.8 385.6h0.8v0.8h-0.8zM205.7 383.9h0.8v0.8h-0.8zM206.6 391.3h0.8v0.8h-0.8zM214.1 388.6h0.8v0.8h-0.8zM212.8 384.8h0.8v0.8h-0.8zM207.5 385.3h0.8v0.8h-0.8zM205.9 389.5h0.8v0.8h-0.8zM201.9 381.5h0.8v0.8h-0.8zM207.6 389.9h0.8v0.8h-0.8zM208.8 388.8h0.8v0.8h-0.8zM208.9 389.3h0.8v0.8h-0.8zM204.3 388.8h0.8v0.8h-0.8zM212.5 384.1h0.8v0.8h-0.8zM203.5 385.6h0.8v0.8h-0.8zM201.4 381.7h0.8v0.8h-0.8zM210.4 384.6h0.8v0.8h-0.8zM211.3 387.3h0.8v0.8h-0.8zM204.7 385.4h0.8v0.8h-0.8zM203.1 385.1h0.8v0.8h-0.8zM207.7 390.2h0.8v0.8h-0.8zM205.7 389.2h0.8v0.8h-0.8zM206.8 386.8h0.8v0.8h-0.8zM208.6 389.2h0.8v0.8h-0.8zM209.4 379.2h0.8v0.8h-0.8zM210.7 385.3h0.8v0.8h-0.8zM210.1 388.7h0.8v0.8h-0.8zM208.5 382.3h0.8v0.8h-0.8zM209.6 387.6h0.8v0.8h-0.8zM206.3 386.8h0.8v0.8h-0.8zM202.4 385.6h0.8v0.8h-0.8zM208.2 380.0h0.8v0.8h-0.8zM201.5 389.7h0.8v0.8h-0.8zM209.7 385.5h0.8v0.8h-0.8zM214.5 387.6h0.8v0.8h-0.8zM201.0 385.1h0.8v0.8h-0.8zM210.2 392.0h0.8v0.8h-0.8zM205.4 388.5h0.8v0.8h-0.8zM204.8 387.9h0.8v0.8h-0.8zM208.9 386.0h0.8v0.8h-0.8zM206.6 384.7h0.8v0.8h-0.8zM208.8 387.2h0.8v0.8h-0.8zM204.5 387.6h0.8v0.8h-0.8zM209.7 386.0h0.8v0.8h-0.8zM212.2 381.5h0.8v0.8h-0.8zM203.0 388.3h0.8v0.8h-0.8z" fill="#000" fill-opacity="0.45"/>
<path d="M214.7 385.8h0.8v0.8h-0.8zM219.3 384.7h0.8v0.8h-0.8zM223.9 382.2h0.8v0.8h-0.8zM216.9 380.5h0.8v0.8h-0.8zM214.0 386.8h0.8v0.8h-0.8zM220.6 380.1h0.8v0.8h-0.8zM225.4 383.1h0.8v0.8h-0.8zM222.3 384.3h0.8v0.8h-0.8zM219.8 385.6h0.8v0.8h-0.8zM217.4 383.0h0.8v0.8h-0.8zM222.3 383.6h0.8v0.8h-0.8zM219.0 385.2h0.8v0.8h-0.8zM225.2 384.4h0.8v0.8h-0.8zM224.2 385.8h0.8v0.8h-0.8zM225.8 382.3h0.8v0.8h-0.8zM216.0 383.1h0.8v0.8h-0.8z" fill="#000" fill-opacity="0.4"/>
<text x="235.36" y="381.00" font-size="8.2" font-weight="normal" fill="#1c1c1c" stroke="#1c1c1c" stroke-width="0.1" textLength="5.08" lengthAdjust="spacingAndGlyphs">8</text>
<text x="22.54" y="348.54" font-size="9" fill="#1c1c1c" stroke="#1c1c1c" stroke-width="0.1" textLength="19.38" lengthAdjust="spacingAndGlyphs" transform="rotate(-90 22.54 348.54)">CTR</text>
<text x="22.79" y="399.34" font-size="9" fill="#1c1c1c" stroke="#1c1c1c" stroke-width="0.1" textLength="16.08" lengthAdjust="spacingAndGlyphs" transform="rotate(-90 22.79 399.34)">6A4</text>
<text x="9.04" y="380.04" font-size="9" fill="#1c1c1c" stroke="#1c1c1c" stroke-width="0.1" textLength="28.68" lengthAdjust="spacingAndGlyphs" transform="rotate(-90 9.04 380.04)">aCD56</text>
<line x1="5.4" y1="325.5" x2="5.4" y2="343.7" stroke="#111" stroke-width="1.1"/>
<path d="M5.4 322.3 L3.6 326.3 L7.2 326.3 Z" fill="#111"/>
<line x1="5.4" y1="387.2" x2="5.4" y2="410" stroke="#111" stroke-width="1.1"/>
<line x1="30.4" y1="424.3" x2="114.2" y2="424.3" stroke="#111" stroke-width="1.1"/>
<text x="121.23" y="427.80" font-size="8.6" font-weight="normal" fill="#1c1c1c" stroke="#1c1c1c" stroke-width="0.1" textLength="28.63" lengthAdjust="spacingAndGlyphs">aCCR7</text>
<line x1="160.5" y1="424.4" x2="239.5" y2="424.4" stroke="#111" stroke-width="1.1"/>
<path d="M243 424.4 L238.5 422.5 L238.5 426.3 Z" fill="#111"/>
<rect x="26.30" y="443.90" width="96.30" height="71.50" fill="none" stroke="#8a8a8a" stroke-width="1.0"/>
<text x="63.52" y="456.80" font-size="8.8" font-weight="bold" fill="#111" stroke="#111" stroke-width="0.1" textLength="20.86" lengthAdjust="spacingAndGlyphs">mDC</text>
<line x1="36.4" y1="462.4" x2="72.2" y2="462.4" stroke="#b5b5b5" stroke-width="0.8"/>
<line x1="72.2" y1="462.4" x2="72.2" y2="496.3" stroke="#b5b5b5" stroke-width="0.8"/>
<line x1="36.4" y1="496.3" x2="36.4" y2="497.7" stroke="#666" stroke-width="0.6"/>
<text x="36.9" y="501.3" font-size="3.2" fill="#8c8c8c" transform="rotate(-45 36.9 501.3)" text-anchor="middle">10<tspan font-size="2.2" dy="-1">0</tspan></text>
<line x1="45.35" y1="496.3" x2="45.35" y2="497.7" stroke="#666" stroke-width="0.6"/>
<text x="45.9" y="501.3" font-size="3.2" fill="#8c8c8c" transform="rotate(-45 45.9 501.3)" text-anchor="middle">10<tspan font-size="2.2" dy="-1">1</tspan></text>
<line x1="54.3" y1="496.3" x2="54.3" y2="497.7" stroke="#666" stroke-width="0.6"/>
<text x="54.8" y="501.3" font-size="3.2" fill="#8c8c8c" transform="rotate(-45 54.8 501.3)" text-anchor="middle">10<tspan font-size="2.2" dy="-1">2</tspan></text>
<line x1="63.25" y1="496.3" x2="63.25" y2="497.7" stroke="#666" stroke-width="0.6"/>
<text x="63.8" y="501.3" font-size="3.2" fill="#8c8c8c" transform="rotate(-45 63.8 501.3)" text-anchor="middle">10<tspan font-size="2.2" dy="-1">3</tspan></text>
<line x1="72.2" y1="496.3" x2="72.2" y2="497.7" stroke="#666" stroke-width="0.6"/>
<text x="72.7" y="501.3" font-size="3.2" fill="#8c8c8c" transform="rotate(-45 72.7 501.3)" text-anchor="middle">10<tspan font-size="2.2" dy="-1">4</tspan></text>
<line x1="35.1" y1="496.3" x2="36.4" y2="496.3" stroke="#888" stroke-width="0.5"/>
<line x1="35.1" y1="487.825" x2="36.4" y2="487.825" stroke="#888" stroke-width="0.5"/>
<line x1="35.1" y1="479.35" x2="36.4" y2="479.35" stroke="#888" stroke-width="0.5"/>
<line x1="35.1" y1="470.875" x2="36.4" y2="470.875" stroke="#888" stroke-width="0.5"/>
<line x1="35.1" y1="462.4" x2="36.4" y2="462.4" stroke="#888" stroke-width="0.5"/>
<path d="M36.4 496.3 L37.5 494 L39 492 L40.5 484 L41.3 474 L41.8 470 L42.5 476 L43.5 484 L45 487 L47 486 L48.5 485 L49.5 483 L50.5 486 L52 485 L53 487 L54 486.5 L55 488 L56 489 L57 488.5 L58 491 L60 493 L62 494.5 L64 495.8 L72.2 496.3Z" fill="#787878" stroke="#333" stroke-width="0.4"/>
<path d="M37.8 494 L39 489 L40.2 483 L40.8 480 L41.5 484 L41.5 494Z" fill="#fff"/>
<path d="M36.8 495 L38 490 L39 482 L40 475 L41 469.5 L41.6 467.5 L42.5 472 L43 477 L44 482 L45 486 L46 490 L47 493 L48 495" fill="none" stroke="#000" stroke-width="1.3" stroke-linejoin="round"/>
<line x1="36.4" y1="461.9" x2="36.4" y2="496.3" stroke="#333" stroke-width="0.9"/>
<line x1="36.4" y1="496.3" x2="72.2" y2="496.3" stroke="#333" stroke-width="0.9"/>
<text x="59.65" y="474.60" font-size="8.4" font-weight="normal" fill="#1c1c1c" stroke="#1c1c1c" stroke-width="0.1" textLength="10.41" lengthAdjust="spacingAndGlyphs">55</text>
<line x1="82.2" y1="461.9" x2="118.5" y2="461.9" stroke="#b5b5b5" stroke-width="0.8"/>
<line x1="118.5" y1="461.9" x2="118.5" y2="496.1" stroke="#b5b5b5" stroke-width="0.8"/>
<line x1="82.2" y1="496.1" x2="82.2" y2="497.5" stroke="#666" stroke-width="0.6"/>
<text x="82.7" y="501.1" font-size="3.2" fill="#8c8c8c" transform="rotate(-45 82.7 501.1)" text-anchor="middle">10<tspan font-size="2.2" dy="-1">0</tspan></text>
<line x1="91.275" y1="496.1" x2="91.275" y2="497.5" stroke="#666" stroke-width="0.6"/>
<text x="91.8" y="501.1" font-size="3.2" fill="#8c8c8c" transform="rotate(-45 91.8 501.1)" text-anchor="middle">10<tspan font-size="2.2" dy="-1">1</tspan></text>
<line x1="100.35" y1="496.1" x2="100.35" y2="497.5" stroke="#666" stroke-width="0.6"/>
<text x="100.8" y="501.1" font-size="3.2" fill="#8c8c8c" transform="rotate(-45 100.8 501.1)" text-anchor="middle">10<tspan font-size="2.2" dy="-1">2</tspan></text>
<line x1="109.425" y1="496.1" x2="109.425" y2="497.5" stroke="#666" stroke-width="0.6"/>
<text x="109.9" y="501.1" font-size="3.2" fill="#8c8c8c" transform="rotate(-45 109.9 501.1)" text-anchor="middle">10<tspan font-size="2.2" dy="-1">3</tspan></text>
<line x1="118.5" y1="496.1" x2="118.5" y2="497.5" stroke="#666" stroke-width="0.6"/>
<text x="119.0" y="501.1" font-size="3.2" fill="#8c8c8c" transform="rotate(-45 119.0 501.1)" text-anchor="middle">10<tspan font-size="2.2" dy="-1">4</tspan></text>
<line x1="80.9" y1="496.1" x2="82.2" y2="496.1" stroke="#888" stroke-width="0.5"/>
<line x1="80.9" y1="487.55" x2="82.2" y2="487.55" stroke="#888" stroke-width="0.5"/>
<line x1="80.9" y1="479.0" x2="82.2" y2="479.0" stroke="#888" stroke-width="0.5"/>
<line x1="80.9" y1="470.45" x2="82.2" y2="470.45" stroke="#888" stroke-width="0.5"/>
<line x1="80.9" y1="461.9" x2="82.2" y2="461.9" stroke="#888" stroke-width="0.5"/>
<path d="M82.2 496.1 L82.4 480 L84 476 L85.5 470.5 L86.5 469 L87.5 474 L88.5 469 L89.3 464.5 L90 463.8 L90.7 468 L91.3 480 L92 489 L93 494 L96 495.6 L118.5 496.1Z" fill="#3c3c3c" stroke="#333" stroke-width="0.4"/>
<path d="M83.3 494.5 L84.3 489 L85.5 482 L86.5 478 L87.3 483 L87.6 494.5Z" fill="#fff"/>
<path d="M82.6 490 L84 484 L85.5 476 L86.5 471 L87.3 476 L88 482 L88.5 486" fill="none" stroke="#000" stroke-width="1.3" stroke-linejoin="round"/>
<line x1="82.2" y1="461.4" x2="82.2" y2="496.1" stroke="#333" stroke-width="0.9"/>
<line x1="82.2" y1="496.1" x2="118.5" y2="496.1" stroke="#333" stroke-width="0.9"/>
<text x="105.95" y="474.50" font-size="8.4" font-weight="normal" fill="#1c1c1c" stroke="#1c1c1c" stroke-width="0.1" textLength="10.41" lengthAdjust="spacingAndGlyphs">19</text>
<text x="37.53" y="511.20" font-size="8.6" font-weight="normal" fill="#1c1c1c" stroke="#1c1c1c" stroke-width="0.1" textLength="29.93" lengthAdjust="spacingAndGlyphs">aCCR7</text>
<text x="82.53" y="511.20" font-size="8.6" font-weight="normal" fill="#1c1c1c" stroke="#1c1c1c" stroke-width="0.1" textLength="32.03" lengthAdjust="spacingAndGlyphs">aHLA-E</text>
<text x="252.7" y="9.2" font-size="11" font-weight="bold" fill="#111">B</text>
<text x="277.55" y="11.30" font-size="8.4" font-weight="normal" fill="#1c1c1c" stroke="#1c1c1c" stroke-width="0.1" textLength="102.71" lengthAdjust="spacingAndGlyphs">KIR2DS1<tspan font-size="5" dy="-3.4">+</tspan><tspan dy="3.4">/2DS1</tspan><tspan font-size="5" dy="-3.4">-</tspan><tspan dy="3.4"> NKG2A</tspan><tspan font-size="5" dy="-3.4">+</tspan></text>
<line x1="284.2" y1="17.6" x2="379.8" y2="17.6" stroke="#a5a5a5" stroke-width="1.0"/>
<line x1="379.8" y1="17.6" x2="379.8" y2="142.7" stroke="#b5b5b5" stroke-width="1.0"/>
<line x1="284.2" y1="17.1" x2="284.2" y2="143.2" stroke="#a5a5a5" stroke-width="1.0"/>
<line x1="283.7" y1="142.7" x2="380.3" y2="142.7" stroke="#a5a5a5" stroke-width="1.0"/>
<text x="271.80" y="23.62" font-size="9" font-weight="normal" fill="#1c1c1c" stroke="#1c1c1c" stroke-width="0.1" textLength="10.09" lengthAdjust="spacingAndGlyphs">40</text>
<text x="271.80" y="38.12" font-size="9" font-weight="normal" fill="#1c1c1c" stroke="#1c1c1c" stroke-width="0.1" textLength="10.09" lengthAdjust="spacingAndGlyphs">35</text>
<text x="271.80" y="53.52" font-size="9" font-weight="normal" fill="#1c1c1c" stroke="#1c1c1c" stroke-width="0.1" textLength="10.09" lengthAdjust="spacingAndGlyphs">30</text>
<text x="271.80" y="68.62" font-size="9" font-weight="normal" fill="#1c1c1c" stroke="#1c1c1c" stroke-width="0.1" textLength="10.09" lengthAdjust="spacingAndGlyphs">25</text>
<text x="271.80" y="84.32" font-size="9" font-weight="normal" fill="#1c1c1c" stroke="#1c1c1c" stroke-width="0.1" textLength="10.09" lengthAdjust="spacingAndGlyphs">20</text>
<text x="271.80" y="99.22" font-size="9" font-weight="normal" fill="#1c1c1c" stroke="#1c1c1c" stroke-width="0.1" textLength="10.09" lengthAdjust="spacingAndGlyphs">15</text>
<text x="271.80" y="114.52" font-size="9" font-weight="normal" fill="#1c1c1c" stroke="#1c1c1c" stroke-width="0.1" textLength="10.09" lengthAdjust="spacingAndGlyphs">10</text>
<text x="276.81" y="130.82" font-size="9" font-weight="normal" fill="#1c1c1c" stroke="#1c1c1c" stroke-width="0.1" textLength="5.08" lengthAdjust="spacingAndGlyphs">5</text>
<text x="276.81" y="143.82" font-size="9" font-weight="normal" fill="#1c1c1c" stroke="#1c1c1c" stroke-width="0.1" textLength="5.08" lengthAdjust="spacingAndGlyphs">0</text>
<line x1="297.45000000000005" y1="136.3" x2="297.45000000000005" y2="141.2" stroke="#a8a8a8" stroke-width="0.8"/>
<line x1="295.45000000000005" y1="136.3" x2="299.45000000000005" y2="136.3" stroke="#808080" stroke-width="0.9"/>
<rect x="291.80" y="141.20" width="11.30" height="1.50" fill="#2a2a2a" stroke="none" stroke-width="0"/>
<line x1="297.45000000000005" y1="142.2" x2="297.45000000000005" y2="142.7" stroke="#3a3a3a" stroke-width="0.6"/>
<line x1="314.75" y1="139.4" x2="314.75" y2="141.8" stroke="#a8a8a8" stroke-width="0.8"/>
<line x1="312.75" y1="139.4" x2="316.75" y2="139.4" stroke="#808080" stroke-width="0.9"/>
<rect x="308.70" y="141.80" width="12.10" height="0.90" fill="#9a9a9a" stroke="#6a6a6a" stroke-width="0.6"/>
<line x1="349.45" y1="58.3" x2="349.45" y2="90.1" stroke="#a8a8a8" stroke-width="0.8"/>
<line x1="347.2" y1="58.3" x2="351.7" y2="58.3" stroke="#808080" stroke-width="0.9"/>
<rect x="343.90" y="90.10" width="11.10" height="52.60" fill="#2a2a2a" stroke="none" stroke-width="0"/>
<line x1="349.45" y1="91.1" x2="349.45" y2="121.89999999999999" stroke="#3a3a3a" stroke-width="0.6"/>
<line x1="366.2" y1="126.3" x2="366.2" y2="135" stroke="#a8a8a8" stroke-width="0.8"/>
<line x1="364.2" y1="126.3" x2="368.2" y2="126.3" stroke="#808080" stroke-width="0.9"/>
<rect x="360.40" y="135.00" width="11.60" height="7.70" fill="#9a9a9a" stroke="#6a6a6a" stroke-width="0.6"/>
<path d="M297.5 57.3 L298.3 55.4 L348.2 55.4 L349 57.3" fill="none" stroke="#262626" stroke-width="1.1"/>
<path d="M350 57.3 L350.8 55.4 L365.7 55.4 L366.5 57.3" fill="none" stroke="#262626" stroke-width="1.1"/>
<circle cx="320.97" cy="53.10" r="1.05" fill="#222"/>
<circle cx="324.43" cy="53.10" r="1.05" fill="#222"/>
<circle cx="357.17" cy="53.10" r="1.05" fill="#222"/>
<circle cx="360.62" cy="53.10" r="1.05" fill="#222"/>
<text x="267.20" y="125.32" font-size="8.6" fill="#1c1c1c" stroke="#1c1c1c" stroke-width="0.1" textLength="88.13" lengthAdjust="spacingAndGlyphs" transform="rotate(-90 267.20 125.32)">% CCR7<tspan font-size="5.2" dy="-3.2">+</tspan><tspan dy="3.2"> </tspan>NK CELLS</text>
<line x1="286" y1="158.2" x2="326" y2="158.2" stroke="#222" stroke-width="1.2"/>
<line x1="337.5" y1="158.2" x2="377.6" y2="158.2" stroke="#222" stroke-width="1.2"/>
<text x="299.53" y="173.80" font-size="8.6" font-weight="normal" fill="#1c1c1c" stroke="#1c1c1c" stroke-width="0.1" textLength="13.13" lengthAdjust="spacingAndGlyphs">NK</text>
<text x="348.53" y="170.90" font-size="8.6" font-weight="normal" fill="#1c1c1c" stroke="#1c1c1c" stroke-width="0.1" textLength="18.33" lengthAdjust="spacingAndGlyphs">NK+</text>
<text x="335.03" y="180.40" font-size="8.6" font-weight="normal" fill="#1c1c1c" stroke="#1c1c1c" stroke-width="0.1" textLength="46.63" lengthAdjust="spacingAndGlyphs">T cell blasts</text>
<rect x="283.40" y="191.70" width="6.30" height="6.80" fill="#2e2e2e" stroke="#111" stroke-width="0.9"/>
<text x="292.52" y="198.80" font-size="8.8" font-weight="normal" fill="#1c1c1c" stroke="#1c1c1c" stroke-width="0.1" textLength="58.76" lengthAdjust="spacingAndGlyphs">NK KIR2DS1+</text>
<rect x="283.40" y="208.60" width="6.30" height="6.80" fill="#9a9a9a" stroke="#3a3a3a" stroke-width="0.9"/>
<text x="293.92" y="215.70" font-size="8.8" font-weight="normal" fill="#1c1c1c" stroke="#1c1c1c" stroke-width="0.1" textLength="54.86" lengthAdjust="spacingAndGlyphs">NK KIR2DS1-</text>
<text x="429.05" y="11.30" font-size="8.4" font-weight="normal" fill="#1c1c1c" stroke="#1c1c1c" stroke-width="0.1" textLength="78.41" lengthAdjust="spacingAndGlyphs">KIR2DS1<tspan font-size="5" dy="-3.4">+</tspan><tspan dy="3.4"> NKG2A</tspan><tspan font-size="5" dy="-3.4">+</tspan></text>
<line x1="421.4" y1="17.4" x2="516.6" y2="17.4" stroke="#a5a5a5" stroke-width="1.0"/>
<line x1="516.6" y1="17.4" x2="516.6" y2="142.6" stroke="#b5b5b5" stroke-width="1.0"/>
<line x1="421.4" y1="16.9" x2="421.4" y2="143.1" stroke="#a5a5a5" stroke-width="1.0"/>
<line x1="420.9" y1="142.6" x2="517.1" y2="142.6" stroke="#a5a5a5" stroke-width="1.0"/>
<text x="409.60" y="24.22" font-size="9" font-weight="normal" fill="#1c1c1c" stroke="#1c1c1c" stroke-width="0.1" textLength="10.09" lengthAdjust="spacingAndGlyphs">40</text>
<text x="409.60" y="37.82" font-size="9" font-weight="normal" fill="#1c1c1c" stroke="#1c1c1c" stroke-width="0.1" textLength="10.09" lengthAdjust="spacingAndGlyphs">35</text>
<text x="409.60" y="52.72" font-size="9" font-weight="normal" fill="#1c1c1c" stroke="#1c1c1c" stroke-width="0.1" textLength="10.09" lengthAdjust="spacingAndGlyphs">30</text>
<text x="409.60" y="68.12" font-size="9" font-weight="normal" fill="#1c1c1c" stroke="#1c1c1c" stroke-width="0.1" textLength="10.09" lengthAdjust="spacingAndGlyphs">25</text>
<text x="409.60" y="83.72" font-size="9" font-weight="normal" fill="#1c1c1c" stroke="#1c1c1c" stroke-width="0.1" textLength="10.09" lengthAdjust="spacingAndGlyphs">20</text>
<text x="409.60" y="98.72" font-size="9" font-weight="normal" fill="#1c1c1c" stroke="#1c1c1c" stroke-width="0.1" textLength="10.09" lengthAdjust="spacingAndGlyphs">15</text>
<text x="409.60" y="114.22" font-size="9" font-weight="normal" fill="#1c1c1c" stroke="#1c1c1c" stroke-width="0.1" textLength="10.09" lengthAdjust="spacingAndGlyphs">10</text>
<text x="414.61" y="130.82" font-size="9" font-weight="normal" fill="#1c1c1c" stroke="#1c1c1c" stroke-width="0.1" textLength="5.08" lengthAdjust="spacingAndGlyphs">5</text>
<text x="414.61" y="143.52" font-size="9" font-weight="normal" fill="#1c1c1c" stroke="#1c1c1c" stroke-width="0.1" textLength="5.08" lengthAdjust="spacingAndGlyphs">0</text>
<line x1="440.70000000000005" y1="58.4" x2="440.70000000000005" y2="90" stroke="#a8a8a8" stroke-width="0.8"/>
<line x1="438.20000000000005" y1="58.4" x2="443.20000000000005" y2="58.4" stroke="#808080" stroke-width="0.9"/>
<rect x="434.60" y="90.00" width="12.20" height="52.60" fill="#2a2a2a" stroke="none" stroke-width="0"/>
<line x1="440.70000000000005" y1="91.0" x2="440.70000000000005" y2="121.6" stroke="#3a3a3a" stroke-width="0.6"/>
<line x1="469.6" y1="116.5" x2="469.6" y2="124.6" stroke="#a8a8a8" stroke-width="0.8"/>
<line x1="467.35" y1="116.5" x2="471.85" y2="116.5" stroke="#808080" stroke-width="0.9"/>
<rect x="463.50" y="124.60" width="12.20" height="18.00" fill="#2a2a2a" stroke="none" stroke-width="0"/>
<line x1="469.6" y1="125.6" x2="469.6" y2="132.7" stroke="#3a3a3a" stroke-width="0.6"/>
<line x1="498.3" y1="25.2" x2="498.3" y2="54.1" stroke="#a8a8a8" stroke-width="0.8"/>
<line x1="495.90000000000003" y1="25.2" x2="500.7" y2="25.2" stroke="#808080" stroke-width="0.9"/>
<rect x="492.60" y="54.10" width="11.40" height="88.50" fill="#2a2a2a" stroke="none" stroke-width="0"/>
<line x1="498.3" y1="55.1" x2="498.3" y2="83.0" stroke="#3a3a3a" stroke-width="0.6"/>
<path d="M440.7 57.8 L441.5 55.9 L469.4 55.9 L470.2 57.8" fill="none" stroke="#262626" stroke-width="1.1"/>
<path d="M469.5 24.5 L470.3 22.6 L498.09999999999997 22.6 L498.9 24.5" fill="none" stroke="#262626" stroke-width="1.1"/>
<circle cx="455.50" cy="53.70" r="1.05" fill="#222"/>
<circle cx="483.80" cy="20.60" r="1.05" fill="#222"/>
<text x="406.10" y="125.32" font-size="8.6" fill="#1c1c1c" stroke="#1c1c1c" stroke-width="0.1" textLength="88.53" lengthAdjust="spacingAndGlyphs" transform="rotate(-90 406.10 125.32)">% CCR7<tspan font-size="5.2" dy="-3.2">+</tspan><tspan dy="3.2"> </tspan>NK CELLS</text>
<text x="431.53" y="154.90" font-size="8.6" font-weight="normal" fill="#1c1c1c" stroke="#1c1c1c" stroke-width="0.1" textLength="18.73" lengthAdjust="spacingAndGlyphs">CTR</text>
<text x="460.83" y="154.90" font-size="8.6" font-weight="normal" fill="#1c1c1c" stroke="#1c1c1c" stroke-width="0.1" textLength="16.73" lengthAdjust="spacingAndGlyphs">6A4</text>
<text x="481.43" y="154.90" font-size="8.6" font-weight="normal" fill="#1c1c1c" stroke="#1c1c1c" stroke-width="0.1" textLength="35.53" lengthAdjust="spacingAndGlyphs">aNKG2A</text>
<line x1="422" y1="158" x2="517.5" y2="158" stroke="#222" stroke-width="1.2"/>
<text x="438.73" y="171.30" font-size="8.6" font-weight="normal" fill="#1c1c1c" stroke="#1c1c1c" stroke-width="0.1" textLength="65.73" lengthAdjust="spacingAndGlyphs">NK+T cell blasts</text>
<text x="252.3" y="297.2" font-size="11" font-weight="bold" fill="#111">D</text>
<text x="276.55" y="299.20" font-size="8.4" font-weight="normal" fill="#1c1c1c" stroke="#1c1c1c" stroke-width="0.1" textLength="103.71" lengthAdjust="spacingAndGlyphs">KIR2DS1<tspan font-size="5" dy="-3.4">+</tspan><tspan dy="3.4">/2DS1</tspan><tspan font-size="5" dy="-3.4">-</tspan><tspan dy="3.4"> NKG2A</tspan><tspan font-size="5" dy="-3.4">+</tspan></text>
<line x1="284.2" y1="304.7" x2="379.5" y2="304.7" stroke="#a5a5a5" stroke-width="1.0"/>
<line x1="379.5" y1="304.7" x2="379.5" y2="429.7" stroke="#b5b5b5" stroke-width="1.0"/>
<line x1="284.2" y1="304.2" x2="284.2" y2="430.2" stroke="#a5a5a5" stroke-width="1.0"/>
<line x1="283.7" y1="429.7" x2="380.0" y2="429.7" stroke="#a5a5a5" stroke-width="1.0"/>
<text x="272.00" y="311.02" font-size="9" font-weight="normal" fill="#1c1c1c" stroke="#1c1c1c" stroke-width="0.1" textLength="10.09" lengthAdjust="spacingAndGlyphs">70</text>
<text x="272.00" y="327.42" font-size="9" font-weight="normal" fill="#1c1c1c" stroke="#1c1c1c" stroke-width="0.1" textLength="10.09" lengthAdjust="spacingAndGlyphs">60</text>
<text x="272.00" y="344.82" font-size="9" font-weight="normal" fill="#1c1c1c" stroke="#1c1c1c" stroke-width="0.1" textLength="10.09" lengthAdjust="spacingAndGlyphs">50</text>
<text x="272.00" y="362.72" font-size="9" font-weight="normal" fill="#1c1c1c" stroke="#1c1c1c" stroke-width="0.1" textLength="10.09" lengthAdjust="spacingAndGlyphs">40</text>
<text x="272.00" y="380.72" font-size="9" font-weight="normal" fill="#1c1c1c" stroke="#1c1c1c" stroke-width="0.1" textLength="10.09" lengthAdjust="spacingAndGlyphs">30</text>
<text x="272.00" y="398.82" font-size="9" font-weight="normal" fill="#1c1c1c" stroke="#1c1c1c" stroke-width="0.1" textLength="10.09" lengthAdjust="spacingAndGlyphs">20</text>
<text x="272.00" y="416.72" font-size="9" font-weight="normal" fill="#1c1c1c" stroke="#1c1c1c" stroke-width="0.1" textLength="10.09" lengthAdjust="spacingAndGlyphs">10</text>
<text x="277.01" y="431.12" font-size="9" font-weight="normal" fill="#1c1c1c" stroke="#1c1c1c" stroke-width="0.1" textLength="5.08" lengthAdjust="spacingAndGlyphs">0</text>
<rect x="291.80" y="429.20" width="11.30" height="0.50" fill="#2a2a2a" stroke="none" stroke-width="0"/>
<rect x="308.70" y="429.20" width="12.10" height="0.50" fill="#9a9a9a" stroke="#6a6a6a" stroke-width="0.6"/>
<line x1="349.25" y1="342.6" x2="349.25" y2="362.7" stroke="#a8a8a8" stroke-width="0.8"/>
<line x1="347.0" y1="342.6" x2="351.5" y2="342.6" stroke="#808080" stroke-width="0.9"/>
<rect x="343.50" y="362.70" width="11.50" height="67.00" fill="#2a2a2a" stroke="none" stroke-width="0"/>
<line x1="349.25" y1="363.7" x2="349.25" y2="382.79999999999995" stroke="#3a3a3a" stroke-width="0.6"/>
<line x1="366.2" y1="412" x2="366.2" y2="418" stroke="#a8a8a8" stroke-width="0.8"/>
<line x1="364.2" y1="412" x2="368.2" y2="412" stroke="#808080" stroke-width="0.9"/>
<rect x="360.20" y="418.00" width="12.00" height="11.70" fill="#9a9a9a" stroke="#6a6a6a" stroke-width="0.6"/>
<path d="M296.7 341.2 L297.5 339.3 L346.9 339.3 L347.7 341.2" fill="none" stroke="#262626" stroke-width="1.1"/>
<path d="M350.2 341.2 L351.0 339.3 L366.0 339.3 L366.8 341.2" fill="none" stroke="#262626" stroke-width="1.1"/>
<circle cx="318.75" cy="337.00" r="1.05" fill="#222"/>
<circle cx="322.20" cy="337.00" r="1.05" fill="#222"/>
<circle cx="325.65" cy="337.00" r="1.05" fill="#222"/>
<circle cx="356.77" cy="337.00" r="1.05" fill="#222"/>
<circle cx="360.23" cy="337.00" r="1.05" fill="#222"/>
<text x="266.80" y="414.32" font-size="8.6" fill="#1c1c1c" stroke="#1c1c1c" stroke-width="0.1" textLength="89.03" lengthAdjust="spacingAndGlyphs" transform="rotate(-90 266.80 414.32)">% CCR7<tspan font-size="5.2" dy="-3.2">+</tspan><tspan dy="3.2"> </tspan>NK CELLS</text>
<line x1="285.6" y1="444.6" x2="325" y2="444.6" stroke="#222" stroke-width="1.2"/>
<line x1="338.2" y1="444.6" x2="377.8" y2="444.6" stroke="#222" stroke-width="1.2"/>
<text x="299.43" y="457.80" font-size="8.6" font-weight="normal" fill="#1c1c1c" stroke="#1c1c1c" stroke-width="0.1" textLength="12.53" lengthAdjust="spacingAndGlyphs">NK</text>
<text x="338.33" y="457.80" font-size="8.6" font-weight="normal" fill="#1c1c1c" stroke="#1c1c1c" stroke-width="0.1" textLength="38.73" lengthAdjust="spacingAndGlyphs">NK+mDC</text>
<rect x="283.40" y="469.80" width="6.30" height="6.80" fill="#2e2e2e" stroke="#111" stroke-width="0.9"/>
<text x="292.52" y="476.90" font-size="8.8" font-weight="normal" fill="#1c1c1c" stroke="#1c1c1c" stroke-width="0.1" textLength="58.76" lengthAdjust="spacingAndGlyphs">NK KIR2DS1+</text>
<rect x="283.40" y="487.80" width="6.30" height="6.80" fill="#9a9a9a" stroke="#3a3a3a" stroke-width="0.9"/>
<text x="293.92" y="494.90" font-size="8.8" font-weight="normal" fill="#1c1c1c" stroke="#1c1c1c" stroke-width="0.1" textLength="54.86" lengthAdjust="spacingAndGlyphs">NK KIR2DS1-</text>
<text x="429.05" y="299.20" font-size="8.4" font-weight="normal" fill="#1c1c1c" stroke="#1c1c1c" stroke-width="0.1" textLength="78.41" lengthAdjust="spacingAndGlyphs">KIR2DS1<tspan font-size="5" dy="-3.4">+</tspan><tspan dy="3.4"> NKG2A</tspan><tspan font-size="5" dy="-3.4">+</tspan></text>
<line x1="421.3" y1="304.7" x2="517.2" y2="304.7" stroke="#a5a5a5" stroke-width="1.0"/>
<line x1="517.2" y1="304.7" x2="517.2" y2="429.7" stroke="#b5b5b5" stroke-width="1.0"/>
<line x1="421.3" y1="304.2" x2="421.3" y2="430.2" stroke="#a5a5a5" stroke-width="1.0"/>
<line x1="420.8" y1="429.7" x2="517.7" y2="429.7" stroke="#a5a5a5" stroke-width="1.0"/>
<text x="409.60" y="310.72" font-size="9" font-weight="normal" fill="#1c1c1c" stroke="#1c1c1c" stroke-width="0.1" textLength="10.09" lengthAdjust="spacingAndGlyphs">70</text>
<text x="409.60" y="327.42" font-size="9" font-weight="normal" fill="#1c1c1c" stroke="#1c1c1c" stroke-width="0.1" textLength="10.09" lengthAdjust="spacingAndGlyphs">60</text>
<text x="409.60" y="344.72" font-size="9" font-weight="normal" fill="#1c1c1c" stroke="#1c1c1c" stroke-width="0.1" textLength="10.09" lengthAdjust="spacingAndGlyphs">50</text>
<text x="409.60" y="362.42" font-size="9" font-weight="normal" fill="#1c1c1c" stroke="#1c1c1c" stroke-width="0.1" textLength="10.09" lengthAdjust="spacingAndGlyphs">40</text>
<text x="409.60" y="380.62" font-size="9" font-weight="normal" fill="#1c1c1c" stroke="#1c1c1c" stroke-width="0.1" textLength="10.09" lengthAdjust="spacingAndGlyphs">30</text>
<text x="409.60" y="398.52" font-size="9" font-weight="normal" fill="#1c1c1c" stroke="#1c1c1c" stroke-width="0.1" textLength="10.09" lengthAdjust="spacingAndGlyphs">20</text>
<text x="409.60" y="416.12" font-size="9" font-weight="normal" fill="#1c1c1c" stroke="#1c1c1c" stroke-width="0.1" textLength="10.09" lengthAdjust="spacingAndGlyphs">10</text>
<text x="414.61" y="431.72" font-size="9" font-weight="normal" fill="#1c1c1c" stroke="#1c1c1c" stroke-width="0.1" textLength="5.08" lengthAdjust="spacingAndGlyphs">0</text>
<line x1="440.6" y1="342.3" x2="440.6" y2="362.8" stroke="#a8a8a8" stroke-width="0.8"/>
<line x1="438.1" y1="342.3" x2="443.1" y2="342.3" stroke="#808080" stroke-width="0.9"/>
<rect x="434.80" y="362.80" width="11.60" height="66.90" fill="#2a2a2a" stroke="none" stroke-width="0"/>
<line x1="440.6" y1="363.8" x2="440.6" y2="383.3" stroke="#3a3a3a" stroke-width="0.6"/>
<line x1="469.4" y1="400.6" x2="469.4" y2="406.4" stroke="#a8a8a8" stroke-width="0.8"/>
<line x1="467.15" y1="400.6" x2="471.65" y2="400.6" stroke="#808080" stroke-width="0.9"/>
<rect x="463.80" y="406.40" width="11.20" height="23.30" fill="#2a2a2a" stroke="none" stroke-width="0"/>
<line x1="469.4" y1="407.4" x2="469.4" y2="412.19999999999993" stroke="#3a3a3a" stroke-width="0.6"/>
<line x1="498.1" y1="316.9" x2="498.1" y2="339.7" stroke="#a8a8a8" stroke-width="0.8"/>
<line x1="495.70000000000005" y1="316.9" x2="500.5" y2="316.9" stroke="#808080" stroke-width="0.9"/>
<rect x="492.40" y="339.70" width="11.40" height="90.00" fill="#2a2a2a" stroke="none" stroke-width="0"/>
<line x1="498.1" y1="340.7" x2="498.1" y2="362.5" stroke="#3a3a3a" stroke-width="0.6"/>
<path d="M440.3 341.59999999999997 L441.1 339.7 L468.59999999999997 339.7 L469.4 341.59999999999997" fill="none" stroke="#262626" stroke-width="1.1"/>
<path d="M469.6 315.9 L470.40000000000003 314 L497.9 314 L498.7 315.9" fill="none" stroke="#262626" stroke-width="1.1"/>
<circle cx="454.80" cy="337.10" r="1.05" fill="#222"/>
<circle cx="483.80" cy="311.40" r="1.05" fill="#222"/>
<text x="405.90" y="415.32" font-size="8.6" fill="#1c1c1c" stroke="#1c1c1c" stroke-width="0.1" textLength="89.03" lengthAdjust="spacingAndGlyphs" transform="rotate(-90 405.90 415.32)">% CCR7<tspan font-size="5.2" dy="-3.2">+</tspan><tspan dy="3.2"> </tspan>NK CELLS</text>
<text x="432.03" y="442.70" font-size="8.6" font-weight="normal" fill="#1c1c1c" stroke="#1c1c1c" stroke-width="0.1" textLength="19.03" lengthAdjust="spacingAndGlyphs">CTR</text>
<text x="461.03" y="442.70" font-size="8.6" font-weight="normal" fill="#1c1c1c" stroke="#1c1c1c" stroke-width="0.1" textLength="16.03" lengthAdjust="spacingAndGlyphs">6A4</text>
<text x="481.93" y="442.70" font-size="8.6" font-weight="normal" fill="#1c1c1c" stroke="#1c1c1c" stroke-width="0.1" textLength="36.43" lengthAdjust="spacingAndGlyphs">aNKG2A</text>
<line x1="422" y1="444.7" x2="518" y2="444.7" stroke="#222" stroke-width="1.2"/>
<text x="452.43" y="457.80" font-size="8.6" font-weight="normal" fill="#1c1c1c" stroke="#1c1c1c" stroke-width="0.1" textLength="38.53" lengthAdjust="spacingAndGlyphs">NK+mDC</text>
</svg></body></html>
